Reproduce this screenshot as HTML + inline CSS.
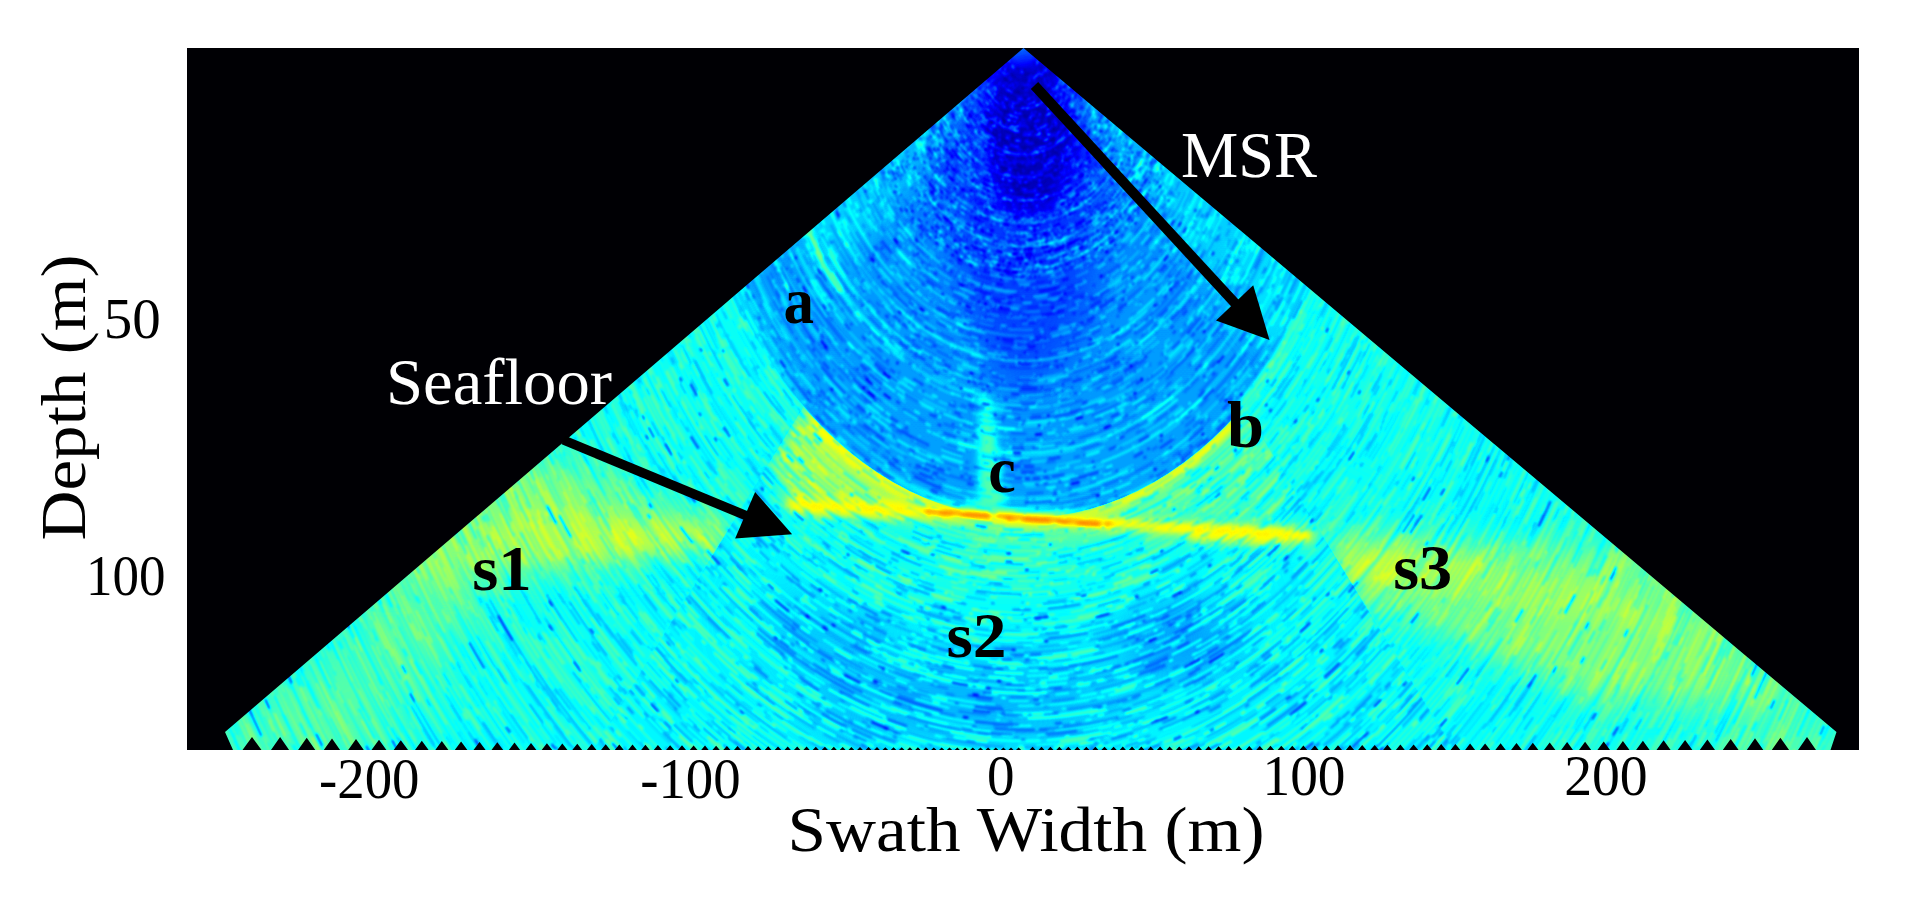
<!DOCTYPE html>
<html lang="en"><head><meta charset="utf-8"><title>Water column sonar image</title>
<style>html,body{margin:0;padding:0;background:#fff}body{width:1922px;height:897px;overflow:hidden}svg{display:block}text{font-family:"Liberation Serif",serif}</style></head><body>
<svg width="1922" height="897" viewBox="0 0 1922 897">
<defs>
<filter id="jet" filterUnits="userSpaceOnUse" x="187" y="48" width="1672" height="702" color-interpolation-filters="sRGB">
<feComponentTransfer><feFuncR type="table" tableValues="0 0 0 0 .5 1 1 1 .5"/><feFuncG type="table" tableValues="0 0 .5 1 1 1 .5 0 0"/><feFuncB type="table" tableValues=".5 1 1 1 .5 0 0 0 0"/></feComponentTransfer></filter>
<filter id="b4" filterUnits="userSpaceOnUse" x="-2600" y="-200" width="5400" height="1800" color-interpolation-filters="sRGB"><feGaussianBlur stdDeviation="4"/></filter>
<filter id="b8" filterUnits="userSpaceOnUse" x="-2600" y="-200" width="5400" height="1800" color-interpolation-filters="sRGB"><feGaussianBlur stdDeviation="8"/></filter>
<filter id="b14" filterUnits="userSpaceOnUse" x="-2600" y="-200" width="5400" height="1800" color-interpolation-filters="sRGB"><feGaussianBlur stdDeviation="14"/></filter>
<filter id="b25" filterUnits="userSpaceOnUse" x="-2600" y="-200" width="5400" height="1800" color-interpolation-filters="sRGB"><feGaussianBlur stdDeviation="25"/></filter>
<filter id="b2" filterUnits="userSpaceOnUse" x="-2600" y="-200" width="5400" height="1800" color-interpolation-filters="sRGB"><feGaussianBlur stdDeviation="2"/></filter>
<filter id="nb" filterUnits="userSpaceOnUse" x="-1300" y="-10" width="2600" height="730" color-interpolation-filters="sRGB"><feGaussianBlur stdDeviation="1.3 1"/></filter>
<filter id="nb2" filterUnits="userSpaceOnUse" x="-1300" y="-10" width="2600" height="730" color-interpolation-filters="sRGB"><feGaussianBlur stdDeviation="1.2 .9"/></filter>
<clipPath id="fan"><path d="M1023.5 48 1836.5 732 1830.5 750 1816 750 1807 737.1 1798 750 1789.1 750 1780.4 737.7 1771.8 750 1763.3 750 1755 738.3 1746.8 750 1738.6 750 1730.7 738.9 1722.8 750 1715 750 1707.4 739.4 1699.8 750 1692.4 750 1685.1 739.9 1677.7 750 1670.6 750 1663.6 740.3 1656.5 750 1649.6 750 1642.9 740.7 1636.1 750 1629.5 750 1622.9 741.1 1616.4 750 1610 750 1603.7 741.5 1597.4 750 1591.2 750 1585.1 741.8 1579 750 1573 750 1567.1 742.1 1561.2 750 1555.4 750 1549.7 742.4 1544 750 1538.4 750 1532.8 742.7 1527.3 750 1521.9 750 1516.5 743 1511.1 750 1505.8 750 1500.6 743.2 1495.3 750 1490.2 750 1485.1 743.4 1480 750 1475.1 750 1470.1 743.6 1465.1 750 1460.3 750 1455.4 743.9 1450.6 750 1445.9 750 1441.2 744 1436.4 750 1431.9 750 1427.2 744.2 1422.6 750 1418.2 750 1413.6 744.4 1409.1 750 1404.8 750 1400.4 744.6 1395.9 750 1391.7 750 1387.4 744.7 1383.1 750 1378.9 750 1374.7 744.9 1370.4 750 1366.4 750 1362.2 745 1358.1 750 1354.1 750 1350 745.1 1345.9 750 1342 750 1338 745.2 1334 750 1330.2 750 1326.3 745.4 1322.4 750 1318.6 750 1314.8 745.5 1310.9 750 1307.2 750 1303.4 745.6 1299.6 750 1296 750 1292.3 745.7 1288.5 750 1285 750 1281.3 745.8 1277.6 750 1274.1 750 1270.5 745.8 1266.8 750 1263.4 750 1259.8 745.9 1256.2 750 1252.8 750 1249.3 746 1245.8 750 1242.4 750 1238.9 746.1 1235.5 750 1232.1 750 1228.7 746.1 1225.3 750 1222 750 1218.6 746.2 1215.2 750 1211.9 750 1208.6 746.3 1205.2 750 1202 750 1198.7 746.3 1195.4 750 1192.2 750 1188.9 746.4 1185.6 750 1182.5 750 1179.2 746.4 1176 750 1172.9 750 1169.6 746.5 1166.4 750 1163.3 750 1160.1 746.5 1156.9 750 1153.9 750 1150.7 746.5 1147.5 750 1144.5 750 1141.3 746.6 1138.2 750 1135.2 750 1132 746.6 1128.9 750 1125.9 750 1122.8 746.6 1119.7 750 1116.7 750 1113.6 746.7 1110.5 750 1107.5 750 1104.5 746.7 1101.4 750 1098.4 750 1095.4 746.7 1092.3 750 1089.4 750 1086.3 746.7 1083.3 750 1080.4 750 1077.3 746.8 1074.3 750 1071.4 750 1068.3 746.8 1065.3 750 1062.4 750 1059.4 746.8 1056.3 750 1053.5 750 1050.4 746.8 1047.4 750 1044.5 750 1041.5 746.8 1038.5 750 1035.6 750 1032.6 746.8 1029.6 750 1021.2 750 1018.6 747.5 1016 750 1013.6 750 1011 747.5 1008.4 750 1006 750 1003.4 747.5 1000.8 750 998.4 750 995.8 747.5 993.2 750 990.7 750 988.1 747.5 985.5 750 983.1 750 980.5 747.5 977.9 750 975.4 750 972.8 747.5 970.2 750 967.7 750 965.1 747.5 962.4 750 959.9 750 957.3 747.4 954.7 750 952.2 750 949.5 747.4 946.9 750 944.4 750 941.7 747.4 939 750 936.5 750 933.8 747.4 931.1 750 928.6 750 925.9 747.3 923.2 750 920.6 750 917.9 747.3 915.2 750 912.6 750 909.9 747.3 907.1 750 904.5 750 901.7 747.2 899 750 896.3 750 893.6 747.2 890.8 750 888.1 750 885.3 747.2 882.5 750 879.8 750 877 747.1 874.1 750 871.4 750 868.5 747.1 865.7 750 862.9 750 860 747 857.1 750 854.3 750 851.4 747 848.5 750 845.6 750 842.7 746.9 839.7 750 836.8 750 833.8 746.8 830.8 750 827.9 750 824.9 746.8 821.8 750 818.9 750 815.8 746.7 812.7 750 809.7 750 806.6 746.6 803.4 750 800.4 750 797.2 746.6 794 750 790.9 750 787.7 746.5 784.5 750 781.3 750 778 746.4 774.7 750 771.5 750 768.2 746.3 764.8 750 761.6 750 758.2 746.2 754.8 750 751.4 750 748 746.1 744.5 750 741.1 750 737.5 746 734 750 730.5 750 726.9 745.9 723.3 750 719.8 750 716.1 745.7 712.4 750 708.7 750 705 745.6 701.2 750 697.5 750 693.6 745.5 689.8 750 686 750 682 745.3 678.1 750 674.2 750 670.1 745.2 666.1 750 662.1 750 657.9 745 653.8 750 649.7 750 645.4 744.8 641.2 750 636.9 750 632.5 744.6 628.2 750 623.8 750 619.3 744.4 614.8 750 610.3 750 605.7 744.2 601.1 750 596.5 750 591.7 744 586.9 750 582.2 750 577.3 743.8 572.3 750 567.4 750 562.3 743.5 557.3 750 552.2 750 546.9 743.2 541.7 750 536.4 750 531 742.9 525.6 750 520.1 750 514.5 742.6 508.9 750 503.2 750 497.3 742.3 491.5 750 485.6 750 479.6 741.9 473.5 750 467.4 750 461.1 741.5 454.8 750 448.4 750 441.8 741.1 435.3 750 428.6 750 421.8 740.7 415 750 408 750 400.8 740.2 393.7 750 386.4 750 379 739.7 371.5 750 363.8 750 356 739.1 348.2 750 340.1 750 332 738.5 323.8 750 315.3 750 306.7 737.8 298.1 750 289.1 750 280.1 737.1 271 750 261.5 750 252 737 242.5 750 233 750 225 732Z"/></clipPath>
<clipPath id="cs"><path d="M1023.5 48 L582.1 768 L1464.9 768Z"/></clipPath>
<clipPath id="oms"><path clip-rule="evenodd" d="M0 0H1922 V897 H0Z M683.5 48 a340 470 0 1 0 680 0 a340 470 0 1 0 -680 0Z"/></clipPath>
<radialGradient id="rg" gradientUnits="userSpaceOnUse" cx="0" cy="0" r="480">
<stop offset="0" stop-color="#474747"/>
<stop offset="0.03" stop-color="#424242"/>
<stop offset="0.06" stop-color="#212121"/>
<stop offset="0.2" stop-color="#262626"/>
<stop offset="0.31" stop-color="#333333"/>
<stop offset="0.42" stop-color="#404040"/>
<stop offset="0.625" stop-color="#464646"/>
<stop offset="0.98" stop-color="#494949"/>
<stop offset="1" stop-color="#4a4a4a"/>
</radialGradient>
</defs>
<rect width="1922" height="897" fill="#fff"/>
<rect x="187" y="48" width="1672" height="702" fill="#000004"/>
<g clip-path="url(#fan)"><g filter="url(#jet)">
<rect x="187" y="48" width="1672" height="702" fill="#636363"/>
<g filter="url(#b25)">
<path d="M638.3 378 L136.3 808 L331.5 808 Z" fill="#757575"/>
<path d="M1689.1 608 L1926.8 808 L1746.2 808 Z" fill="#737373"/>
<path d="M1244.6 348 L1380.1 348 L1641.6 568 Z" fill="#666666"/>
</g>
<g filter="url(#b14)">
<path d="M722 520 L505 452 L365 585 L722 556 Z" fill="#808080"/>
<path d="M1330 530 L1665 553 L1805 705 L1590 700 L1340 592 Z" fill="#808080"/>
</g>
<g filter="url(#b8)">
<path d="M722 527 L520 505 L470 565 L722 549 Z" fill="#888888"/>
<path d="M1336 545 L1600 580 L1700 640 L1345 578 Z" fill="#868686"/>
<ellipse cx="1412" cy="566" rx="70" ry="17" fill="#8e8e8e"/>
<ellipse cx="650" cy="536" rx="65" ry="13" fill="#8f8f8f"/>
</g>
<g clip-path="url(#cs)">
<g clip-path="url(#oms)">
<rect x="500" y="380" width="1050" height="380" fill="#5e5e5e"/>
<g filter="url(#b25)">
<ellipse cx="1180" cy="640" rx="60" ry="40" fill="#454545"/>
<ellipse cx="960" cy="700" rx="160" ry="40" fill="#4c4c4c"/>
<ellipse cx="820" cy="620" rx="70" ry="50" fill="#525252"/>
<ellipse cx="1000" cy="570" rx="230" ry="22" fill="#6b6b6b"/>
</g>
<g filter="url(#b8)">
<path d="M806 400 L1023 500 L1023 518 L790 505 L768 462 Z" fill="#787878"/>
<path d="M1023 500 L1262 392 L1300 530 L1023 518 Z" fill="#6e6e6e"/>
<path d="M806 405 L900 470 L1023 518 L800 506 L772 462 Z" fill="#8b8b8b"/>
</g>
</g>
</g>
<g transform="translate(1023.5 48) scale(0.7234 1)">
<circle r="470" fill="url(#rg)"/>
<g filter="url(#b25)"><ellipse cx="5" cy="190" rx="95" ry="150" fill="#2b2b2b" opacity=".75"/></g>
<g filter="url(#b14)"><ellipse cx="8" cy="88" rx="62" ry="78" fill="#0f0f0f"/></g>
<g filter="url(#b14)"><path d="M435.8 176.1 A470 470 0 0 1 349.3 314.5 L44.6 40.1 A60 60 0 0 0 55.6 22.5Z" fill="#666666" opacity=".45"/><path d="M-267.5 240.9 A360 360 0 0 1 -333.8 134.9 L-55.6 22.5 A60 60 0 0 0 -44.6 40.1Z" fill="#666666" opacity=".45"/></g>
<g filter="url(#b14)"><path d="M-357.8 404.4 A540 540 0 0 1 -507.4 184.7 L-434.1 158 A462 462 0 0 0 -306.1 346Z" fill="#626262"/></g>
<g filter="url(#b14)"><path d="M445 179.8 A480 480 0 0 1 356.7 321.2 L282.4 254.3 A380 380 0 0 0 352.3 142.4Z" fill="#5c5c5c" opacity=".5"/></g>
<g fill="none" filter="url(#b2)">
<path d="M-251.8 243.1 A350 350 0 0 1 -303.1 175" stroke="#808080" stroke-width="8"/>
<path d="M-164.3 309 A350 350 0 0 1 -251.8 243.1" stroke="#696969" stroke-width="7" opacity=".7"/>
<path d="M-48.7 346.6 A350 350 0 0 1 -164.3 309" stroke="#616161" stroke-width="6" opacity=".4"/>
<path d="M60.8 344.7 A350 350 0 0 1 -48.7 346.6" stroke="#5c5c5c" stroke-width="5" opacity=".3"/>
<path d="M-248.9 276.4 A372 372 0 0 1 -322.2 186" stroke="#666666" stroke-width="6" opacity=".6"/>
<path d="M-281.3 291.3 A405 405 0 0 1 -350.7 202.5" stroke="#666666" stroke-width="6" opacity=".5"/>
<path d="M-302.9 313.6 A436 436 0 0 1 -377.6 218" stroke="#696969" stroke-width="6" opacity=".5"/>
<path d="M404.4 233.5 A467 467 0 0 1 300.2 357.7" stroke="#707070" stroke-width="9"/>
</g>
</g>
<g transform="translate(1023.5 48) scale(0.7234 1)" filter="url(#nb)">
<g fill="none" stroke="#fff" stroke-opacity="0.06" stroke-width="3.2">
<circle r="30" stroke-dasharray="0 15.2 1.9 1.5 1.1 2.1 .3 1.7 1.6 3.7 .3 .9 .3 3.9 1.9 .3 6.3 7.9 1.7 2.3 .3 .3 1.2 .3 .3 .7 .3 1.5 .9 4.4 1.2 2.4 1.1 2.6 1 .8 5.6 130.4"/>
<circle r="36" stroke-dasharray="0 18.2 1.8 1.4 3.5 1.4 6 5.3 .3 .7 4.5 1.8 7.4 1.4 .3 2.8 2.8 .9 .3 1.1 6.3 4 .3 .8 .3 .3 3 .6 1.5 1.7 .4 3.7 .3 2.9 .3 1.5 .5 .9 3.4 156.5"/>
<circle r="42" stroke-dasharray="0 21.3 1.5 3.4 .4 15 .5 1 3.3 1.3 .8 .4 .4 2.9 .6 3 1 2 7 2.2 1.9 6.6 .4 .6 5.3 5.6 .6 .7 3 9.3 .5 190.9"/>
<circle r="48" stroke-dasharray="0 35.1 .7 4.6 .7 6.5 2.3 1.3 .5 4.8 .4 1 2.1 7.2 2.4 1.2 6.3 .9 .4 1.2 1.5 .4 .5 1.7 2.1 .5 1.1 8.4 9.9 4 3 3.3 .4 .4 .4 217.8"/>
<circle r="54" stroke-dasharray="0 30.3 1.1 31.2 .5 3.3 3.8 9.8 3.8 5.2 4.5 10.5 1.2 4.9 6.5 8.7 1.5 6.6 5.6 238.1"/>
<circle r="60" stroke-dasharray="0 34.5 .5 4.8 15.7 10 4.1 2.3 4.2 4.1 1.8 8.6 .5 6.5 .5 4.3 2.1 1.2 3.8 3.2 3 11.9 .9 .5 1.1 5.3 .7 .9 7.4 5.1 1.8 267.2"/>
<circle r="66" stroke-dasharray="0 33.4 3.6 12.7 7.3 2.5 3 2 .6 3.6 6.3 9.8 4.3 15.5 1.1 1 2.1 1.7 .8 2.8 3.4 3.5 1.3 9.5 13.9 3.1 .6 .6 7.1 .6 4.3 4.4 1.3 293.3"/>
<circle r="72" stroke-dasharray="0 36.4 1 .6 6.7 1.5 .6 .6 3.7 3.3 3.7 6 6.2 18 4.3 1.3 2.4 1.1 .6 3.6 4.7 1.1 1.2 2.4 4.5 4.2 3.6 8 1.9 8.9 8.9 .6 10.2 7.2 .6 3.4 3.7 325.5"/>
<circle r="78" stroke-dasharray="0 39.5 2.8 9.8 11.8 3.8 4.3 1.4 5.2 10.4 4.2 7.7 1 14.1 16.1 23.2 3.1 9.6 1.6 14.8 7.9 2.6 .7 3.6 3.3 342.1"/>
<circle r="84" stroke-dasharray="0 42.5 7 .7 7.1 1.3 1.8 10.2 .7 1.1 3.2 8.5 8.1 7.7 12.8 4.5 13.1 .7 1.1 4.9 1.5 8.6 4.5 4.9 8.2 5.4 1.6 3.2 8.2 15.2 1 12.5 9.5 365.1"/>
<circle r="90" stroke-dasharray="0 45.6 1.2 4.9 4.4 .8 16.4 5.1 2.4 11.4 3.9 4.8 5.5 .8 3.6 3.8 14.8 18.2 1.5 4.5 .8 4 8 16.3 3.1 2.7 1 6.8 12.2 1 7.1 .8 1 1.8 5.5 2.7 2.1 397.7"/>
<circle r="96" stroke-dasharray="0 48.7 3.8 4.3 2.4 4 3.8 1.3 1.1 7.5 5.1 5.7 9.6 7.1 9.8 2 6.8 12.5 11.7 2.9 1.9 19.3 1.2 48.3 11 1.1 1.4 9.8 1.5 .8 6.5 417.2"/>
<circle r="102" stroke-dasharray="0 51.6 1.1 9.3 .9 1.8 6.1 19.4 18.4 1 3.8 11.4 3.7 9.3 1.1 .9 .9 .9 4.3 5.8 4.5 1.3 1.1 1.8 9.8 37.1 14 .9 .9 24.2 3.3 11.6 2.1 447.9"/>
<circle r="108" stroke-dasharray="0 54.7 6.8 15.8 1.1 5.1 7.6 4.4 1.2 1.5 4.1 .9 12.6 13.7 6.9 16.7 5.6 4.4 5.2 6 22.9 13.9 1.7 20.5 7.7 12.8 9.5 4.4 12.8 473.2"/>
<circle r="114" stroke-dasharray="0 59.6 7.7 1 2.5 5.7 1 3.9 6.1 8.8 1.6 25.9 6.5 3.7 6.4 7.5 4.5 4.4 54.2 9.2 7.2 12.8 23.4 1 5.7 12 1.8 4.6 1 1.9 2.8 1 1.7 498.6"/>
<circle r="120" stroke-dasharray="0 60.7 13.5 7.9 33.4 9.6 10.4 1 5.7 13.4 1 25.1 1.1 6 1.2 6.4 5.9 1 18.3 5.1 4.7 8.6 2.9 3.2 6.7 7.8 2.1 11.9 2.2 1 1.8 1 1.1 13.2 3.1 539.6"/>
<circle r="126" stroke-dasharray="0 63.8 28.8 28.6 1.1 23.4 3.7 6.4 23.9 2.8 4.9 27.4 8.5 6.3 25.4 16.8 6.1 1.2 6.5 6 1.5 1.1 5 1.3 3.9 10.9 4 3 5.8 551.8"/>
<circle r="132" stroke-dasharray="0 66.8 32.6 31.6 9.2 2.8 1.2 23.1 10.6 10.2 3.1 3.3 8 8.6 6.2 10.4 9.7 2.2 2 40.4 17.1 21.9 1.2 1.2 2.2 5.7 6.7 1.2 5.4 1.2 1.2 574.8"/>
<circle r="138" stroke-dasharray="0 69.8 .7 4.6 9.9 19.8 1.2 1.4 12 10.6 10.6 2.6 4 3.2 12 5 7.7 49.1 2.8 8.6 9.9 27.5 4 5 1.2 22.6 1.2 1.2 6 7.2 8.4 3.8 10.8 1.2 1.7 11.8 1.2 603.2"/>
<circle r="144" stroke-dasharray="0 82 3.4 1.4 9.3 9.5 18.9 31.8 18.4 6.5 12.3 4.1 2.9 5.8 20.6 25.5 2.2 5.1 3.4 5.1 3.8 5.5 1.6 9.4 12 8.8 13.6 9.4 1.5 16.1 16 3.7 1.3 634.3"/>
<circle r="150" stroke-dasharray="0 77.3 6.2 18.3 1.3 1.3 10.5 27 1.3 11.8 1.3 16.1 8.2 3.3 2 17.1 5.8 17 3.9 4.9 27.1 13.1 5.3 9.1 10 14.5 19.4 6.2 13.7 12.9 15.1 665.9"/>
<circle r="156" stroke-dasharray="0 79 7.7 12.5 6.1 15.2 13.2 6.7 4.5 1.9 11 57.7 3.8 2.2 1.9 6.8 2.8 42.9 1.4 4.5 1.4 12.8 12.2 2.4 1.4 7.5 7.2 29.4 1.4 1.4 1.7 3 2.2 15.5 7.4 3.1 1.7 4 1.5 690.1"/>
<circle r="162" stroke-dasharray="0 82 2.8 8.3 2.6 27.8 20.8 5.3 6.7 40 5.6 3.2 1.4 37.5 13.7 6.2 6.4 9.2 2.7 58.9 9.1 3.5 1.4 8.1 3.9 20.3 10.6 11.9 1.5 2.2 3.3 3.8 6.3 704"/>
<circle r="168" stroke-dasharray="0 96.9 1.5 22.7 16.5 22.8 1.5 4.2 11.1 1.5 5.8 8.3 27.4 11.7 17.1 4.8 13.7 7.1 21.9 1.5 15.4 3.1 6.9 9.8 1.5 23.5 3.3 4.9 1.5 4.8 5.5 16.6 3.9 15.3 1.5 6.6 5.4 745.5"/>
<circle r="174" stroke-dasharray="0 88.1 4.4 3.7 7.6 8.4 1.5 65.4 14.6 3.2 8.7 4.7 4.3 10.6 3.2 5.6 4.5 15 2.7 3 12 5.5 26.4 11.3 11.7 5.5 16 1.5 1.5 1.5 10.3 16.8 1.8 7 16.5 12.3 1.5 3.5 1.6 1.8 4.8 1.5 23.1 760"/>
<circle r="180" stroke-dasharray="0 113.9 4.6 5.7 5 1.6 4.8 17 37.8 22 10.2 13.3 1.6 5.7 3.9 14.9 1.6 6.7 6.7 22 16.4 13.4 1.6 20.6 22 11.2 4.1 9.8 1.6 17.7 40.8 10.3 6 782.3"/>
<circle r="186" stroke-dasharray="0 94.1 3.9 17.4 3.9 38.7 4.4 9.1 1.6 53.1 1.6 34.2 7.6 12 8 4.5 23.4 70.8 16.6 13.4 1.6 25.4 3.3 33.2 2.7 813.9"/>
<circle r="192" stroke-dasharray="0 97.2 3.3 1.7 1.7 3 43.7 42.3 10.8 5.5 11.2 20.2 4.8 13.5 16.4 1.7 2.2 9.5 1.7 7.4 8.5 2.9 7.4 4.6 8.4 6.1 10.3 1.7 11.2 2.4 32.2 13.8 6.4 8 9.8 17.6 14.3 21 6.7 849.5"/>
<circle r="198" stroke-dasharray="0 137.7 7.7 11.6 5.9 36.5 4 1.7 13.4 35.8 13.7 14.2 14.5 5.7 9.3 1.7 1.7 9.2 7.2 7.9 1.7 18.5 7.7 4.3 3.8 7.8 2.8 1.7 25.1 52.8 11.4 31.3 5.7 868.4"/>
<circle r="204" stroke-dasharray="0 129.7 1.8 25.2 1.8 12.4 32.2 1.8 3 5.7 4.2 1.8 24.1 27.1 5.4 7.1 9.4 1.8 1.8 36.7 3.9 11.1 29 60.6 6.8 3.7 3.7 41 24.3 3.5 17.2 886.6"/>
<circle r="210" stroke-dasharray="0 106.3 18.6 88.8 2.5 16.5 2.3 35 1.8 1.8 14.2 6.2 25.4 33.6 13.7 2.4 13.1 45.8 6.5 1.8 2.8 6.1 13.6 3.6 2.2 4.4 12 25.8 5.1 17.9 23.6 912.6"/>
<circle r="216" stroke-dasharray="0 109.3 21.1 18.7 3.7 17.3 1.9 69.2 6.6 12.7 8.6 1.9 10.4 5.7 3.3 27.6 1.9 5.7 15.9 4.8 3.7 13.5 2.3 38.6 49.8 1.9 7 23.6 5.5 44.9 7.8 3.4 9.2 950.8"/>
<circle r="222" stroke-dasharray="0 123.7 8.2 32.6 13.4 12.8 35.2 3.3 17.6 3.1 10.9 4.7 6.7 25.9 18 27.3 3.1 11.7 2.9 15.1 8 1.9 10.6 21.9 9.9 36 2.3 2.9 1.9 12 6.6 10.2 3.5 27.9 1.9 41.5 9.8 964.9"/>
<circle r="228" stroke-dasharray="0 117 2 6.8 11.6 13.3 3.7 15.9 2 30.8 2.2 5.3 2.1 21 21.2 27.7 2 9.5 5.4 4.4 42.1 2 8 25.7 51.1 2.8 7.3 24.5 2 4.9 26.4 2.7 6 6.3 6.6 2 2 1065.8"/>
<circle r="234" stroke-dasharray="0 119.4 7.6 49.5 5.5 7.6 48.7 17.3 2 9.5 12.9 2 5.2 21.8 24.5 16.4 26.6 11.4 6.1 34 5.9 27.9 3 7.8 2.5 14.7 2.2 4.2 3 11.6 4.5 10.9 61.4 20.9 8.1 1016.9"/>
<circle r="240" stroke-dasharray="0 121.5 12.5 8.5 4 2.1 2.5 5.7 6.3 48.5 15.8 5.9 5.6 3.1 34.7 8.4 18.2 24.2 29.9 2.1 4.9 9.1 2.1 40.3 4.9 27.8 9.2 2.1 6.3 5.1 2.1 3.1 11.4 2.1 4.7 10.4 9.9 2.8 15.4 5.7 16.2 20.7 2.1 4.3 4.1 23.5 6.5 9.2 6.9 1043"/>
<circle r="246" stroke-dasharray="0 140.1 10.7 32 47.8 6.8 14.3 48.6 3.1 22.6 14.1 60 26.1 5.2 12.9 2.1 7.2 9.6 2.1 9.3 5.1 13.3 4.2 3.3 6.6 12.5 2.3 21.1 3.5 2.1 5.4 10.6 2.1 16.9 15.6 15.6 15.5 2.1 6.4 1078.2"/>
<circle r="252" stroke-dasharray="0 135.4 5.2 5.8 2.2 8.4 29.3 16.5 4 21.8 2.7 12.5 12.6 61.2 5.9 17 37.7 29.2 13 19.2 7 10.6 4.3 35 27.9 9.5 31.7 2.2 2.2 14 4.9 8.8 49.8 3.2 2.8 5.1 5.2 1095.2"/>
<circle r="258" stroke-dasharray="0 130.6 3.1 21.3 10.7 19.8 11.1 36 46.9 8.2 5.8 44.1 5.1 25.5 16.1 23.5 44.9 35.2 2.3 19.7 9.1 16.8 6.2 6.8 18.7 15.5 3.7 5.8 5.3 4 9.7 2.7 2.3 2.3 2.3 24.7 2.3 12.2 19.8 1121.2"/>
<circle r="264" stroke-dasharray="0 134.2 4 14.7 22 10.3 17.4 6 17.4 8.2 5.6 29.5 25.6 36.6 11.6 11.3 17 20.2 24.6 33.5 2.3 9.8 15.3 5.4 2.8 2.3 12.2 58.7 48.7 3 16.1 11.3 13.8 10.5 34 1147.3"/>
<circle r="270" stroke-dasharray="0 148.8 71.5 2.7 5.7 2.4 11.1 14 6.6 7.8 22.8 38.7 4.7 10.5 13.6 30.7 56 10.5 16.7 16.7 22.8 3.4 2.7 2.4 38.3 6.1 9.5 2.7 5.5 2.4 11.8 3.3 13.9 6.8 3.7 14 6.4 6.4 2.4 2.4 31.5 7.8 2.4 4.3 7.3 1173.4"/>
<circle r="276" stroke-dasharray="0 139.7 13.6 10.9 2.4 17.3 15.5 21.1 4.7 60.6 28.9 112 8.5 38.9 18.7 4.2 2.4 4 2.4 2.4 6.4 30.4 5.4 15.7 2.4 5.1 46.3 2.4 10.8 36 22.7 28.8 6.8 1199.5"/>
<circle r="282" stroke-dasharray="0 142.7 34.6 2.5 44.3 11.4 18 6.4 35.5 2.5 12.7 5.7 7.3 10.2 15.8 36.9 6.7 22.5 6.5 7.3 34.8 8.6 2.5 9 20 5.3 20.1 17.5 16.8 4.3 2.5 3.4 6.4 12.5 2.5 15.5 7.6 8.6 11.4 67.4 3.4 1259.5"/>
<circle r="288" stroke-dasharray="0 219 8.5 74.4 3.7 11.9 18.5 4.4 4.8 25.6 44.5 8.8 3.1 10 68.7 3.6 15.2 10.7 15.6 5.4 14.4 49.4 29.3 22.4 10.6 19 2.5 41.1 14 1251.6"/>
<circle r="294" stroke-dasharray="0 148.8 11.5 19.6 11.1 2.6 15.2 13.7 13.9 20.8 41.3 3.8 9.7 114.2 20.6 8.7 20.5 105 7.9 46.7 2.6 106.5 10.4 6.2 13.5 1277.7"/>
<circle r="300" stroke-dasharray="0 161.3 79.6 2.6 32.1 29.3 4.5 38.8 9.5 18.1 31.5 5.1 5.2 24.3 2.6 19.1 24.3 15.9 4.3 37.9 30.3 34.7 12.5 55.6 25 3.9 7.2 2.6 2.6 10 31.4 1332.4"/>
<circle r="306" stroke-dasharray="0 201 15.4 55.8 2.7 106 3.7 23.8 33.5 31.3 3.5 26.5 9 2.7 6.6 9.1 15.9 7.8 14.8 28.5 3.2 3.3 19 15.1 2.7 3 45.4 22.6 7.1 5.2 82.2 1329.8"/>
<circle r="312" stroke-dasharray="0 162.1 2.7 24.4 9 42 8.6 15 11.5 69.6 6.9 29.8 4.4 21.2 5.5 50.5 5.5 47.2 18.4 14.9 44.3 12 22.2 22.5 9.7 2.7 8.9 8.1 9.5 75.7 5.7 29.1 18.2 1360"/>
<circle r="318" stroke-dasharray="0 161 32.1 7.2 9.1 10.4 28.6 47.4 14.9 19.7 2.8 56.7 2.8 11.3 7.8 32.1 18.4 10.5 38 74.7 2.8 25 10.5 11.2 10.4 9.5 18.5 23.2 58.6 1464.9"/>
<circle r="324" stroke-dasharray="0 164 13.2 26.7 20.5 153.8 2.8 15.8 8.7 27.2 4.2 116.6 4 11.8 2.8 12.8 23 2.8 3.1 26.6 16.5 34.5 5 42.4 22.3 38.1 2.8 16.1 2.8 1441.2"/>
<circle r="330" stroke-dasharray="0 175.5 2.9 40.4 6.2 18.3 2.9 21.7 2.9 2.9 12.4 9 26 7.3 9.2 2.9 4.2 15.6 14.1 15.9 32.9 2.9 32.8 4.4 60.8 19.3 9 24.6 34.5 86 9.2 2.9 2.9 44.2 22.9 32.3 2.9 19.6 2.9 3 6.2 1457.4"/>
<circle r="336" stroke-dasharray="0 230 7 17.7 18.7 57.5 51.5 22.1 12.2 61.8 8.8 9.4 23.7 7.9 8.1 14.8 11.4 11.7 9.9 15.8 2.9 47.7 2.9 19.8 14 13.5 4.4 2.9 8.2 10 11.6 6.9 24.4 17.6 2.9 13.8 59.6 2.9 15.8 1463.8"/>
<circle r="342" stroke-dasharray="0 173.1 7.9 23.9 6.8 18.5 13 37.6 3 3 5.2 8.5 28.4 14.9 35.2 13.8 6 30.6 3 111.2 31.9 10.7 6.8 46 27.8 27.6 3 38.7 3 26.3 14.4 70.4 18.2 3 29.8 1486.3"/>
<circle r="348" stroke-dasharray="0 176.1 24.1 14.8 20.7 112.5 45.3 3 27.7 15.9 25.4 13 10.8 15.7 3 10.5 24.2 3 3 49.1 20 21.7 3 3.4 6.8 84.1 15 69.8 4.3 14.6 14 50 3 1521.8"/>
<circle r="354" stroke-dasharray="0 179.2 9 13.2 20.8 73.2 12.6 32.5 9.1 41.9 3.1 37.7 3.4 24.5 4.2 11.8 3.3 12 16.6 20.4 9.1 23.7 34.2 12.3 16.2 18.2 73.1 11.1 22.2 7.4 5.6 36.4 15.9 8.3 3.1 48.4 8.8 35 10.5 1543.3"/>
<circle r="360" stroke-dasharray="0 198.7 12.6 7.4 26.4 3.1 6.9 53.2 3.1 33.9 15.8 22.7 7.6 4.6 56.8 40.9 30.9 3.1 28.9 7 4.2 21.6 17.7 3.6 27.3 24.7 43.3 72.8 22 12.8 56.9 35.8 6.5 1600.2"/>
<circle r="366" stroke-dasharray="0 185.2 10.8 8.4 6.6 8.4 3.2 19.1 6.1 9.6 6.2 20.5 39.7 5 37.6 55.5 18 22.6 25.4 22 20.7 72.3 28.6 8.6 3.2 79.3 8.6 44.5 5.1 17.3 8.9 37.6 55.1 20.3 16 12.3 5.1 1601.8"/>
<circle r="372" stroke-dasharray="0 188.3 23.5 3.2 16.2 3.7 87.5 10.8 40.1 3.2 21.4 3.2 3.2 24.7 79.1 33.8 37.7 44.9 14.3 3.2 14.6 6 14.6 12.8 13.5 6.4 23.8 15.8 13 3.2 13 23.8 70 24.1 3.2 10.4 8 35.4 26.6 1616.7"/>
<circle r="378" stroke-dasharray="0 265.4 3.3 20 17.7 34.4 18.8 28.2 53.6 3.3 14.5 95.2 3.3 3.5 40.2 93.5 3.3 3.3 35 34.6 14.5 25.8 28 49 3.3 3.3 31.3 1712.7"/>
<circle r="384" stroke-dasharray="0 194.9 3.4 44.4 6.1 26.6 15 12.3 22.6 18.3 5.4 64.4 3.9 4.9 5.9 19.7 30.8 12.2 5.5 32 6.1 22.3 5.9 63.2 4.1 8 7.2 12.1 26.1 33.8 31.4 23.4 3.4 43.5 5.6 7.4 10.8 138.3 9.3 13.3 8.8 1668.8"/>
<circle r="390" stroke-dasharray="0 197.4 24.9 46.7 8.4 47.9 9.7 10.4 18.4 41.4 13.2 52.2 3.4 21.2 9.8 3.4 50.2 4.7 4.7 64.5 66 82.1 8.5 81.8 3.4 38.4 59.5 6.6 3.4 34.7 10.9 1694.9"/>
<circle r="396" stroke-dasharray="0 284.1 3.5 6.4 8.9 3.5 7.6 6.3 3.5 23.3 16.1 26.1 29.8 23.3 61 3.5 5.2 3.5 7.7 44.5 53.5 21.8 3.6 12.5 17.4 10.8 32.6 111.9 12.8 28.7 38.8 19.5 4.4 89.7 18.3 1721"/>
<circle r="402" stroke-dasharray="0 237.6 5 3.5 5.2 50.7 14.6 33.4 13.2 6.4 3.5 11.5 3.5 9.5 20.3 14.6 13.5 30.9 8 13.9 45.3 27.5 11.4 24.5 13 12.8 51.6 8.4 57.8 60.5 45 5.6 15 131.7 7.2 5.9 27.1 8.5 2.2 1747"/>
<circle r="408" stroke-dasharray="0 232.2 9.1 26.3 14.7 82 15.4 15.3 3.6 22 6.7 27.4 21.3 19.9 3.6 22.1 14 32.9 75 10.5 12.5 3.6 34.4 8.6 37.7 51.2 6.3 74.7 15 17.8 17.3 93.5 14.4 21.1 7.3 1779.3"/>
<circle r="414" stroke-dasharray="0 209.5 33 52.9 83.4 81 25 51.9 27 53.9 35 6.3 36.5 11.8 6.1 81.9 3.6 23.3 9.1 51 20.4 78.7 58.4 33.6 3.6 1813.1"/>
<circle r="420" stroke-dasharray="0 215.9 4.5 39.1 31.2 138.6 21.4 4.4 28.5 3.7 44.5 48.3 33.8 68.2 18.5 94.7 22.4 22.3 10.7 14.4 3.7 5.8 34.9 8.6 23.3 49.2 26.1 23.9 8.4 10.5 4.6 34.4 8.2 1825.3"/>
<circle r="426" stroke-dasharray="0 215.6 2.4 11.5 67.8 32.3 73.3 49.8 9 11 16.5 22.4 3.7 66.4 17.1 21.4 30.4 9.6 5 29.1 6.2 13.3 3.7 3.7 9.8 25 66.3 34.1 11.9 17.5 6 21.5 71.3 4.4 12.7 38.7 32.1 27.1 22.9 1851.7"/>
<circle r="432" stroke-dasharray="0 218.7 3.4 201.1 17 7.1 32.9 3.8 3.8 27.2 7.2 43.1 29.3 13 32.9 35.4 27.7 20.7 12.8 3.8 14.6 105 49.6 3.8 3.8 10.7 26.8 19.5 3.8 18.8 19.3 46.3 11.7 35.6 25.9 1880"/>
<circle r="438" stroke-dasharray="0 228 14.5 3.8 70.5 65.7 15.3 30.5 8.7 141.5 3.8 12.5 5.7 69.1 16.3 18.2 11.7 75 6.8 53.9 28.2 20.5 10.4 19.8 13.8 13 22.4 18.2 8.3 51 13.9 22.1 48.5 1916"/>
<circle r="444" stroke-dasharray="0 224.7 34.9 53.7 11.9 38.8 31.4 12.3 29.9 104.3 24.8 38.5 13.3 37 6 51.3 18 136.3 9.7 43.4 3.9 18.8 33.8 10.5 22.1 8.7 11.8 2070"/>
<circle r="450" stroke-dasharray="0 227.8 21.6 64.2 11.7 31.5 29.3 50.7 32.3 30.6 6.8 43.2 19.4 27.8 102.5 5.2 35.7 13.9 30.6 106.1 7.6 29.6 17.7 24.2 4.3 34.7 52.8 38.5 8 58 12.8 1962.6"/>
<circle r="456" stroke-dasharray="0 301.6 10.4 51 4 12.8 28.1 42 42.1 17.1 7.6 15.9 18.4 4 11.2 38.3 4 13.3 49.2 97.1 6.9 7 4 4 37.7 48.1 7.3 24.1 28.4 4 40.8 70.3 5.7 43.5 28.7 14.7 50.3 1989.9"/>
<circle r="462" stroke-dasharray="0 289.7 20.4 34.1 105.1 9.2 6.1 35.1 4 120.9 10.1 21 13.6 63.8 59.7 41 4.5 15.9 29.6 8.8 51.8 74.7 6.2 16.4 6.3 46 4 43.2 4 66.8 5.4 2007.8"/>
</g>
<g fill="none" stroke="#fff" stroke-opacity="0.11" stroke-width="3">
<circle r="33" stroke-dasharray="0 17.4 .4 8.6 1.5 4.8 1 5.6 .3 3 .3 12.3 .3 8.9 .3 6 .5 2.7 2.3 .3 .3 153.7"/>
<circle r="39" stroke-dasharray="0 19.7 5.8 18 .3 3.4 .3 2.3 1.5 1.1 1.8 .3 .3 10.4 .8 3.3 1.4 4 .7 .3 1.9 21 4.1 169.5"/>
<circle r="45" stroke-dasharray="0 29.5 .4 1.9 .8 5.1 2.9 4.9 .4 12.2 1 5.2 .4 3.9 .8 10.4 .4 5.6 .4 8.4 .4 2.3 .7 7.2 .4 4.3 .4 2.3 1.1 200.3"/>
<circle r="51" stroke-dasharray="0 37.4 .9 1.7 2.7 19.5 .4 2.5 2.9 3.4 .5 .4 .4 7.7 8.1 267.5"/>
<circle r="57" stroke-dasharray="0 28.9 .6 13.9 3.9 9.1 .6 6.7 1.4 8.8 .7 26.2 4.9 1.6 .8 18.5 .7 270.7"/>
<circle r="63" stroke-dasharray="0 32.4 2.8 11.7 .5 21.5 1.3 2.7 1.4 38.5 2 9.7 6.1 32.4 3 273.8"/>
<circle r="69" stroke-dasharray="0 36.3 1.1 5 3.5 9 .6 13.4 6.2 17.3 6 26.2 2 16.9 1.3 1.1 1.2 4.1 7.2 12.7 2.1 308.6"/>
<circle r="75" stroke-dasharray="0 39.5 .8 6.2 1.1 13.6 .7 1.1 1.1 14 4.1 12.7 7.9 5.4 .7 7.9 1.7 2.3 3.2 4.9 .8 4.7 8.3 .7 1.3 3.9 .7 6.7 .7 29.6 2 335.7"/>
<circle r="81" stroke-dasharray="0 60.1 .9 7.8 6 22.7 .8 9.8 4.5 6.4 3.5 13.8 11.2 10.3 3.6 5.5 4.1 4.9 2.2 5.7 1.1 1.9 .8 10 .9 .7 5.1 4.3 5 352"/>
<circle r="87" stroke-dasharray="0 56.8 6.2 12.8 5.1 7.3 3.2 4.2 1.7 6.5 1.6 7 5.5 2.5 .8 4 11.8 10.1 .8 24.7 6.9 23.5 1.5 18.1 1.2 2 3.4 378.1"/>
<circle r="93" stroke-dasharray="0 60 1.3 3.1 .8 5.5 7.1 13.6 .8 16.9 2.7 8.7 2.7 15.4 5.8 10.3 3.6 9.2 3.6 7.2 1.9 10.6 4.5 4.8 9.2 9.9 6.9 17.1 2 404.2"/>
<circle r="99" stroke-dasharray="0 67.6 6.9 2.2 .9 1.8 .9 .9 .9 4.5 .9 18 3.6 52.4 12.3 21.4 11.4 .9 1 40.5 2.5 3.6 5.4 431"/>
<circle r="105" stroke-dasharray="0 103.4 17.4 23.9 10.9 7.4 1.4 42.4 3.7 18.2 .9 4.3 2.7 21.7 7 467.7"/>
<circle r="111" stroke-dasharray="0 135.9 2.8 3.8 4.2 13.4 1.9 4.6 2.1 16.5 1 13.6 13 23.8 1.2 9.5 1 23.3 4.3 3.3 3.4 492.5"/>
<circle r="117" stroke-dasharray="0 60.3 27 7.4 3.1 11.3 1 9.4 1 7.2 2.1 7.9 12.5 6.5 1.8 19.7 2.3 13.3 4.7 1.4 5 2 1.3 30.5 20.5 20.6 1 10.6 1.5 524"/>
<circle r="123" stroke-dasharray="0 81.9 4.2 12.6 15.1 11.8 13.1 9.6 3 8.6 5.9 26.9 1.3 14.4 6.1 13.5 5.1 18.5 5.9 8.5 1.7 1.1 10.4 30.1 2.3 546.9"/>
<circle r="129" stroke-dasharray="0 65.3 5.2 11.1 1.9 6.1 2.6 1.1 1.1 2.5 1.8 3.5 1.1 36.1 2.4 13.7 4.6 54.8 1.1 5.2 9.8 48.7 13.3 15.2 2.3 4.2 12 574"/>
<circle r="135" stroke-dasharray="0 68.3 9.1 2.4 5 4.3 9.4 38.8 5.4 12.1 1.2 14.4 2.3 10.8 1.2 53.6 3.8 17.5 9.6 48.1 4.1 16.7 9.7 594.5"/>
<circle r="141" stroke-dasharray="0 71.4 7.9 16.6 5.3 102.9 1.3 11.6 8.7 30.4 4 33.2 6.1 45 5.7 10 1.8 1.9 1.2 1.2 5.1 612.8"/>
<circle r="147" stroke-dasharray="0 74.4 15.3 17.6 1.3 40.5 11.1 88 1.4 11.9 6.1 7.7 4.8 27.9 7.9 40.1 7.8 7.8 8 646.9"/>
<circle r="153" stroke-dasharray="0 77.4 5.1 10.6 1.3 16.2 3.1 9.5 4.9 18.6 4.4 104.9 13.8 8.5 12.1 9.1 16.2 1.4 2.2 64.6 6.4 677.7"/>
<circle r="159" stroke-dasharray="0 80.5 15.8 1.7 1.4 14.1 10.4 28.4 39.4 37.7 3.5 60.5 2.3 1.4 19.6 53.2 6.6 16.3 1.4 6.2 1.4 2.5 4 701.8"/>
<circle r="165" stroke-dasharray="0 90.4 9.5 31.8 26.5 48.4 7.2 23.1 1.4 16.5 3.8 4.3 1.4 13.7 1.4 25.4 2.5 114.4 7.3 722.8"/>
<circle r="171" stroke-dasharray="0 163.4 16.1 28.2 6.9 4.2 5.1 4.9 2.6 23.8 1.5 7.1 8.6 17.8 14.5 4.7 1.5 74.9 6.2 31.8 5.3 4.3 17.4 743.1"/>
<circle r="177" stroke-dasharray="0 108.9 1.9 54.6 2.1 2.3 1.5 8.8 20.1 58.6 7.5 15.5 1.5 49.5 1.5 6.2 3.9 55.2 1.5 1.8 16.2 1.5 9 4.2 2.4 6.5 3.9 789"/>
<circle r="183" stroke-dasharray="0 128.5 17.4 1.6 2.9 92.6 1.6 2.4 2.2 63.2 2.1 36.7 1.6 30.8 1.6 26 9.5 60.6 .9 795.3"/>
<circle r="189" stroke-dasharray="0 273.4 1.6 9.5 8.6 64.3 2.2 43.4 4.7 1.6 1.6 1.6 1.9 80.1 3.4 821.4"/>
<circle r="195" stroke-dasharray="0 125.2 8.8 3 16.4 5.2 4.4 35.6 10.2 53.6 2.8 10.8 9.7 1.7 15.5 11.6 3.7 11.5 9.4 5.9 1.7 2.1 1.7 29.9 33.8 1.7 4.6 13.5 2.8 12.9 1.7 16.9 2.3 1.9 1.7 887.1"/>
<circle r="201" stroke-dasharray="0 118.4 2 3.6 32 36.4 9.9 4.9 12.1 24.2 1.8 7.5 26.5 30.8 1.8 2.7 10.7 13.7 5 4.7 1.8 21.7 4.3 6.5 1.8 18.6 1.8 2 5 1.8 10.2 46.1 9.4 923.8"/>
<circle r="207" stroke-dasharray="0 104.8 5.2 1.8 32.4 36.6 33.2 2 17.8 107.9 12 28.2 8.3 21.4 15.2 28.1 6.3 16.9 7.9 28.7 22.4 908"/>
<circle r="213" stroke-dasharray="0 151.5 1.9 5.3 1.9 32.4 1.9 27.4 17.5 18.7 2.1 30.4 4.3 19.2 1.9 38.4 3.5 140.8 5.6 38.4 18.5 925.7"/>
<circle r="219" stroke-dasharray="0 175.3 13.1 10.2 10.6 28.5 5.1 33.9 5.1 36.8 10 1.9 8.6 42 16.9 26.4 6.6 5.4 1.9 77.7 1.9 1011.1"/>
<circle r="225" stroke-dasharray="0 169.1 4.2 6.8 2 104.6 2 39.1 8.8 11.6 7 40.9 2 9.9 22.3 8.2 5.8 21.4 13 68.8 12.5 1010.8"/>
<circle r="231" stroke-dasharray="0 116.9 3.4 20.6 12.5 17.1 2 17.5 15.8 24.9 9.8 2.1 2.2 11.2 5.9 4.6 25.8 14.6 2 9.9 6.2 34.7 14.9 3.3 31.3 70.2 6.4 37.8 3.2 5.8 2 1077.8"/>
<circle r="237" stroke-dasharray="0 131.8 10.6 3.9 12.8 7.2 8.1 36.3 17.1 35.5 2.1 62.9 4.3 30.8 14.7 141 2.1 22.6 3.4 69.9 4.6 1033"/>
<circle r="243" stroke-dasharray="0 159.9 2.1 13.4 2.1 68.2 4.7 13.7 11.8 164.1 2.1 44.9 2.4 59.8 12.8 55.8 8.2 5 9.4 1056"/>
<circle r="249" stroke-dasharray="0 159.4 3.7 21.1 21.6 49.2 2.2 44.5 18.3 36 21.5 12 3.3 78.5 2.8 5.3 2.2 83.7 16.5 8.6 12.9 8.6 9.3 2.2 8.2 1106.6"/>
<circle r="255" stroke-dasharray="0 129.1 10.4 18.7 13.3 36.6 16.2 53.8 3.6 68.5 16.6 22.3 12.4 21.4 8.4 15.7 6.1 14.8 22 38 9.3 29.6 6.1 7.7 10.2 23.7 4.1 28.8 2.2 1130.6"/>
<circle r="261" stroke-dasharray="0 257.1 9.7 15.7 2.3 34.9 2.5 93.8 12.6 13.3 5.2 3.7 2.5 33.5 21.5 22.8 32.9 12.1 2.3 75 4.8 13.5 5.9 1144.5"/>
<circle r="267" stroke-dasharray="0 135.1 3.8 45 8.4 7.3 20.2 23.6 8 90.8 2.3 28.7 5.7 42.7 2.6 11.6 2.6 34.3 3.7 110 21 54.5 5.4 1196.9"/>
<circle r="273" stroke-dasharray="0 138.2 11.3 100.4 5.4 17.9 2.4 97 2.4 2.4 2.4 31.1 12 101.2 11.4 4.6 27.9 88 17.3 1232.6"/>
<circle r="279" stroke-dasharray="0 141.2 30.1 2.4 5.9 36.9 7.6 18.1 7.6 16.6 11.6 2.4 4.5 46.2 6.5 2.4 6.6 115.2 7.9 57.5 5.2 172.2 8 1234.9"/>
<circle r="285" stroke-dasharray="0 222.4 48.5 102.2 26.1 20.3 4.5 99.8 19.1 40 9 2.5 9 2.7 8.2 11.3 10.2 7.7 4.3 65.8 9.5 6.4 21.5 1238.6"/>
<circle r="291" stroke-dasharray="0 164.7 26.1 4.6 7.9 13.3 10.2 28.6 11.1 73.7 7.8 25.1 9.1 8.4 27.3 22.6 7.7 83.9 20 1479.5"/>
<circle r="297" stroke-dasharray="0 196.1 11.1 2.6 9.4 51.6 5.1 82.7 15.4 101.2 3.9 50.6 9.4 19.4 4 4.3 20.6 15.1 4.9 13.7 9.3 31.8 23 3.9 4.8 84.2 4.8 1290.7"/>
<circle r="303" stroke-dasharray="0 158 15.9 19.1 2.6 108.2 2.6 231 7 91.2 7.5 109.9 16 9 2.6 8.9 9 1316.8"/>
<circle r="309" stroke-dasharray="0 156.4 9.2 12.5 18.6 14.7 5.4 25.1 22.5 2.7 19.8 4.8 41.9 39.4 16.4 35.1 13.2 56.3 2.7 10.4 28.5 12 3.3 2.7 14.8 75.3 2.7 96 2.7 33.3 8.6 14.1 4.6 1351.5"/>
<circle r="315" stroke-dasharray="0 332.8 3.7 5.4 32.4 128.6 2.9 37.3 25 19.2 5 2.7 2.7 46.2 8.3 98.2 7.1 15.7 6 7.4 7.9 1404.3"/>
<circle r="321" stroke-dasharray="0 162.5 38.7 60.2 4.7 52.2 2.8 5.8 20.4 61.9 12.1 41.6 5.3 91.5 8.9 87.9 16.3 20.5 20.8 21.7 11.8 93.3 5 1395"/>
<circle r="327" stroke-dasharray="0 165.5 12 18.9 2.9 44.4 6.8 69.1 2.9 36.8 39.2 9.7 6.2 25.7 2.9 8 4.7 40.9 2.9 51.7 5.9 18.3 23.9 69.6 7.4 15.5 8.9 53.7 17.9 55.7 2.9 8.9 22.2 1421.1"/>
<circle r="333" stroke-dasharray="0 168.5 12.3 91.6 4.8 16.5 2.9 19.1 9.2 31 2.9 5.4 3.4 92.9 42.7 103.6 8.7 23.5 28.9 73.7 13.3 63.1 35.5 1471.3"/>
<circle r="339" stroke-dasharray="0 171.6 6.1 76.6 21 3 21.4 14.8 3 3 8.1 32.1 3 66.4 3 140.5 85 21.6 3 3.9 10 23.3 19.6 28 3.9 9.4 62.6 1523.2"/>
<circle r="345" stroke-dasharray="0 243.9 13.8 17.6 5.7 90.3 3 56.4 16.2 39.4 10.7 139.9 5.2 75.5 17 72.7 3 64 6.2 7.5 21 1499.3"/>
<circle r="351" stroke-dasharray="0 178.6 12.8 56.1 18.6 9.1 4.3 97.9 10 74 8.3 30 3.1 101.5 31.7 69.3 3.3 54.8 15.4 18.2 6.4 1647"/>
<circle r="357" stroke-dasharray="0 202.6 36.3 48.3 9.1 8.9 11.2 7.8 3.1 22.8 4.1 85.5 11.4 57.4 4.5 27.9 3.1 19 68 62.1 5.6 55.6 33.1 93.6 10.2 9.5 3.1 4.1 23.5 1560.7"/>
<circle r="363" stroke-dasharray="0 185.1 3.2 3.2 13.5 3.2 7.4 24.8 28.4 24.7 3.2 65 3.2 221.3 35.6 270.7 13.4 11.4 3.2 1614"/>
<circle r="369" stroke-dasharray="0 188 27.3 19.6 25.4 9 15.5 3.2 4 4.3 3.2 43.7 23.7 97.3 34.7 16.5 39.3 32.2 15.6 74.3 4.5 19.1 8.1 24.2 18.5 116.6 15.3 3.2 22.6 1667.2"/>
<circle r="375" stroke-dasharray="0 189.8 25.2 29.7 11.7 13.3 4.2 32.3 11.9 17.4 11.6 32.7 3.6 61.3 5.5 3.3 4 32.2 13.8 4.2 31.6 4.8 42.2 3.3 5.3 24.1 16.1 5.5 3.3 102.2 36.1 3.4 3.3 24.5 6.5 66.8 41 1690.3"/>
<circle r="381" stroke-dasharray="0 192.8 24 119.9 6.7 14.9 29.1 15.7 7.6 131 3.3 26.1 3.3 35.5 40 190.3 20.5 112.5 6.9 1679.7"/>
<circle r="387" stroke-dasharray="0 249.1 3.4 53.3 43.9 82.8 21 12.1 6.9 50.1 24.3 16.5 11.5 83.1 17.3 18 3.4 27.1 3.4 50.1 11.1 3.4 40.9 149.6 3.4 19.4 14.8 1681.9"/>
<circle r="393" stroke-dasharray="0 202.5 11.3 87.5 14.9 36 15.9 76.8 10 19.4 15.1 101.1 3.4 63.6 8.2 10.9 6 4.4 26.1 50.6 8.6 124.8 26.6 31.1 3.4 54.7 4 1726.8"/>
<circle r="399" stroke-dasharray="0 202 5.7 6.2 3.5 51.9 4.2 31.3 7.1 89.6 22.9 135.5 4.2 18.9 27.3 32.3 3.5 43.9 4.2 62.9 7.9 11 21.3 139.1 3.5 15 10.6 11.2 50.1 1759"/>
<circle r="405" stroke-dasharray="0 211.3 14.6 134.6 7.8 50.8 48.9 43.4 7.4 130.5 17.6 34.2 26.2 18.1 3.5 17 6.3 123.1 4.6 4.8 3.5 102.5 10.8 1805.8"/>
<circle r="411" stroke-dasharray="0 290.1 11.1 119.7 46.8 43.1 3.6 122.4 33.8 55.2 12 98.4 7 3.6 49.5 40.7 6.5 1925.9"/>
<circle r="417" stroke-dasharray="0 211.1 21.3 9.4 19.4 14.9 6.3 99.9 3.6 162.4 20.3 171.3 30 59.2 8.2 6.6 39 98.8 6.2 22.3 53.9 26.2 3.6 1817.2"/>
<circle r="423" stroke-dasharray="0 227.7 14.8 72.9 3.7 100.7 3.7 7.4 15 154.8 19 128.1 31.4 73.4 41.8 2058.7"/>
<circle r="429" stroke-dasharray="0 250.5 13 42.2 36.5 69.2 42.2 305.2 3.7 22.8 68 7.3 7.9 12.8 18 41.3 33.3 2021"/>
<circle r="435" stroke-dasharray="0 558.4 9.2 39.2 77.3 57.8 3.8 56 3.8 3.8 35.2 96.1 8.6 187 4.1 3.8 2.3 1890.5"/>
<circle r="441" stroke-dasharray="0 223.2 2 44.8 30.4 8.4 21.7 16.3 32.9 54.4 7.6 34.3 4.4 89.1 11.3 10.6 5.5 33.1 5.5 12.1 13.5 86.7 3.8 80.7 3.8 47.9 28 24 31.1 6.5 6.2 3.8 3.8 81.9 44 1965.4"/>
<circle r="447" stroke-dasharray="0 356.3 45.8 29.2 3.9 111.7 3.9 3.9 80.4 15.7 4.7 75.1 21.9 73.1 3.9 160.6 7.9 16.1 26.7 18.2 9.5 21.4 11 2019.8"/>
<circle r="453" stroke-dasharray="0 287.7 10.5 33.3 14.5 5.2 4 9.1 4 22 4 179.3 4 21.1 4 63.5 37.6 56.9 8.6 108.5 15.8 89.3 22.4 21.4 4 25.4 4.1 96.6 32.3 1973.6"/>
<circle r="459" stroke-dasharray="0 232.3 70 116 25.8 125.6 45.6 158.5 26.9 79.6 4 28 7.1 108.4 4 94 9.6 7.8 8.3 22.9 19.6 2010.2"/>
<circle r="465" stroke-dasharray="0 278.5 4.1 34.4 4.1 20.8 12.6 149.1 12.5 151.2 7.3 4.8 32.4 25.1 6.2 83.2 106.3 55.7 12.9 19.3 4.1 32.2 4.3 57 4.1 21.7 5.7 4.1 28.5 32.3 11.3 2020.8"/>
</g>
<g fill="none" stroke="#fff" stroke-opacity="0.1" stroke-width="3">
<circle r="37" stroke-dasharray="0 22 9.5 20.8 5.4 19.5 .3 7 7.4 3 2.7 160.8"/>
<circle r="60" stroke-dasharray="0 51.2 48.3 34.6 .8 19.2 4 260.8"/>
<circle r="83" stroke-dasharray="0 95.5 17.3 23.9 41.8 401"/>
<circle r="106" stroke-dasharray="0 53.7 184.1 502.3"/>
<circle r="129" stroke-dasharray="0 89.8 4.3 81.2 82 1.1 81.6 560.6"/>
<circle r="152" stroke-dasharray="0 76.9 44.9 48.2 70.5 55 1.7 12.4 19.6 41.5 29.8 660.6"/>
<circle r="175" stroke-dasharray="0 116.2 261.1 844.5"/>
<circle r="198" stroke-dasharray="0 100.2 241.7 12.5 112.3 915.6"/>
<circle r="221" stroke-dasharray="0 111.9 75.6 34.1 21.2 1.9 80.5 1217.7"/>
<circle r="244" stroke-dasharray="0 123.5 22.2 5 74.5 167.4 73.6 5.1 3.7 28.2 131.2 1069"/>
<circle r="267" stroke-dasharray="0 135.1 3.8 75.2 14.9 17.2 74.3 256.7 35.4 1251.4"/>
<circle r="290" stroke-dasharray="0 146.8 96 265.3 256.2 1260.3"/>
<circle r="313" stroke-dasharray="0 158.4 48.6 57.3 20.2 13 527.4 1360.3"/>
<circle r="336" stroke-dasharray="0 249.9 114.6 118.6 13.6 176.1 181.4 1491.5"/>
<circle r="359" stroke-dasharray="0 181.7 120 244.6 9.5 76.6 33 233.3 47.4 1560.2"/>
<circle r="382" stroke-dasharray="0 193.3 60.9 199.4 46.8 100.6 182.2 11.4 212.1 1660.1"/>
<circle r="405" stroke-dasharray="0 205 559.2 249.6 49.8 1763.8"/>
<circle r="428" stroke-dasharray="0 302 283.7 2402.4"/>
<circle r="451" stroke-dasharray="0 228.3 71.9 168.8 54.4 205.2 94.7 295.7 69.6 1960"/>
</g>
<g fill="none" stroke="#fff" stroke-opacity="0.15" stroke-width="3">
<circle r="24" stroke-dasharray="0 13.3 5.1 19.1 3.8 1.8 .2 7.6 4.8 4.6 2.4 104.8"/>
<circle r="33.2" stroke-dasharray="0 28.2 10.8 3.7 2.7 33.6 3.6 149.2"/>
<circle r="37.8" stroke-dasharray="0 91.4 .5 172"/>
<circle r="42.4" stroke-dasharray="0 33.8 1.5 50.4 1.6 23.4 1.1 184.3"/>
<circle r="47" stroke-dasharray="0 40.4 .7 14.5 2.8 12.7 .5 16.9 8.7 6 1.4 223.5"/>
<circle r="51.6" stroke-dasharray="0 43.3 1.5 9.9 1.1 15.7 4.6 5.8 .5 277.8"/>
<circle r="56.2" stroke-dasharray="0 28.4 2.5 18.2 1.8 20.7 11.2 14 1.7 3.4 1 2.6 .5 3.8 6.4 12.1 5.7 258.3"/>
<circle r="60.8" stroke-dasharray="0 30.8 8.1 1.5 5.1 28.7 3.7 8.1 .5 1.4 3.5 4.3 2.7 4.8 .6 5.5 4.5 10.5 1.7 10.5 2.8 11.4 2.1 271.5"/>
<circle r="65.4" stroke-dasharray="0 33.3 1.6 .6 4.8 13.2 1.9 35.2 1.4 13.6 9.3 12.7 3.3 7.2 21.9 296.7"/>
<circle r="70" stroke-dasharray="0 43.2 2.6 3.4 3 19.1 5.1 9.4 2.1 11 2.7 10.1 .6 4.8 15.4 27.5 2.2 21.9 .5 304.2"/>
<circle r="74.6" stroke-dasharray="0 37.8 5.5 14.9 17.4 1.6 8.4 28.5 .7 12.1 5 3.9 3.7 29.9 5.5 8.8 .7 336.7"/>
<circle r="79.2" stroke-dasharray="0 63.1 12.9 8.2 .7 21.8 1.4 22.3 6.2 .7 4.6 5.3 1.4 6.4 2.7 4.4 2.4 5.2 .7 4.5 4 5.8 .8 7.1 .8 359.6"/>
<circle r="83.8" stroke-dasharray="0 49.7 2.6 7.7 2.6 22.4 .7 12.9 .7 12 1.3 25.5 7.4 49.3 1.8 15.1 .7 372.4"/>
<circle r="88.4" stroke-dasharray="0 60.2 4.8 25.2 1.2 4.4 1 3.3 .8 2.1 2.4 8.8 7.7 7.5 .8 42 .8 6.5 5 6.1 11.6 21.4 1.3 392.4"/>
<circle r="93" stroke-dasharray="0 80.1 3.7 23.4 5.5 4.3 .8 31.8 6.4 9 1.1 1.3 1.8 37.6 .8 6 .8 13.2 .8 420.9"/>
<circle r="97.6" stroke-dasharray="0 49.4 6.4 44.4 4.9 3.8 .9 7.1 7.3 45 .9 15.8 1.7 9.6 .9 20.1 5.3 458.3"/>
<circle r="102.2" stroke-dasharray="0 51.7 4.7 22.9 .9 8.1 2.3 30 4.1 4.3 10.5 41.8 6.8 10.7 2.2 8.2 13.3 10.3 11.2 3.2 .9 10 .9 4.7 .9 2.1 2 444.7"/>
<circle r="106.8" stroke-dasharray="0 55.7 2.9 23.6 .9 12.1 2.7 39.3 4.3 5 3.3 36.3 10.6 22.9 .9 7.3 2.3 6.3 5 10.7 13.4 .9 5.8 1.9 2.6 2.5 1.7 464.9"/>
<circle r="111.4" stroke-dasharray="0 56.4 1 1.8 4.7 2.4 1 26 1 34 1.1 87 1 1.6 2.3 5.8 3.6 5.7 1.4 1 1 1 2.2 32.8 2.7 6.1 2.1 491.2"/>
<circle r="116" stroke-dasharray="0 58.7 1.8 5.5 9.2 20.3 3.1 17.2 5 1.2 1.4 1 1 41.3 3 3.5 1.2 8.5 1 26.5 1.7 1 2.5 8.4 5 4.8 1 10.9 1.8 2.2 4.6 31.6 6.2 517.5"/>
<circle r="120.6" stroke-dasharray="0 61.5 1.1 9 5.8 15.1 1.1 2 1.1 1.1 1.1 19.6 6.2 7.7 1.1 12.9 10.3 1.1 3.5 98.6 1.4 14.1 5.8 17.2 1.1 542.9"/>
<circle r="125.2" stroke-dasharray="0 81.3 3 40.3 1.1 1.1 1.1 11.1 4.4 39.2 1.1 1.1 1.7 16.8 1.8 5.2 1.1 19.6 3.3 47.9 1.4 10.2 11.4 18.9 1.1 549"/>
<circle r="129.8" stroke-dasharray="0 75.9 1.3 4.7 4.5 4.7 2.1 11.2 1.1 25.6 1.1 2.8 2.5 3.8 1.1 1.9 1.1 6.9 1.4 3.7 1.1 29.3 3 14.7 1.1 40.3 1.1 22.7 3.7 8.3 1.4 12.2 3 29.1 1.1 1.5 3.4 5.3 2.3 564.1"/>
<circle r="134.4" stroke-dasharray="0 103.1 6.8 41.7 1.3 4.2 2.1 27.6 3.7 15.4 4.3 3.8 2.9 8.8 7.4 5.8 2.7 15.7 4.3 24.3 4.8 2.2 11.7 1.2 4.6 5.7 1.2 7.1 1.2 3.7 11.9 597.1"/>
<circle r="139" stroke-dasharray="0 70.4 .9 9.1 6.5 50.7 3.3 25.4 1.9 24.2 5.8 36.6 1.2 11.7 1.2 13.7 2.2 14 2.7 6.6 1.2 6.1 5.3 5.1 11.8 28.7 1.2 9.5 5.6 1.2 2.6 604.1"/>
<circle r="143.6" stroke-dasharray="0 72.7 3.5 1.3 1.3 14.9 3.5 7.1 1.3 7.1 1.3 4.1 1.3 10.8 4.9 27.1 1.7 45.4 1.5 28.3 5.9 22 8.4 14.5 7.4 5 2.5 13.2 2.7 1.3 1.3 15.7 1.6 19 4.6 12.6 1.3 624.8"/>
<circle r="148.2" stroke-dasharray="0 93.3 1.6 3.5 2.5 38.7 2.9 3.7 1.3 8.6 1.3 51.9 7.5 59.5 8.5 5.2 3.5 12.6 2.7 12.2 1.3 2.6 1.3 18.4 1.3 31.4 3.7 5.7 3.9 644.1"/>
<circle r="152.8" stroke-dasharray="0 101.1 2.4 1.3 9.3 69.6 2.1 19.7 4 1.7 4.9 10.6 4.1 1.3 1.8 3.4 9.1 1.3 1.3 6.2 5.9 3.4 4 24.3 3.2 7.7 4.8 2 1.3 31.4 1.3 4.7 1.3 12 9.2 2.5 2.5 689.8"/>
<circle r="157.4" stroke-dasharray="0 84.3 9.9 43.4 1.4 3.5 2.5 45 1.4 5 1.7 43.8 1.4 3.4 1.8 12.3 1.4 23.4 1.4 11.8 1.5 33.8 12.9 9.8 1.8 8.1 3.4 2.8 1.4 4.8 2.9 6.6 1.4 12.6 11.3 684.8"/>
<circle r="162" stroke-dasharray="0 113.1 1.4 11.4 1.4 52 10.2 4.4 11.1 2.4 1.4 43.8 1.5 48.5 3 15.6 8.8 20.8 1.4 8.6 1.5 4.3 1.4 19.1 2 1.4 5.9 17.2 8.7 708.7"/>
<circle r="166.6" stroke-dasharray="0 86.8 3.2 7.2 1.5 1.5 2 11.2 1.5 42.4 8.6 6.2 1.5 1.5 3.5 22.5 2 24.1 1.5 6.2 1.5 1.5 1.5 34.3 1.5 1.5 3.6 6.2 2.7 1.5 1.5 10.3 10.7 3 1.5 23.2 4.9 11.3 4.5 6.4 1.5 6.2 1.5 13.3 4.9 26 3.8 3.3 4.3 4.5 1.5 725"/>
<circle r="171.2" stroke-dasharray="0 106.5 3.5 2.9 3.7 17.9 1.5 2 1.5 18.7 8.7 1.5 1.8 24.7 6.7 23 1.5 6.8 1.5 7.7 4.8 4.8 12.6 4.7 2.4 12.4 2.6 19.6 2.5 25.9 3 49.4 6.4 34.5 9.9 757.6"/>
<circle r="175.8" stroke-dasharray="0 97.8 5 10.3 1.5 5.3 2.8 3.1 7.7 5.8 1.5 38.6 2.2 3.7 1.5 11.7 9.7 5.9 1.6 31.1 3.6 23.4 1.5 30.9 15.7 7.6 5.8 2.1 1.5 39.7 1.5 7.5 1.5 2.5 8.2 1.5 10.5 6.5 3.8 6.5 1.5 14.3 9.4 773.4"/>
<circle r="180.4" stroke-dasharray="0 147.1 1.7 37.2 2.2 74.1 2.8 5.1 4.4 39.7 1.6 7.5 2.3 39.8 8.5 4.5 3.6 16.5 2.9 1.6 1.9 37.6 1.6 815.4"/>
<circle r="185" stroke-dasharray="0 93.6 4.8 15 6.1 8.6 3.6 6.2 1.6 9.7 1.6 10.1 1.6 3 1.6 35.3 7.3 31.8 1.6 9.7 3.9 3 1.7 22.9 10.9 2.5 2.5 10.8 2 33 1.6 26.9 6.2 7.4 4.9 23.4 1.9 2.1 1.6 44.4 1.6 823.5"/>
<circle r="189.6" stroke-dasharray="0 99.3 1.7 20.7 4.2 65.9 1.7 8.5 7.8 15.7 1.7 1.7 3.1 2.3 1.7 9.5 1.7 10.1 2.3 16.9 1.7 41.7 1.7 25.2 1.9 9.8 3 7.9 2.2 56.4 3.2 12.6 1.7 45.1 3.8 829.6"/>
<circle r="194.2" stroke-dasharray="0 98.3 5.2 46.8 5.8 5.3 10.3 11 1.7 9.9 2.7 8.4 1.7 2.7 1.7 6.4 1.7 14.1 5.5 14 2.5 4.1 2 5.9 1.8 5.3 12.8 12.2 1.9 39.1 3.1 30.6 5.8 51.6 1.7 17.3 7.8 7.9 7.8 1.7 1.7 3.7 1.7 4.2 1.7 11.9 3.1 5.8 2.1 844"/>
<circle r="198.8" stroke-dasharray="0 119.4 9.4 10.6 12.7 1.7 4.4 18.2 1.7 26.8 1.7 37.9 16.4 9.1 15.2 2.7 1.7 31.7 5.1 5.7 1.9 8.7 4.5 1.7 2.9 18 4.5 1.7 1.7 4.3 2 17.8 2.6 7.2 1.9 28.4 11.3 21.9 1.7 1.7 3.4 1.7 1.7 1.9 1.7 1.7 1.7 895.5"/>
<circle r="203.4" stroke-dasharray="0 102.9 6.8 25.6 10.4 24.9 1.8 20.6 1.8 13.5 6 1.8 1.8 42.6 2.1 3.4 1.8 6.5 1.8 27.5 1.9 14.8 3.9 46.2 6.3 12.6 1.8 15 1.8 2.8 4.4 47.8 7.8 1.8 4.6 19.4 4.8 7.9 2.3 908.7"/>
<circle r="208" stroke-dasharray="0 117.2 1.8 36.9 2.5 8.6 1.8 5.5 4.2 8.1 1.8 1.8 3 1.8 3 9.8 3.1 1.8 6.5 2.5 4.6 19 7.1 14.4 3.6 15.2 1.8 4.4 1.8 30.4 2.8 10 12.7 23 4 17.4 1.8 12.8 1.8 24 3 4.3 1.8 59.6 7.5 10.8 1.8 4 2.7 1.8 2.9 11.2 2.2 903.9"/>
<circle r="212.6" stroke-dasharray="0 117.1 2.3 8.9 1.9 3.3 1.9 1.9 1.9 13.8 1.9 6.9 1.9 2.3 21.8 55.9 5.1 5.8 12.6 3.7 1.9 1.9 17 2.6 8 25.6 5.3 35 11.6 11.1 4.4 10.6 1.9 7.4 7.4 29.5 1.9 8.5 2.7 7.9 1.9 13.4 1.9 994.5"/>
<circle r="217.2" stroke-dasharray="0 119.8 7 1.9 1.9 45.6 8.4 5 3.8 3.2 2.2 11 5 7.7 2.8 7 1.9 1.9 1.9 22.4 10.4 7.1 6.8 2.2 4 28.2 6.4 50.7 8.9 28.6 1.9 18.2 5.7 21.2 4.3 35 1.9 50.6 10.8 6.8 1.9 944.4"/>
<circle r="221.8" stroke-dasharray="0 112.3 6.4 7.1 3.8 21.1 14.9 7.5 3.7 39.7 4.6 5.6 1.9 14.9 4 8.3 5.5 1.9 3.3 39.8 2.2 5.1 5.2 12 1.9 4.9 1.9 2.7 1.9 6 13.7 10.5 1.9 14.6 4.8 12.3 2.1 1.9 5.3 5.4 4.6 19.5 4 13.7 4.6 1.9 2.4 47.9 1.9 21.4 1.9 1.9 1.9 998.3"/>
<circle r="226.4" stroke-dasharray="0 114.6 17.9 14.8 2.2 6.9 2 12.3 2 11.3 2.7 12.7 4.8 3.2 2 6.5 7.5 8.8 5 4.4 7.4 11.8 4.4 13.6 2 4.5 2 15.7 2 9.3 9.5 23.1 2 9.5 7.9 54.2 16.7 5.3 3.5 35.2 2 6.9 4.1 16.1 2.7 11.8 2 2 2 2 2.2 38.3 10.2 3.5 2 991.7"/>
</g>
</g>
<g transform="translate(1023.5 48) scale(0.7234 1)" filter="url(#nb2)">
<g fill="none" stroke="#fff" stroke-opacity="0.075" stroke-width="2.6">
<circle r="468" stroke-dasharray="0 248.5 9.9 57.8 67.4 2883.6"/>
<circle r="473" stroke-dasharray="0 242.2 36.3 4.1 65.2 9.8 10.9 4.1 37.5 2891.9"/>
<circle r="478" stroke-dasharray="0 245.6 126.6 17.3 7 2940.6"/>
<circle r="483" stroke-dasharray="0 268.9 8.7 4.2 84.7 10.2 42.3 2953"/>
<circle r="488" stroke-dasharray="0 289.7 37 50.1 5.6 24.8 16.1 2983.6"/>
<circle r="493" stroke-dasharray="0 261.9 165.7 3014.1"/>
<circle r="498" stroke-dasharray="0 252.1 47.3 3177.3"/>
<circle r="503" stroke-dasharray="0 303.2 11 37.1 35.7 38.5 8.7 3077.4"/>
<circle r="508" stroke-dasharray="0 326.3 66.5 18.7 29.1 3105.9"/>
<circle r="513" stroke-dasharray="0 383.6 61.3 3136.4"/>
<circle r="518" stroke-dasharray="0 262.2 85.1 7.2 4.5 66.6 23.8 3167"/>
<circle r="523" stroke-dasharray="0 264.7 9.1 14.1 24.8 7.7 4.6 16.9 104.7 3204.6"/>
<circle r="528" stroke-dasharray="0 371 34.4 3280.7"/>
<circle r="533" stroke-dasharray="0 269.8 66 66.4 60.2 3258.7"/>
<circle r="538" stroke-dasharray="0 272.3 37 15.6 35.9 13.6 68.6 4.7 18.9 3289.3"/>
<circle r="543" stroke-dasharray="0 351.7 41.6 12.7 24.7 3360.2"/>
<circle r="548" stroke-dasharray="0 305.1 7.3 86.9 50.9 5.8 19.3 3350.4"/>
<circle r="553" stroke-dasharray="0 279.9 20.4 53.8 38.5 4.8 59.9 3403.4"/>
<circle r="558" stroke-dasharray="0 309.6 9.4 54.5 14.2 52.3 18.3 4.9 20.9 3411.5"/>
<circle r="563" stroke-dasharray="0 285 6.8 35.2 145.5 4.9 11 3442.1"/>
<circle r="568" stroke-dasharray="0 287.5 17.9 36.7 5 75.2 70.4 3472.7"/>
<circle r="573" stroke-dasharray="0 290 68.4 26.7 48.6 5 51.7 3509.8"/>
<circle r="578" stroke-dasharray="0 292.7 5 25.8 14.3 55.3 85.7 3556.3"/>
<circle r="583" stroke-dasharray="0 327.5 50.8 3691.7"/>
<circle r="588" stroke-dasharray="0 343.9 113.5 3647.6"/>
<circle r="593" stroke-dasharray="0 373.8 62.1 53.5 14.6 3635.9"/>
<circle r="598" stroke-dasharray="0 302.7 30 155.7 30.3 3656.1"/>
<circle r="603" stroke-dasharray="0 307.6 42.4 5.3 19 136.1 12.7 3686.7"/>
<circle r="608" stroke-dasharray="0 357.6 60.7 14.4 94.6 3717.2"/>
<circle r="613" stroke-dasharray="0 344.1 17.4 22.9 147.3 3747.8"/>
<circle r="618" stroke-dasharray="0 318.2 11.3 157.2 5.4 3822.4"/>
<circle r="623" stroke-dasharray="0 333.3 65.5 13.4 5.4 38.5 5.4 18.1 32.9 3836.8"/>
<circle r="628" stroke-dasharray="0 317.9 71.9 85.2 41.3 5.5 11.4 3851.1"/>
<circle r="633" stroke-dasharray="0 320.4 65.9 92.2 70.5 3870.1"/>
<circle r="638" stroke-dasharray="0 382.1 76.5 71.4 11.6 5.6 6.2 3900.7"/>
<circle r="643" stroke-dasharray="0 325.5 40.1 20.8 17.6 22 19.9 49.8 62.1 3931.2"/>
<circle r="648" stroke-dasharray="0 328 9.1 10.7 17.8 5.7 5.7 34.8 64.6 53.9 9.7 5.7 16.6 3961.8"/>
<circle r="653" stroke-dasharray="0 368 5.7 90.1 13.7 5.7 24.7 39 19.5 3992.4"/>
<circle r="658" stroke-dasharray="0 387.7 94.4 4111.6"/>
<circle r="663" stroke-dasharray="0 335.6 63.1 121.4 44.1 4064.5"/>
<circle r="668" stroke-dasharray="0 338.1 122.6 4202.8"/>
<circle r="673" stroke-dasharray="0 340.6 24.2 50.3 54.9 74.5 39.3 4114.6"/>
<circle r="678" stroke-dasharray="0 343.2 66 12.3 166.6 4145.2"/>
<circle r="683" stroke-dasharray="0 345.7 44 24.1 6 27.9 11.7 41.6 91.4 4175.8"/>
<circle r="688" stroke-dasharray="0 348.2 29.9 46.9 6 59.2 14.2 6.1 86.2 4206.4"/>
<circle r="693" stroke-dasharray="0 403.7 89.1 75.8 32.6 4236.9"/>
<circle r="698" stroke-dasharray="0 367.4 47 33.7 6.1 94.9 53.8 4270.1"/>
<circle r="703" stroke-dasharray="0 355.8 223.4 26.1 4.5 4298.1"/>
<circle r="713" stroke-dasharray="0 360.9 55.6 93.7 41 6.2 28.8 4391.5"/>
<circle r="718" stroke-dasharray="0 395.2 57.2 66.6 103.8 4389.8"/>
<circle r="723" stroke-dasharray="0 365.9 66.1 89.4 105.7 4420.3"/>
<circle r="728" stroke-dasharray="0 368.5 105.7 17.6 72.9 20.1 15.6 13.3 17.9 4450.9"/>
<circle r="733" stroke-dasharray="0 374 29.4 12.4 9.7 6.4 76.2 30.7 8.4 4570.1"/>
<circle r="738" stroke-dasharray="0 373.5 80.5 52.3 37.8 40.2 55.8 4512"/>
<circle r="743" stroke-dasharray="0 376.1 67.2 58.9 39.6 42.1 16.4 4586.8"/>
<circle r="748" stroke-dasharray="0 378.6 32.2 51.4 6.5 39.6 11.8 94.3 25.8 4581.8"/>
<circle r="753" stroke-dasharray="0 381.1 7.6 9.7 64.3 111.2 16.4 7 50.2 4609.4"/>
<circle r="758" stroke-dasharray="0 383.7 42.2 6.6 18.4 54.5 6.7 13.6 56.9 4709.4"/>
<circle r="763" stroke-dasharray="0 502.6 29.5 92.1 6.7 4695.9"/>
<circle r="768" stroke-dasharray="0 388.7 146.7 6.7 124.1 4695.5"/>
<circle r="773" stroke-dasharray="0 391.3 42.9 64.8 33.3 98.1 6.7 20.6 6.7 4732.2"/>
<circle r="778" stroke-dasharray="0 404.4 39.7 16.1 31.8 122.5 37.6 4779.4"/>
<circle r="783" stroke-dasharray="0 418.2 15.1 41.9 24.8 24.6 14.1 4927.6"/>
<circle r="788" stroke-dasharray="0 398.8 135.1 25.4 75.6 16.2 32.3 4817.7"/>
<circle r="793" stroke-dasharray="0 401.4 46 111.1 81.4 40.7 7.3 4848.3"/>
<circle r="798" stroke-dasharray="0 403.9 59.9 92.7 78.4 4936.2"/>
<circle r="803" stroke-dasharray="0 406.4 290.1 4909.5"/>
<circle r="808" stroke-dasharray="0 412.6 21.9 100.3 66.9 86.4 12.8 4940"/>
<circle r="813" stroke-dasharray="0 411.5 161.3 44.2 85.8 4973.1"/>
<circle r="818" stroke-dasharray="0 435.5 24.9 8.9 34.9 9.5 7.1 7.1 43.2 92.6 7.1 5039.9"/>
<circle r="823" stroke-dasharray="0 416.6 83.1 34.5 35.7 84.3 8.8 27.7 23.2 5031.7"/>
<circle r="828" stroke-dasharray="0 419.1 35.6 24.4 87.4 121.7 10.5 5081.8"/>
<circle r="833" stroke-dasharray="0 421.6 24 111.6 23.7 100.1 7.3 27.2 6.9 5092.9"/>
<circle r="838" stroke-dasharray="0 424.1 115.3 12.5 62.3 53.2 59.4 5123.4"/>
<circle r="843" stroke-dasharray="0 426.7 81.6 7.4 194.1 5175.4"/>
<circle r="848" stroke-dasharray="0 429.2 6.9 104.4 142.8 5236.8"/>
<circle r="853" stroke-dasharray="0 450.4 42.3 139 108.2 5215.1"/>
<circle r="858" stroke-dasharray="0 434.3 110.1 13.9 71.6 5360.1"/>
<circle r="863" stroke-dasharray="0 436.8 12.3 162.6 13.8 53.9 9.7 5335.8"/>
<circle r="868" stroke-dasharray="0 439.3 23.6 10.4 76.4 67.8 7.6 5434.7"/>
<circle r="873" stroke-dasharray="0 474.1 71 34.8 44.3 95 15.7 5359.8"/>
<circle r="878" stroke-dasharray="0 586.6 13.3 36.5 28.8 20.9 33.3 5410.2"/>
<circle r="883" stroke-dasharray="0 446.9 6 23.9 139.7 74.4 49.4 5424.2"/>
<circle r="888" stroke-dasharray="0 449.5 27.7 95.4 59.2 97.4 41.1 5429.1"/>
<circle r="893" stroke-dasharray="0 452 194 52.7 76 5459.7"/>
<circle r="898" stroke-dasharray="0 454.5 69.2 38.8 60 20.2 23.3 5603.2"/>
<circle r="903" stroke-dasharray="0 457 211.7 16.1 60.8 5558.5"/>
<circle r="908" stroke-dasharray="0 459.6 194.9 108.4 21.4 5554.7"/>
<circle r="913" stroke-dasharray="0 469.8 93.9 40.5 8 24.7 37.7 15.7 88.5 5595.1"/>
<circle r="918" stroke-dasharray="0 464.6 60.1 48.8 70.8 5764.6"/>
<circle r="923" stroke-dasharray="0 479.7 45 8.1 91.5 5819.5"/>
<circle r="928" stroke-dasharray="0 469.7 4.4 116 20.8 107.4 15.4 65.9 5.4 5673.7"/>
<circle r="933" stroke-dasharray="0 472.2 5.4 48.1 159.7 67.3 15 5745.8"/>
<circle r="938" stroke-dasharray="0 530.8 84.5 43.8 42.3 5847.1"/>
<circle r="943" stroke-dasharray="0 477.3 26.2 9 39.5 78.4 65.5 5887.4"/>
<circle r="948" stroke-dasharray="0 479.8 52 6086.5"/>
<circle r="953" stroke-dasharray="0 566 140.8 5946.4"/>
<circle r="958" stroke-dasharray="0 509.8 102.9 23.2 53.4 23.9 117.8 5857.1"/>
<circle r="963" stroke-dasharray="0 502.4 35.2 220.5 77.2 5887.7"/>
<circle r="968" stroke-dasharray="0 508.1 49.9 6199.9"/>
<circle r="973" stroke-dasharray="0 492.5 56.9 6243.4"/>
<circle r="978" stroke-dasharray="0 495 173.4 17.2 84.6 6057.5"/>
<circle r="983" stroke-dasharray="0 497.5 124.3 39.3 191.5 6010"/>
<circle r="988" stroke-dasharray="0 513.4 112.9 8.6 78.7 70.7 72.6 6040.5"/>
<circle r="993" stroke-dasharray="0 533.1 27.2 6372.2"/>
<circle r="998" stroke-dasharray="0 505.1 42.4 22 57.8 37.8 36.9 36.7 56.6 6172.1"/>
<circle r="1003" stroke-dasharray="0 702.9 70.2 6229.1"/>
<circle r="1008" stroke-dasharray="0 510.2 36.4 8.8 119.9 29 111.8 6221.2"/>
<circle r="1013" stroke-dasharray="0 512.7 122.5 39.2 65.4 6332.3"/>
<circle r="1018" stroke-dasharray="0 515.3 8.3 34 57.1 122.5 25.7 6344.1"/>
<circle r="1023" stroke-dasharray="0 582.2 91.2 6468.4"/>
<circle r="1028" stroke-dasharray="0 520.3 216.5 12.5 27.1 6400.4"/>
<circle r="1033" stroke-dasharray="0 522.8 207.4 6481.5"/>
<circle r="1038" stroke-dasharray="0 767.6 32.1 6446.9"/>
<circle r="1043" stroke-dasharray="0 527.9 147.2 25.4 68.5 6512.6"/>
<circle r="1048" stroke-dasharray="0 530.4 55 70.3 147 6513.7"/>
<circle r="1053" stroke-dasharray="0 533 64.7 13.2 189.5 6550.9"/>
<circle r="1058" stroke-dasharray="0 535.5 159.6 27.8 9.2 23.6 58.7 6571.8"/>
<circle r="1063" stroke-dasharray="0 598.9 53.2 99.1 61.4 6608.4"/>
<circle r="1068" stroke-dasharray="0 631.5 62.8 78.9 44.1 6638.8"/>
<circle r="1078" stroke-dasharray="0 545.6 12 144.4 69.2 6754.6"/>
<circle r="1083" stroke-dasharray="0 581 11.5 122.6 17.4 6828.2"/>
<circle r="1088" stroke-dasharray="0 571.1 9.5 9.5 9.5 6996.1"/>
<circle r="1093" stroke-dasharray="0 553.2 108.8 6968.5"/>
<circle r="1098" stroke-dasharray="0 555.7 82.7 32.1 93.6 6901.4"/>
<circle r="1103" stroke-dasharray="0 558.3 10.2 43.7 121.4 26 78.8 6862"/>
<circle r="1108" stroke-dasharray="0 593.6 98 53.5 9.7 6980.5"/>
<circle r="1113" stroke-dasharray="0 646.4 36.3 57.2 139.2 6891.1"/>
<circle r="1118" stroke-dasharray="0 565.9 115.1 14.6 78.3 7031.3"/>
<circle r="1123" stroke-dasharray="0 568.4 13.2 115.9 13.6 7128.9"/>
<circle r="1128" stroke-dasharray="0 582.9 369.5 6922.6"/>
<circle r="1133" stroke-dasharray="0 594.9 190.3 7124.7"/>
<circle r="1138" stroke-dasharray="0 576 24.7 51.1 144.5 7148.5"/>
<circle r="1143" stroke-dasharray="0 582 77.3 95.3 207.2 7017.8"/>
<circle r="1148" stroke-dasharray="0 581.1 263.9 7169.6"/>
<circle r="1153" stroke-dasharray="0 598.1 12.7 20.6 112.2 7305.8"/>
<circle r="1158" stroke-dasharray="0 660.6 76.2 7347.6"/>
<circle r="1163" stroke-dasharray="0 588.6 40.5 88.2 291.4 7110.5"/>
<circle r="1168" stroke-dasharray="0 591.2 15.2 26 75.2 7446.5"/>
<circle r="1173" stroke-dasharray="0 593.7 199.9 7395.5"/>
<circle r="1178" stroke-dasharray="0 720.3 69.1 7434.6"/>
<circle r="1183" stroke-dasharray="0 609.1 71.7 7578.1"/>
<circle r="1188" stroke-dasharray="0 601.3 17.2 45.2 10.4 7619.8"/>
<circle r="1193" stroke-dasharray="0 603.8 15.8 7709.1"/>
<circle r="1198" stroke-dasharray="0 606.4 26.4 7730.9"/>
<circle r="1203" stroke-dasharray="0 631.9 66.1 31.6 26.3 7642.6"/>
<circle r="1208" stroke-dasharray="0 648 399.9 7385.6"/>
<circle r="1213" stroke-dasharray="0 614 177.9 7676.5"/>
<circle r="1218" stroke-dasharray="0 616.5 28.4 41.7 26.6 10.6 132.6 7646.8"/>
<circle r="1223" stroke-dasharray="0 619 27.1 52.8 167.1 7672.1"/>
<circle r="1233" stroke-dasharray="0 624.1 253.1 7730.8"/>
<circle r="1238" stroke-dasharray="0 645 116.3 7881.6"/>
<circle r="1243" stroke-dasharray="0 723.8 101.4 7852.6"/>
<circle r="1253" stroke-dasharray="0 720.1 88 7939.5"/>
<circle r="1258" stroke-dasharray="0 672.2 173.4 7936.9"/>
<circle r="1263" stroke-dasharray="0 687.9 106.3 8023.2"/>
<circle r="1268" stroke-dasharray="0 641.8 374.9 7835.6"/>
<circle r="1278" stroke-dasharray="0 646.9 184.4 8090.9"/>
<circle r="1288" stroke-dasharray="0 651.9 45.3 8294.7"/>
<circle r="1293" stroke-dasharray="0 654.4 80.7 11.3 11.3 8269.2"/>
<circle r="1298" stroke-dasharray="0 657 94.9 8309.9"/>
<circle r="1303" stroke-dasharray="0 659.5 6.3 71.5 11.4 8348"/>
<circle r="1308" stroke-dasharray="0 662 73.3 8396.3"/>
</g>
<g fill="none" stroke="#fff" stroke-opacity="0.13" stroke-width="2.4">
<circle r="475.5" stroke-dasharray="0 240.7 22 31.7 73.1 19.7 25.3 2907.2"/>
<circle r="480.5" stroke-dasharray="0 374.7 41.3 2938.5"/>
<circle r="485.5" stroke-dasharray="0 245.7 28 66.7 80.7 2968.3"/>
<circle r="490.5" stroke-dasharray="0 299.3 10.2 3114.8"/>
<circle r="495.5" stroke-dasharray="0 250.8 19.2 81.9 5.3 3102.1"/>
<circle r="500.5" stroke-dasharray="0 296.3 4.4 3193.4"/>
<circle r="505.5" stroke-dasharray="0 301 87.6 29.2 16.5 3094.8"/>
<circle r="510.5" stroke-dasharray="0 262.9 39.9 60.2 4.5 3196.5"/>
<circle r="515.5" stroke-dasharray="0 443.7 3.4 3151.7"/>
<circle r="520.5" stroke-dasharray="0 263.4 70.7 15.4 28.7 35.1 14.5 3206"/>
<circle r="525.5" stroke-dasharray="0 266 23.7 131.2 35 3212.8"/>
<circle r="530.5" stroke-dasharray="0 268.5 13.3 146.7 31.6 3243.4"/>
<circle r="535.5" stroke-dasharray="0 312.1 152.4 3274"/>
<circle r="540.5" stroke-dasharray="0 273.6 44.6 145.5 5.1 3304.6"/>
<circle r="545.5" stroke-dasharray="0 288.2 7.2 100.9 21.7 26.8 4.8 3358.7"/>
<circle r="550.5" stroke-dasharray="0 298.7 77.3 17.2 12.4 8.9 24.4 20.1 16.2 3368"/>
<circle r="555.5" stroke-dasharray="0 281.2 14.4 4.8 8.8 58.8 18.7 3491.4"/>
<circle r="560.5" stroke-dasharray="0 283.7 36.2 15.1 86.2 3491.9"/>
<circle r="565.5" stroke-dasharray="0 286.2 3.8 4.9 57.4 4.9 39.5 3551.2"/>
<circle r="570.5" stroke-dasharray="0 302.5 16.7 3663.6"/>
<circle r="575.5" stroke-dasharray="0 291.3 18 92.4 7.8 3608.3"/>
<circle r="580.5" stroke-dasharray="0 411.5 29.1 19 13.2 15.8 14.9 3549.1"/>
<circle r="585.5" stroke-dasharray="0 296.3 40.3 19.4 21.3 3710.3"/>
<circle r="590.5" stroke-dasharray="0 311.1 7.3 5.2 19.7 25 30.1 3724.2"/>
<circle r="595.5" stroke-dasharray="0 301.4 7.8 85.3 31.1 3731.7"/>
<circle r="600.5" stroke-dasharray="0 378.3 73.1 9.8 5.2 18.5 29.5 3677.8"/>
<circle r="605.5" stroke-dasharray="0 419.1 17.1 3791"/>
<circle r="610.5" stroke-dasharray="0 461.8 45 3755.3"/>
<circle r="620.5" stroke-dasharray="0 314.1 13.1 10.6 25.5 39.4 8.4 63.1 23.2 3834.6"/>
<circle r="625.5" stroke-dasharray="0 513.7 28.8 3824.2"/>
<circle r="635.5" stroke-dasharray="0 321.7 12.7 161.4 31.2 7.2 17.2 3885.4"/>
<circle r="640.5" stroke-dasharray="0 367.2 5.6 116.6 66.2 3915.9"/>
<circle r="645.5" stroke-dasharray="0 367.9 67.9 24.8 28.8 4017"/>
<circle r="650.5" stroke-dasharray="0 329.2 112 89.9 16.4 3993.8"/>
<circle r="655.5" stroke-dasharray="0 331.8 13.3 4231.2"/>
<circle r="660.5" stroke-dasharray="0 435.6 70.4 26.5 34.8 4043.8"/>
<circle r="665.5" stroke-dasharray="0 343.1 20.3 167.2 21.7 4093.8"/>
<circle r="670.5" stroke-dasharray="0 344.3 62.4 5.9 43.5 38.8 70.3 4115.9"/>
<circle r="675.5" stroke-dasharray="0 455 14.3 5.9 27.5 4213.3"/>
<circle r="680.5" stroke-dasharray="0 358.5 5.9 74.4 13.9 62.8 28.5 4206.8"/>
<circle r="685.5" stroke-dasharray="0 531.6 6 14.2 6 4228"/>
<circle r="690.5" stroke-dasharray="0 466.6 12.7 4341.3"/>
<circle r="695.5" stroke-dasharray="0 352 13.8 89.8 7.7 4392.2"/>
<circle r="700.5" stroke-dasharray="0 354.6 33.6 128.9 37.8 18.9 33.9 4282.8"/>
<circle r="705.5" stroke-dasharray="0 408.6 95.1 54.6 16.8 4350.3"/>
<circle r="710.5" stroke-dasharray="0 463.5 6.2 4490.6"/>
<circle r="715.5" stroke-dasharray="0 471.8 78.9 4444.4"/>
<circle r="720.5" stroke-dasharray="0 374.3 6.3 71.6 12.6 23.7 24.9 8.8 102.8 4405.1"/>
<circle r="725.5" stroke-dasharray="0 513.7 84 4467.3"/>
<circle r="730.5" stroke-dasharray="0 558.4 75.2 4466.2"/>
<circle r="735.5" stroke-dasharray="0 417.1 27.5 18.8 55 32 87.6 4496.8"/>
<circle r="740.5" stroke-dasharray="0 518.3 22.7 4628.7"/>
<circle r="745.5" stroke-dasharray="0 377.3 7.1 58.4 125.4 26 12.4 19.9 15.2 4562.9"/>
<circle r="750.5" stroke-dasharray="0 426.2 46 14 28.4 4724.9"/>
<circle r="755.5" stroke-dasharray="0 503.3 35.2 74 38.6 4623.3"/>
<circle r="760.5" stroke-dasharray="0 386.7 41.3 32.2 43.1 83.7 14.1 16.2 42.3 4649.6"/>
<circle r="765.5" stroke-dasharray="0 565.8 25.3 13.2 29.2 4710.7"/>
<circle r="770.5" stroke-dasharray="0 390 17.6 249.2 11.6 4710.8"/>
<circle r="775.5" stroke-dasharray="0 506 102.5 4805.5"/>
<circle r="780.5" stroke-dasharray="0 395 10.7 178.4 92.9 4771.9"/>
<circle r="785.5" stroke-dasharray="0 397.6 53.9 195 29.2 4808.2"/>
<circle r="795.5" stroke-dasharray="0 403.2 26.1 212.4 37 4875"/>
<circle r="800.5" stroke-dasharray="0 405.2 8.6 83 38.1 145.2 14.4 4894.2"/>
<circle r="810.5" stroke-dasharray="0 410.2 70.2 59.4 132.5 4986.1"/>
<circle r="815.5" stroke-dasharray="0 534.5 79.2 5079.5"/>
<circle r="820.5" stroke-dasharray="0 415.3 59.3 42.3 28.2 5183.1"/>
<circle r="825.5" stroke-dasharray="0 417.8 33.3 7.2 7.2 11.7 76.2 5209.6"/>
<circle r="830.5" stroke-dasharray="0 531.3 8 10.4 41.5 5206.6"/>
<circle r="840.5" stroke-dasharray="0 425.4 79.6 5362.8"/>
<circle r="845.5" stroke-dasharray="0 545.6 15.4 114.3 19.7 27 11.4 5169.3"/>
<circle r="850.5" stroke-dasharray="0 436.6 30.2 42.4 22.1 34.4 20.7 5351.2"/>
<circle r="855.5" stroke-dasharray="0 610.3 45.1 13.1 38.6 5265.4"/>
<circle r="860.5" stroke-dasharray="0 599.8 7.5 100 39.1 5261"/>
<circle r="865.5" stroke-dasharray="0 477.1 137.2 73.9 62.6 5291.6"/>
<circle r="870.5" stroke-dasharray="0 654.4 24.7 23.2 52.8 5322.1"/>
<circle r="875.5" stroke-dasharray="0 486.5 94.3 94.9 73.1 5363.4"/>
<circle r="880.5" stroke-dasharray="0 445.7 92.7 173.9 12.4 5422.4"/>
<circle r="885.5" stroke-dasharray="0 706.1 62 5413.8"/>
<circle r="890.5" stroke-dasharray="0 450.7 257 15.8 34.5 5458.8"/>
<circle r="895.5" stroke-dasharray="0 453.3 8.8 35.6 42.1 176.6 22.2 5513.2"/>
<circle r="900.5" stroke-dasharray="0 762.6 18.5 5505.6"/>
<circle r="905.5" stroke-dasharray="0 458.3 51.5 71.7 119.7 5620.3"/>
<circle r="910.5" stroke-dasharray="0 460.8 54 76.3 113.7 15.6 7.9 5628.2"/>
<circle r="920.5" stroke-dasharray="0 691.4 38.1 49.5 19.4 5627.8"/>
<circle r="925.5" stroke-dasharray="0 468.4 52.9 209 8.1 5722.8"/>
<circle r="930.5" stroke-dasharray="0 471 21.6 151.5 46 110.4 6.8 5689"/>
<circle r="935.5" stroke-dasharray="0 573.1 21.7 78.6 46 5811.6"/>
<circle r="940.5" stroke-dasharray="0 476 8.2 206 125.6 5750.1"/>
<circle r="945.5" stroke-dasharray="0 745.3 74.9 5780.7"/>
<circle r="950.5" stroke-dasharray="0 777.1 47.4 5811.3"/>
<circle r="955.5" stroke-dasharray="0 483.6 130.4 6056.7"/>
<circle r="960.5" stroke-dasharray="0 528.2 31.2 18.9 66.3 42.4 76.5 5942.1"/>
<circle r="965.5" stroke-dasharray="0 488.7 100.4 6151.4"/>
<circle r="970.5" stroke-dasharray="0 491.2 63.3 10.6 18.9 78.4 8.5 6104.4"/>
<circle r="975.5" stroke-dasharray="0 493.7 60.1 6256.5"/>
<circle r="980.5" stroke-dasharray="0 563.1 8.6 174.9 47.4 6051.2"/>
<circle r="985.5" stroke-dasharray="0 681.2 23.7 6175.2"/>
<circle r="990.5" stroke-dasharray="0 583.1 15.4 87.3 46 6183.2"/>
<circle r="995.5" stroke-dasharray="0 778.9 26 6145"/>
<circle r="1000.5" stroke-dasharray="0 506.4 97.8 6380.6"/>
<circle r="1005.5" stroke-dasharray="0 583.9 21.4 6414.4"/>
<circle r="1010.5" stroke-dasharray="0 511.5 41.5 23.6 14.9 79.9 24.9 8.8 8.8 35.6 111 6194.1"/>
<circle r="1015.5" stroke-dasharray="0 514 286 6289.5"/>
<circle r="1020.5" stroke-dasharray="0 745.3 139.9 6239.2"/>
<circle r="1030.5" stroke-dasharray="0 613.5 65.7 64.5 69.3 6381.3"/>
<circle r="1035.5" stroke-dasharray="0 627.6 82 6519.5"/>
<circle r="1040.5" stroke-dasharray="0 530.5 49.3 109.5 104.8 6470"/>
<circle r="1045.5" stroke-dasharray="0 656.1 34.3 19.8 112.9 6476"/>
<circle r="1055.5" stroke-dasharray="0 534.2 91.5 114.6 9.2 6619.2"/>
<circle r="1060.5" stroke-dasharray="0 588.3 203.4 6612.1"/>
<circle r="1065.5" stroke-dasharray="0 539.3 81.9 9.3 24.8 26.8 93.4 6663.1"/>
<circle r="1070.5" stroke-dasharray="0 615.3 67.6 6790.6"/>
<circle r="1075.5" stroke-dasharray="0 544.4 37.4 13.9 34 6878.7"/>
<circle r="1080.5" stroke-dasharray="0 564 9.4 139.7 213.6 6616.6"/>
<circle r="1085.5" stroke-dasharray="0 622.4 9.5 6946.4"/>
<circle r="1090.5" stroke-dasharray="0 714.2 84 6814.9"/>
<circle r="1095.5" stroke-dasharray="0 554.5 22.2 7071.3"/>
<circle r="1100.5" stroke-dasharray="0 557 104.6 9.6 62.8 6948.9"/>
<circle r="1105.5" stroke-dasharray="0 559.5 24.7 7133.6"/>
<circle r="1110.5" stroke-dasharray="0 680.8 50.8 7021.1"/>
<circle r="1115.5" stroke-dasharray="0 641.9 156.1 6989.7"/>
<circle r="1120.5" stroke-dasharray="0 568 68.7 79.3 84 7022.5"/>
<circle r="1125.5" stroke-dasharray="0 569.7 72.9 7214.9"/>
<circle r="1130.5" stroke-dasharray="0 572.2 16.8 30.6 45.8 77.7 135.3 7013.9"/>
<circle r="1135.5" stroke-dasharray="0 726 61.8 7139.5"/>
<circle r="1140.5" stroke-dasharray="0 577.3 5.2 25.7 10.7 85.8 27.5 10 54.5 7165.6"/>
<circle r="1145.5" stroke-dasharray="0 579.8 21.9 38.9 44.8 7311.7"/>
<circle r="1150.5" stroke-dasharray="0 591 52.8 89.9 173.9 7124.4"/>
<circle r="1155.5" stroke-dasharray="0 696.2 38.2 7332.5"/>
<circle r="1160.5" stroke-dasharray="0 587.4 45.2 7469.2"/>
<circle r="1165.5" stroke-dasharray="0 730.9 17.7 7388.2"/>
<circle r="1170.5" stroke-dasharray="0 592.4 129.1 7450.1"/>
<circle r="1185.5" stroke-dasharray="0 600 251.5 7424.8"/>
<circle r="1190.5" stroke-dasharray="0 602.6 45.2 83 38.3 7542.2"/>
<circle r="1195.5" stroke-dasharray="0 671.7 89.3 7585.2"/>
<circle r="1200.5" stroke-dasharray="0 627.3 39.5 10.5 18.5 27 39.1 7619.2"/>
<circle r="1205.5" stroke-dasharray="0 747.3 87.5 7581.2"/>
<circle r="1210.5" stroke-dasharray="0 612.7 224.9 7613.2"/>
<circle r="1220.5" stroke-dasharray="0 617.8 252.2 7650.8"/>
<circle r="1225.5" stroke-dasharray="0 620.3 7.7 7927.6"/>
<circle r="1230.5" stroke-dasharray="0 622.8 6.3 17.6 195.5 7748.3"/>
<circle r="1245.5" stroke-dasharray="0 682.6 104.9 7907.7"/>
<circle r="1250.5" stroke-dasharray="0 669.6 227.3 7833.2"/>
<circle r="1255.5" stroke-dasharray="0 688 50.2 8026.8"/>
<circle r="1270.5" stroke-dasharray="0 682.6 11.1 8176.1"/>
<circle r="1275.5" stroke-dasharray="0 742.5 79.4 8082.8"/>
<circle r="1285.5" stroke-dasharray="0 650.7 260.2 8063.7"/>
<circle r="1290.5" stroke-dasharray="0 735.6 211.2 8062.6"/>
<circle r="1295.5" stroke-dasharray="0 684.3 16 38.9 11.3 8293.8"/>
<circle r="1300.5" stroke-dasharray="0 658.2 118.3 8302.6"/>
</g>
<g fill="none" stroke="#fff" stroke-opacity="0.098" stroke-width="2.6">
<circle r="468" stroke-dasharray="0 472.6 29.9 27.2 87.4 12.4 59.3 20.2 35.4 127.3 51.6 34.1 51.4 4.1 17.6 2236.8"/>
<circle r="473" stroke-dasharray="0 410.3 10.9 4.6 87.7 38.8 24 7.5 12.4 19.8 5 15.1 14.5 49.5 75.5 4.1 4.7 71.8 4.1 11.1 26.3 28.3 7.8 52 39.6 4.1 39.5 2233.4"/>
<circle r="478" stroke-dasharray="0 469.1 6.4 7.9 7.4 7.5 49.9 73.7 14.5 43.7 50.3 74.3 47.2 32.7 51.5 14.8 29 11.9 16.6 17.9 22.1 4.2 18.4 2266.2"/>
<circle r="483" stroke-dasharray="0 419 20.1 4.2 64.7 4.2 36.3 31.6 102.8 17.5 12 7.5 10.5 14.5 28 12.4 6.4 76.4 4.2 118.4 9.7 54.9 42.9 2273.6"/>
<circle r="488" stroke-dasharray="0 423.3 46.1 133.5 50.8 28.1 4.3 4.3 9.3 49.1 5.5 31.5 45.6 32.1 42.8 61.8 42.2 4.3 35.5 32.8 27 2297.1"/>
<circle r="493" stroke-dasharray="0 427.6 16.1 6.9 48.9 33.9 15.6 16.1 4.3 5.5 73.2 7.2 25.4 32.9 46.1 7 16.6 5.6 4.3 18.2 25 15.1 16.3 31.6 4.3 74.2 4.3 20 41.5 4.3 5.3 4.3 4.9 33.9 25 2320.6"/>
<circle r="498" stroke-dasharray="0 432 89.2 4.3 80.8 14 19.4 107.8 19.2 99.2 37.2 6.2 125.2 4.3 39.1 15.1 39.3 2344.2"/>
<circle r="503" stroke-dasharray="0 436.3 23.5 20.1 31.7 96 42.3 68.9 10.8 4.4 24.1 7.8 48.1 31.5 30.7 9.5 17.1 69.7 34.2 15.8 27 28.9 64 2369.3"/>
<circle r="508" stroke-dasharray="0 511.6 16.2 4.4 35.3 23.5 8.9 4.4 41.8 30 90.5 9.1 15.4 70.9 44.2 10.2 9.8 50.7 18.4 4.4 21.2 103.4 23.5 2398.7"/>
<circle r="513" stroke-dasharray="0 445 64.4 6 18.9 25.3 11 4.5 4.5 86 96.3 31.6 140.1 81.9 39.7 8.8 8.7 4.5 45.5 4.5 39.5 2414.8"/>
<circle r="518" stroke-dasharray="0 449.3 32.3 24.2 13.1 87.8 4.5 63.1 27.8 86.5 70.2 4.5 17 26.6 32 4.5 70.1 4.5 4.5 95.2 26 2472.5"/>
<circle r="523" stroke-dasharray="0 453.7 22.2 5.6 14 4.6 28.4 4.6 48.3 11.9 80.5 22.3 10.8 10.1 72 23.5 47.5 21.9 50.4 6.8 45 5.4 170.9 4.6 24.4 2461.8"/>
<circle r="528" stroke-dasharray="0 458 56 4.6 14.7 18.8 4.6 21.5 16.4 21.4 42.6 23 4.6 43.1 8.6 26.3 41.2 4.6 101.2 132 23.7 5.6 21.4 62.3 42.5 2487.7"/>
<circle r="533" stroke-dasharray="0 462.4 9.6 69.8 31.4 16.7 71.1 4.7 75.2 7.1 28.1 33.5 35.5 4.7 35.7 4.7 6 14.5 92.8 8.8 46.7 80.9 67 2514.3"/>
<circle r="538" stroke-dasharray="0 484.2 82.6 58.2 4.7 63.7 4.7 81.6 5 4.7 39.3 7.6 27.2 22 4.7 6.9 59.3 112.1 118 2569.4"/>
<circle r="543" stroke-dasharray="0 471 15.1 193.4 73.1 118.6 14.6 5.4 6.5 14 4.7 27.8 9.6 20.7 16.3 163 80.9 2556"/>
<circle r="548" stroke-dasharray="0 475.4 51 36.5 6.2 85.1 33.2 21.6 7.5 53.5 4.8 6.5 76 8.5 46.8 25 23 37.2 39.5 6.6 72.6 4.8 53.2 40.1 14.5 2596.8"/>
<circle r="553" stroke-dasharray="0 479.7 57.6 73.9 4.8 5.8 24.9 43 52 206.6 83 18.3 35.6 30.4 37.5 8.5 15 34.3 46.8 2603.1"/>
<circle r="558" stroke-dasharray="0 686.1 35.8 29.2 32.2 27.5 47.6 156.8 33.3 37.3 63.3 8.4 27.7 10.5 10.6 2689.2"/>
<circle r="563" stroke-dasharray="0 488.4 52.3 27.7 25.5 69.7 29 284.3 33.2 27.2 13.5 45.2 98.4 4.9 51.9 8.9 19.1 2651.3"/>
<circle r="568" stroke-dasharray="0 492.7 4.2 23.3 18.7 13 47.6 145.8 9.9 51 20.8 21.8 87.2 80.9 78.2 7.8 21.2 20.3 24.1 41.8 7.2 28.7 23.9 5.2 5 2685.1"/>
<circle r="573" stroke-dasharray="0 497 11.9 17.3 30 195.6 28.7 5 65.9 10.4 33.4 5.2 17.9 30.2 13.5 38.7 6.3 22.8 30.7 38.8 42.4 27.3 68.5 2762.8"/>
<circle r="578" stroke-dasharray="0 517.2 32.1 153.2 15.3 86.4 51.8 7.8 16.1 73.9 28.6 57.7 6.9 140.8 5 5 39.3 2797.9"/>
<circle r="583" stroke-dasharray="0 532.5 39.9 7.5 31.6 5.1 34.9 38.4 38.9 87.3 5.1 15.8 81.4 26.4 18.2 27.1 5.1 29.7 146 50.9 44.9 5.1 34.9 2763.4"/>
<circle r="588" stroke-dasharray="0 510 66 6.6 12.3 15.4 14 56.7 5.1 14.3 5.1 36.2 18.5 5.1 5.1 21.6 257.4 5.1 21.4 45.3 42.2 28.2 9.6 18.8 19.9 26.2 49.6 5.1 16.4 2767.8"/>
<circle r="593" stroke-dasharray="0 557.9 78.9 5.2 38.8 224.1 142 18.2 9.3 5.2 163.4 2897"/>
<circle r="598" stroke-dasharray="0 613.4 10.4 147.2 7.9 9.4 5.7 53.1 5.2 23.8 13.1 38.3 12 56.8 48.5 6.7 29.4 87.6 18.9 43.2 29.3 5.2 14.6 8.3 59 2827.8"/>
<circle r="603" stroke-dasharray="0 555.1 74.3 123.4 72.4 11.6 9 27.2 12.9 127.7 27 5.3 12.3 13.2 16.1 40 7 110.8 92.3 5.3 28.4 2838.4"/>
<circle r="608" stroke-dasharray="0 680.1 23.8 20.5 7.7 27.9 38.6 58.3 57.4 34.5 5.3 14.5 6.7 107 5.3 5.3 11.6 46.6 5.3 33.9 31.8 9.5 46.1 2967.1"/>
<circle r="613" stroke-dasharray="0 531.7 67.3 53 61.5 19.1 19.4 134.4 42.9 16.2 10.1 37.5 5.3 10.6 22.1 21.3 6.6 23 15.5 12.6 24.6 97.9 21 74.1 5.6 2946"/>
<circle r="618" stroke-dasharray="0 543 11.1 5.4 5.4 58.6 70.8 16.3 5.4 85.3 206.7 37.6 12.2 70.8 17.8 14.8 35.1 80.7 15.6 15.2 24.5 36.4 36.9 2909"/>
<circle r="623" stroke-dasharray="0 540.4 6.4 7 33.2 16.6 5.4 5.4 40.5 5.4 5.4 48 13.1 29.1 37.1 24.1 5.4 76 5.4 43 24.5 62.8 16.6 60.3 28.5 20.8 13.2 20.2 5.4 42.7 71.3 29.5 58.5 2947.6"/>
<circle r="628" stroke-dasharray="0 544.7 108.8 48.4 92.4 10.8 19.5 62.2 5.5 24.1 65.3 116.9 5.5 5.5 5.5 10 64.4 6.3 67.4 31.2 10.5 90.5 32.5 2956.1"/>
<circle r="633" stroke-dasharray="0 549.1 10.3 102.3 10 94.6 20 55 5.5 48.3 25.7 10.5 39.5 7.6 7.9 16 68 59.1 5.5 5.5 28.8 31.4 12.2 97.5 5.5 57.4 20 3026.1"/>
<circle r="638" stroke-dasharray="0 642 5.6 44.9 43.4 91.4 6.2 22.7 22.9 62.6 52.1 41.1 35.4 56.6 9.6 11.8 51.5 6.3 20.7 12.5 135.8 28.2 47.6 3003.2"/>
<circle r="643" stroke-dasharray="0 574.1 37.4 40.2 64.3 5.6 5.6 134.7 21.7 10.1 50.1 23.8 17.9 33.6 126.9 17.6 66.7 24.5 60.9 15.1 14.8 31.8 18.7 3092.9"/>
<circle r="648" stroke-dasharray="0 937.8 6.5 10.2 19.2 22.7 8 48.2 17.8 66.6 5.7 17 5.7 33 52 74.7 60.4 3138.6"/>
<circle r="653" stroke-dasharray="0 597.8 21.9 12.1 8.5 5.7 69.3 26 7.8 92.7 46.9 5.7 23.7 5.7 23.7 51.4 5.7 13.3 27.9 138.7 127.2 46.3 86.6 8.3 23.9 3082"/>
<circle r="658" stroke-dasharray="0 720.3 23.5 54.5 30.5 49.3 36.8 5.7 120.7 31.1 82.3 32.7 5.7 173.2 127.9 3099.4"/>
<circle r="663" stroke-dasharray="0 699 15.6 268 5.8 120.5 131.4 10.6 9.2 116.4 94 3158.2"/>
<circle r="668" stroke-dasharray="0 579.4 49.3 15.6 19.5 6.4 23.9 67.4 18.7 138.9 20.5 7.4 109.5 21 8 66.5 47.9 83.7 26 50.2 159.3 3144.4"/>
<circle r="673" stroke-dasharray="0 583.8 67.8 22.9 5.9 25.8 69.7 5.9 55.2 102.3 25.9 124.1 5.9 139.9 5.9 36.3 6.1 29.4 21.1 131.5 17.4 3215.7"/>
<circle r="678" stroke-dasharray="0 663.3 34.2 7 42.7 23.2 35.8 18.7 66.3 79.3 8.6 14.5 6.9 53.3 25 53.9 60.7 30.3 11.1 69.4 205.6 3223.4"/>
<circle r="683" stroke-dasharray="0 592.5 31 68 42.5 85.9 40.9 31.5 17 35.2 94.9 100.7 259.3 145 7.2 3216.6"/>
<circle r="688" stroke-dasharray="0 677.7 211.7 56.4 52.4 49.4 13.5 32.5 17.4 33.2 23.4 91 246.7 10.9 48.4 3238.5"/>
<circle r="693" stroke-dasharray="0 601.1 131.9 61.6 28 17.9 11 71.3 20.8 36.6 76.3 8.5 172.3 54.1 53.1 26.3 60.5 8.4 64.4 3334"/>
<circle r="698" stroke-dasharray="0 605.5 68 33.5 7 35.8 6.1 6.8 17.8 124.6 12.9 26.7 28.5 6.1 18.2 11.4 70.3 17.4 6.5 100.3 16.4 67.5 6.1 92.2 23.7 20.8 157.4 3285.6"/>
<circle r="703" stroke-dasharray="0 609.8 23.6 7.5 131.9 27.5 76.9 53.8 6.9 15.7 6.1 138 10.5 29.5 26.7 111.4 8.6 13.9 68 56.3 146.4 3338.8"/>
<circle r="708" stroke-dasharray="0 614.1 14.9 44.3 24.7 28.3 19.9 25.6 48.8 68 28.7 47.4 49.8 12.9 6.2 6.2 6.3 6.2 6.3 6.2 40.4 6.2 72.1 6.2 14.6 6.2 28.2 8.3 40.7 6.2 9.4 60.2 49.9 8.5 75.2 25.7 18.5 3401.2"/>
<circle r="713" stroke-dasharray="0 618.5 31.8 41 6.4 415.5 103.9 47.2 95.8 8.1 6.2 24.7 6.2 6.2 47.4 6.5 9.7 43.1 100 3359.3"/>
<circle r="718" stroke-dasharray="0 727.3 32.6 6.3 48.8 76.2 121.9 255.1 169.3 86.8 37.6 35.9 35.1 3379.7"/>
<circle r="723" stroke-dasharray="0 694 58.2 137.6 48.9 399.3 51.9 63.6 20.8 52.1 8.8 36.6 15.9 52 4.4 3403.3"/>
<circle r="728" stroke-dasharray="0 631.5 85.8 185.1 31.3 419.7 23.3 6.4 14.5 6.4 35.2 27.1 54.4 38.9 25.9 3497"/>
<circle r="733" stroke-dasharray="0 635.8 10.3 45.8 7.8 61.7 78.9 58.2 6.4 8.6 141.8 251.9 37.4 112.3 62 21.1 70.9 6.4 49.9 3450.3"/>
<circle r="738" stroke-dasharray="0 723.1 90.5 681.1 30.9 125.1 27.7 3473.9"/>
<circle r="743" stroke-dasharray="0 732.7 23 12.9 11.5 32.2 117.3 6.5 30.6 528.9 72.5 108 13.5 3497.4"/>
<circle r="748" stroke-dasharray="0 648.8 15.4 72.1 18.2 674.5 23 107.7 25.5 80.6 14.4 3541.8"/>
<circle r="753" stroke-dasharray="0 653.2 110.5 720.8 67.2 6.6 7.4 41.6 9.8 11.7 83.7 3544.5"/>
<circle r="758" stroke-dasharray="0 657.5 102.2 9.8 6.6 6.6 11.1 99.9 32 603.5 22.1 11.8 62.7 40.1 24.5 3601.3"/>
<circle r="763" stroke-dasharray="0 661.8 26.7 22.9 8.3 88.2 47.2 44.3 43.4 472.1 121.2 97.4 69.3 6.7 6.7 13.9 5.3 3591.6"/>
<circle r="768" stroke-dasharray="0 666.2 10.2 6.7 67.1 8.8 88.2 6.7 55.6 607.4 71.2 22.1 32.7 22.5 52.5 3643.6"/>
<circle r="773" stroke-dasharray="0 670.5 17.5 21 62.7 30.1 21.3 28.6 60.4 568 123.3 6.7 12.8 68.6 6.7 14.2 11.3 3672.7"/>
<circle r="778" stroke-dasharray="0 674.9 11.4 76.7 152 705.4 6.8 42.2 16.5 53.5 29.9 3662.2"/>
<circle r="783" stroke-dasharray="0 681 68.3 6.8 67.8 41.4 10.7 744.8 70.6 6.8 19.3 6.8 34.8 6.8 14.7 3685.7"/>
<circle r="788" stroke-dasharray="0 683.5 44.6 31.1 7.1 23.9 53.6 892.4 55.8 3709.2"/>
<circle r="793" stroke-dasharray="0 687.9 113.2 820.1 17.1 35.6 95.5 3767"/>
<circle r="798" stroke-dasharray="0 692.2 47.2 7 15.2 50.4 108.3 828.3 7 11.3 34.4 8.2 5.5 3756.3"/>
<circle r="803" stroke-dasharray="0 792.7 7 24.1 32.7 726.5 117.2 7 7 10.6 101.3 3779.8"/>
<circle r="808" stroke-dasharray="0 700.9 6.2 909.8 138.7 42 39.9 3803.4"/>
<circle r="813" stroke-dasharray="0 772 123.3 808.4 69.3 32 43.9 3826.9"/>
<circle r="818" stroke-dasharray="0 711.3 12.6 78.5 78.4 838.4 71.1 11.3 58.6 3850.5"/>
<circle r="823" stroke-dasharray="0 713.9 83.1 874.2 114.7 3959.7"/>
<circle r="828" stroke-dasharray="0 718.2 46.2 14.7 50 837 117.1 36.3 42.3 3918.9"/>
<circle r="833" stroke-dasharray="0 722.6 60 46.6 139.3 743.2 132.9 3970.9"/>
<circle r="838" stroke-dasharray="0 1767.5 69.1 26.4 42.7 3944.6"/>
<circle r="843" stroke-dasharray="0 765.6 39.8 1018.5 21.2 7.4 17.1 7.4 19.6 3988.7"/>
<circle r="848" stroke-dasharray="0 735.6 13.5 1037.9 141.5 3991.7"/>
<circle r="853" stroke-dasharray="0 1790.2 59.5 4105.4"/>
<circle r="858" stroke-dasharray="0 1858 12.2 4119.8"/>
<circle r="863" stroke-dasharray="0 748.6 125 857.1 231.9 4062.3"/>
<circle r="868" stroke-dasharray="0 772 50.1 1090.4 7.6 35.9 9.4 4094.4"/>
<circle r="873" stroke-dasharray="0 757.3 84.6 1098.9 44.6 4109.3"/>
<circle r="878" stroke-dasharray="0 761.6 34.1 20 7.7 5306.2"/>
<circle r="883" stroke-dasharray="0 765.9 24.6 1040.1 175.7 4158.2"/>
<circle r="888" stroke-dasharray="0 777.3 9.4 7.7 42.1 1092.6 55 4215.3"/>
<circle r="893" stroke-dasharray="0 774.6 52.8 1068.4 135.1 4203.5"/>
<circle r="898" stroke-dasharray="0 784 7.8 1161.6 88.8 4227"/>
<circle r="903" stroke-dasharray="0 783.3 164 1025.3 81 4250.6"/>
<circle r="908" stroke-dasharray="0 2042.3 22.7 4274.1"/>
<circle r="913" stroke-dasharray="0 792 4.3 5577.7"/>
<circle r="918" stroke-dasharray="0 797.9 9.6 1218.6 61.5 4321.2"/>
<circle r="923" stroke-dasharray="0 800.6 8.3 5634.8"/>
</g>
<g fill="none" stroke="#fff" stroke-opacity="0.169" stroke-width="2.4">
<circle r="470.5" stroke-dasharray="0 554.6 33.1 105.8 15.5 133.4 33.4 66.4 4.1 44.2 79.6 2214.7"/>
<circle r="475.5" stroke-dasharray="0 412.5 9.5 47.6 12.5 271.1 18.8 44.9 4.1 67.7 17.4 24.8 68.7 72.8 9 2238.3"/>
<circle r="480.5" stroke-dasharray="0 660 24.2 4.2 49.3 40.4 9.2 50 5.9 82.9 24.9 46.7 16.9 30.7 30.5 2278.8"/>
<circle r="485.5" stroke-dasharray="0 761.8 39.1 232.9 26.5 2329.2"/>
<circle r="490.5" stroke-dasharray="0 425.5 7.2 74.5 20 21 75.4 127.6 40.6 21.4 4.9 15.7 12.6 32 36.1 39.3 137.1 4.3 13.3 2315.9"/>
<circle r="495.5" stroke-dasharray="0 488.3 5 4.3 104 41.4 19.4 9 18.7 34 4.8 88.3 30.3 72.8 47.5 2491.5"/>
<circle r="500.5" stroke-dasharray="0 434.1 12.5 86.2 59.3 61.1 16.1 26.8 6.9 141.8 4.4 105.6 99 4.4 5.5 26 45.3 2359.2"/>
<circle r="505.5" stroke-dasharray="0 446.9 22.1 105.1 9.4 186.9 5.6 303.4 17.2 4.4 4.4 2423.6"/>
<circle r="510.5" stroke-dasharray="0 470.5 42.4 17.5 14 25.1 4.5 9.1 11.8 79.2 33.5 86.7 64.2 71.3 27.9 99.6 10.4 2496.3"/>
<circle r="515.5" stroke-dasharray="0 467.3 5 6.5 8.5 264.8 39.5 35 33.6 19.9 4.5 47.9 11.8 2654.5"/>
<circle r="520.5" stroke-dasharray="0 607.1 38.7 257.3 29.6 10.7 80.2 2610.2"/>
<circle r="525.5" stroke-dasharray="0 455.8 7.4 23.7 23.9 28.9 28.1 27.7 4.6 155.1 27.3 65.6 35.3 236.4 22.5 32 20.9 2473.6"/>
<circle r="530.5" stroke-dasharray="0 460.2 77.1 203.7 5.7 123.7 80.3 77.9 55.2 15.4 10.4 8.7 19.4 2566"/>
<circle r="535.5" stroke-dasharray="0 628.8 53.2 58.9 4.7 54.3 4.7 136.7 4.7 173.6 4.7 39.9 26.3 2548.1"/>
<circle r="540.5" stroke-dasharray="0 468.8 12.3 92 16.4 247.1 28.7 49.4 4.7 10.5 9.3 186.5 73 2574.6"/>
<circle r="545.5" stroke-dasharray="0 548.9 9.5 119.2 16.1 20.8 4.8 99.6 38.7 249 13.2 28.9 58.8 29.4 3.6 2567.8"/>
<circle r="550.5" stroke-dasharray="0 712.1 27.1 162.4 9.3 100.9 24.5 62.8 31.7 22 29.3 2661.1"/>
<circle r="555.5" stroke-dasharray="0 488.2 77 4.8 19 88.3 135.5 51.4 4.8 84.6 19.7 4.8 4.8 45.9 20.4 2828.7"/>
<circle r="560.5" stroke-dasharray="0 582 38.4 21.5 7.4 230.6 4.9 82.3 42 32.4 75.1 137.9 20.3 2638.4"/>
<circle r="565.5" stroke-dasharray="0 666.6 4.9 72.5 59.9 87.7 68.2 284.1 4.9 2699.1"/>
<circle r="570.5" stroke-dasharray="0 494.9 4 6.2 5 44.1 59.7 74.5 20.6 28.2 16.8 18.1 8.8 130.8 6.8 5 19.3 23.5 5 14.5 5 31.2 36.5 76.9 5 2842.7"/>
<circle r="575.5" stroke-dasharray="0 499.2 44.1 145.7 5 69.3 128.1 63.9 29.9 47.7 7.8 18 54.9 45.1 65.6 2793.5"/>
<circle r="580.5" stroke-dasharray="0 503.5 51.5 128 16.2 410.7 31.4 7.8 6.5 115.2 49.5 2732.5"/>
<circle r="585.5" stroke-dasharray="0 603.7 60.7 225.3 56.9 41.9 61.1 69.7 11.3 109.6 20.6 5.1 5.1 2816.6"/>
<circle r="590.5" stroke-dasharray="0 1081.5 17 25.3 13.9 101.4 39.2 2844.2"/>
<circle r="595.5" stroke-dasharray="0 516.6 4.5 11.1 19.3 29.8 145.8 6.2 24.2 21.8 23.8 180.6 36.5 5.5 31.6 77.6 89.2 71.7 21.3 2840.3"/>
<circle r="600.5" stroke-dasharray="0 638.9 19.8 396.2 5.2 112.3 5.6 108.7 8 30.8 23.9 2842.8"/>
<circle r="605.5" stroke-dasharray="0 546.6 78.2 78.5 107.3 175.6 19.2 96.1 6.2 82.3 5.3 126.7 31.3 2873.8"/>
<circle r="610.5" stroke-dasharray="0 531.7 30.4 28 71.9 108.5 5.3 79.1 37.7 5.3 52.2 100 6.3 3205.6"/>
<circle r="615.5" stroke-dasharray="0 533.9 118.6 52.3 22.2 19.1 5.4 17.1 28.4 141.4 5.4 23.2 48.5 52.1 5.9 3223.6"/>
<circle r="620.5" stroke-dasharray="0 562.7 39.6 5.4 127.2 73.1 5.4 98.7 29.2 43.2 9.7 18.1 5.4 32 87.5 26.1 5.4 47 36.2 3079.9"/>
<circle r="625.5" stroke-dasharray="0 568.6 5.5 54.3 8.8 60 52.1 155.7 5.5 71.9 40.2 28.2 99.2 143.2 5.5 3068.2"/>
<circle r="630.5" stroke-dasharray="0 642.7 26.9 92.9 45.3 58.1 33 43.4 12.6 47.4 36.4 152.8 20.1 5.5 16.9 53.1 24.8 3089.8"/>
<circle r="635.5" stroke-dasharray="0 622.8 7.5 5.5 83.2 114.3 38.8 94.7 9.1 21 17.7 62.3 32.9 8.1 5.5 5.6 20.9 11 50.9 181.9 51.1 2991.4"/>
<circle r="640.5" stroke-dasharray="0 753 44.3 97 37.7 39.8 205.5 11.6 8.3 48.2 40.6 73.6 59.1 3052.9"/>
<circle r="645.5" stroke-dasharray="0 708.2 11.5 16.2 33.2 34.5 5.6 42.8 22 107.7 76.1 82.2 18 139.6 37.6 94.6 18.6 3058.1"/>
<circle r="650.5" stroke-dasharray="0 710.3 73 263.1 5.7 159.9 15.8 97 5.7 57 41.3 3112.7"/>
<circle r="655.5" stroke-dasharray="0 590.4 11.6 166.6 18.9 84.4 30.4 289.7 16.8 63.8 25.7 37.8 14.2 81.1 30.4 3114.5"/>
<circle r="660.5" stroke-dasharray="0 572.9 32.5 22 5.8 150.5 84.4 275.2 49.4 245.8 40.2 3132.4"/>
<circle r="665.5" stroke-dasharray="0 577.3 52.4 45.7 56.4 272.8 66.3 21.1 21 48.7 10.1 65.2 5.8 14.2 38 10.5 10.8 22.3 13.5 83.8 5.8 3204.4"/>
<circle r="670.5" stroke-dasharray="0 641.1 5.9 291.4 108.8 181.3 27.8 97.2 23 11.3 5.9 56.7 28.1 37.9 8.7 3156.1"/>
<circle r="675.5" stroke-dasharray="0 587.8 62.6 51.6 12.9 234.1 9.2 219.7 159.3 86.9 5.9 86.5 7.8 6.9 5.1 3179.7"/>
<circle r="680.5" stroke-dasharray="0 643 36.4 217.4 30.2 87.2 5.9 187 14.4 147.7 36.6 15 95.7 3234.3"/>
<circle r="685.5" stroke-dasharray="0 594.6 55.9 70.8 51.4 349 25.5 14.8 114 3509.7"/>
<circle r="690.5" stroke-dasharray="0 599 86.8 119.8 21.1 121.3 10.8 62.2 6 102.5 87.9 199.8 11.8 3391.6"/>
<circle r="695.5" stroke-dasharray="0 603.3 29.9 45.6 55.8 12.1 9.1 73.6 97 44.6 70.8 100.5 47 96.1 83.7 71.3 19.5 11 46.8 3338"/>
<circle r="700.5" stroke-dasharray="0 725.8 26.6 36.1 25.6 180.3 28.6 21.4 13.8 40.9 8.9 155.8 80.6 243.4 5.3 3297.4"/>
<circle r="705.5" stroke-dasharray="0 948.8 6.2 43.7 6.2 11.4 27.4 86.5 32 16.8 90.2 124.4 24.3 27.9 76.5 34.1 7.3 3361.6"/>
<circle r="710.5" stroke-dasharray="0 627.2 97.9 221.5 32.1 206.1 45.3 157.6 54.5 76.1 97.4 3344.4"/>
<circle r="715.5" stroke-dasharray="0 620.6 110.3 495.2 72.1 3696.9"/>
<circle r="720.5" stroke-dasharray="0 627 37.8 46.8 224.7 35.6 13.7 293.6 64.9 133.2 6.3 50 6.3 16.4 6.3 3467.6"/>
<circle r="725.5" stroke-dasharray="0 646.9 23.2 243.5 28.7 435.7 123.8 121.5 26.6 3415"/>
<circle r="730.5" stroke-dasharray="0 700.3 6.4 24.9 25.2 10.1 7.7 56.7 6.4 22.7 32.4 41.5 22.9 326.6 83.8 93.6 9.5 60.8 42.2 26.1 61.5 3438.6"/>
<circle r="735.5" stroke-dasharray="0 712.4 13.3 52.9 7.7 23.2 11.8 599 27.6 7.5 81.9 14.8 94.8 3487.8"/>
<circle r="740.5" stroke-dasharray="0 642.3 46.1 26.2 13.3 119.5 58.7 486.7 30.1 156.6 39.6 14.3 6.5 20.3 23.9 3485.6"/>
<circle r="745.5" stroke-dasharray="0 646.7 26.2 90 26.9 45.1 41.1 13.4 6.5 34.9 8.6 464.1 6.5 6.5 13.7 76.9 92.9 3604.5"/>
<circle r="750.5" stroke-dasharray="0 654 39.3 105 43.4 41.6 66.5 439 135 3715.6"/>
<circle r="755.5" stroke-dasharray="0 655.3 4.3 8.2 6.6 4600"/>
<circle r="760.5" stroke-dasharray="0 726.6 57.3 65.8 62.3 638.5 35.4 74.6 21.7 3627"/>
<circle r="765.5" stroke-dasharray="0 664 22.8 118.9 6.7 702.8 6.7 185 34 3603.3"/>
<circle r="770.5" stroke-dasharray="0 675.6 9 24.5 23.2 31.2 6.7 821.5 31 3756.5"/>
<circle r="775.5" stroke-dasharray="0 686.6 22.2 142.8 39.3 713.6 159.1 3650.4"/>
<circle r="780.5" stroke-dasharray="0 802 13.5 752.4 83.2 45.1 10 3742.6"/>
<circle r="785.5" stroke-dasharray="0 762.9 132.7 662.5 90.5 3835.2"/>
<circle r="790.5" stroke-dasharray="0 773.3 6.9 10.6 14 43.6 12.3 746.8 133.7 28 28.7 3721"/>
<circle r="795.5" stroke-dasharray="0 690 46.3 876.6 86.2 48.8 61.3 3744.5"/>
<circle r="805.5" stroke-dasharray="0 1749 7 3867.4"/>
<circle r="810.5" stroke-dasharray="0 771.7 24.7 4861.9"/>
<circle r="815.5" stroke-dasharray="0 708.9 22.7 10.3 11.8 804.2 184.1 3951.3"/>
<circle r="820.5" stroke-dasharray="0 722.6 7.2 24.7 25.6 29.6 73.6 4844.9"/>
<circle r="825.5" stroke-dasharray="0 718.3 7.2 32.2 24.7 1063.2 23.7 3893.8"/>
<circle r="830.5" stroke-dasharray="0 802.7 10.8 1006.6 21.6 15.3 31.7 3909.3"/>
<circle r="835.5" stroke-dasharray="0 724.7 37.7 49 68.6 908.1 43.1 19.6 30.2 3951.7"/>
<circle r="840.5" stroke-dasharray="0 729.1 8.5 21.7 66.6 1018.7 13.8 4009.4"/>
<circle r="845.5" stroke-dasharray="0 733.4 42.2 54.5 10.6 5062"/>
<circle r="850.5" stroke-dasharray="0 763.1 52.8 1012.2 19.6 52.8 33.7 4003.4"/>
<circle r="855.5" stroke-dasharray="0 742.1 97.6 5132.9"/>
<circle r="860.5" stroke-dasharray="0 1917.1 7.5 4082.8"/>
<circle r="865.5" stroke-dasharray="0 766.8 12.5 1175.6 13.3 4074"/>
<circle r="870.5" stroke-dasharray="0 1889 41.3 31.8 14.7 4100.4"/>
<circle r="885.5" stroke-dasharray="0 1992.8 21 4168.2"/>
<circle r="890.5" stroke-dasharray="0 812 29.4 5375.4"/>
<circle r="895.5" stroke-dasharray="0 784 8.1 14.9 41 998 190.5 4215.3"/>
<circle r="900.5" stroke-dasharray="0 781.1 44.8 1199.3 22.6 4238.8"/>
<circle r="905.5" stroke-dasharray="0 798.7 7.9 1230.4 7.9 4276.7"/>
<circle r="915.5" stroke-dasharray="0 802.6 10.9 1246.9 8 4323.1"/>
<circle r="920.5" stroke-dasharray="0 798.5 171 5456.9"/>
</g>
<g fill="none" stroke="#fff" stroke-opacity="0.075" stroke-width="2.6">
<circle r="468" stroke-dasharray="0 1064.3 6.2 63.4 10.7 52.9 17.9 2051.8"/>
<circle r="473" stroke-dasharray="0 1075.7 75.6 36.7 12.3 7.4 28.2 2066.3"/>
<circle r="478" stroke-dasharray="0 1087.1 10.9 102.7 13.3 2123.1"/>
<circle r="483" stroke-dasharray="0 1098.4 174.5 2099.1"/>
<circle r="488" stroke-dasharray="0 1109.8 41.5 28.2 4.3 13.3 13.4 2196.5"/>
<circle r="493" stroke-dasharray="0 1121.2 92.1 63.3 22.8 2142.5"/>
<circle r="498" stroke-dasharray="0 1132.5 20.5 67.6 4.3 27.8 4.3 2219.6"/>
<circle r="503" stroke-dasharray="0 1143.9 139 8.1 34.6 2186"/>
<circle r="508" stroke-dasharray="0 1155.3 10.3 7.1 113.2 27.3 4.4 7.7 4.4 2216.8"/>
<circle r="513" stroke-dasharray="0 1190.2 9.8 18.7 27.6 11.3 49.3 31.6 13.5 2229.4"/>
<circle r="518" stroke-dasharray="0 1178 93 2345.3"/>
<circle r="523" stroke-dasharray="0 1189.4 17.8 70.2 38.2 4.6 58.2 2272.9"/>
<circle r="528" stroke-dasharray="0 1200.8 190.8 2294.6"/>
<circle r="533" stroke-dasharray="0 1212.1 11.7 40.5 73.4 36.8 6.8 10 13.4 2316.3"/>
<circle r="538" stroke-dasharray="0 1234.5 12.2 68.7 70.2 14 18.3 2338.1"/>
<circle r="543" stroke-dasharray="0 1357 14.7 44.6 14.8 2359.8"/>
<circle r="548" stroke-dasharray="0 1246.2 10 21.5 65.9 12.6 87.9 2381.5"/>
<circle r="553" stroke-dasharray="0 1257.6 51.6 96.1 52.1 2403.3"/>
<circle r="558" stroke-dasharray="0 1327.4 17.4 24.8 5.1 8.6 31.8 20.2 35.3 2425"/>
<circle r="563" stroke-dasharray="0 1294.8 72.4 9.2 47.1 11.5 11.5 21.2 16 2446.7"/>
<circle r="568" stroke-dasharray="0 1300.5 61.8 15.9 87.5 13.2 5 10.1 3.1 2468.5"/>
<circle r="573" stroke-dasharray="0 1316.5 27.6 27.4 5 34.5 12.7 5 81.4 2490.2"/>
<circle r="578" stroke-dasharray="0 1314.5 31.7 15.4 106.2 37.8 5 2524.4"/>
<circle r="583" stroke-dasharray="0 1325.8 33.7 12.8 27.6 14.7 80.6 2574.8"/>
<circle r="588" stroke-dasharray="0 1337.2 48.6 73.7 13.9 14.9 19 15.9 26.4 2555.4"/>
<circle r="593" stroke-dasharray="0 1348.6 54.5 82.5 77.2 2577.1"/>
<circle r="598" stroke-dasharray="0 1360 51.8 65.6 44.9 2652.6"/>
<circle r="603" stroke-dasharray="0 1371.3 49.5 96.7 30.4 2661.7"/>
<circle r="608" stroke-dasharray="0 1435.1 35.8 5.3 28.1 17.1 32.6 11.6 36.8 2642.3"/>
<circle r="613" stroke-dasharray="0 1492.6 50.6 2736.4"/>
<circle r="618" stroke-dasharray="0 1405.4 69.5 47.1 18.8 17 70.9 2685.7"/>
<circle r="623" stroke-dasharray="0 1416.8 19.2 5.4 5.4 66.9 25.2 14.5 35.2 42.1 11.2 2707.5"/>
<circle r="628" stroke-dasharray="0 1428.2 61.7 12.4 34.7 2847.2"/>
<circle r="633" stroke-dasharray="0 1452.7 37.7 6.3 55.3 95.6 5.5 2766.1"/>
<circle r="638" stroke-dasharray="0 1479.7 89.5 15.7 96.6 2772.7"/>
<circle r="643" stroke-dasharray="0 1483.1 23.8 50.8 16.2 5.6 63.9 5.6 40.9 2799.1"/>
<circle r="648" stroke-dasharray="0 1614 27.6 13.4 52.8 2816.1"/>
<circle r="653" stroke-dasharray="0 1542.7 46.3 67.7 35 2867.1"/>
<circle r="658" stroke-dasharray="0 1496.4 42.7 5.7 89.6 2959.3"/>
<circle r="663" stroke-dasharray="0 1507.8 28 36.7 56.3 17.1 101.4 2881.3"/>
<circle r="668" stroke-dasharray="0 1519.1 5.6 109.2 103.9 2925.8"/>
<circle r="673" stroke-dasharray="0 1550 7.1 9.3 127.5 5.9 73.8 2924.8"/>
<circle r="678" stroke-dasharray="0 1541.9 6.8 36 106.4 23.9 11.8 36.8 23.2 2946.5"/>
<circle r="683" stroke-dasharray="0 1632.8 32.6 43.1 12.3 3047.5"/>
<circle r="688" stroke-dasharray="0 1619.9 37.8 67.3 20.6 9.6 58.1 2990"/>
<circle r="693" stroke-dasharray="0 1576 11.5 27.4 211.5 3011.7"/>
<circle r="698" stroke-dasharray="0 1587.4 68.4 6.1 18.8 15.6 143.2 3033.4"/>
<circle r="703" stroke-dasharray="0 1642.1 14.3 75.9 120.5 3055.1"/>
<circle r="708" stroke-dasharray="0 1610.1 67.3 49.1 66.7 48.4 16.5 3084.8"/>
<circle r="713" stroke-dasharray="0 1623.7 14 49.5 6.2 12.1 19.6 6.2 94 3152.3"/>
<circle r="718" stroke-dasharray="0 1876.6 12 3124"/>
<circle r="723" stroke-dasharray="0 1647.8 6.3 69.8 9.6 57.5 97.9 3158.5"/>
<circle r="728" stroke-dasharray="0 1655.6 50.5 6.4 172.5 22.7 11 3163.8"/>
<circle r="733" stroke-dasharray="0 1667 191.2 3259.1"/>
<circle r="738" stroke-dasharray="0 1678.3 17.2 12.9 39.7 32.2 131.9 3240"/>
<circle r="743" stroke-dasharray="0 1689.7 127.8 6.5 98.6 3264.5"/>
<circle r="748" stroke-dasharray="0 1701.1 42 58.2 14 53.7 21.2 53.8 7.3 3270.8"/>
<circle r="753" stroke-dasharray="0 1758 39.7 11 45.2 14 6.6 18.7 41.5 6.6 43.3 3272.4"/>
<circle r="758" stroke-dasharray="0 1723.8 3.4 42.3 81.2 14.6 62.1 3364.4"/>
<circle r="763" stroke-dasharray="0 1830.6 12.1 43 20.9 3420.1"/>
<circle r="768" stroke-dasharray="0 1746.6 8 58.2 131 40.1 25.6 3352.2"/>
<circle r="773" stroke-dasharray="0 1757.9 48.7 31.7 6.7 99 26.1 3426.4"/>
<circle r="778" stroke-dasharray="0 1849.7 106.3 3475.5"/>
<circle r="783" stroke-dasharray="0 1780.7 4.9 12.2 42.2 6.8 123.2 3496.4"/>
<circle r="788" stroke-dasharray="0 2070 6.8 3424.5"/>
<circle r="793" stroke-dasharray="0 1803.4 6.1 36.2 30.3 31.3 153.1 3475.7"/>
<circle r="798" stroke-dasharray="0 1906.8 53.4 36.3 106.6 3468"/>
<circle r="803" stroke-dasharray="0 1831.8 67.3 10.1 106.3 30.8 47.6 3512.2"/>
<circle r="808" stroke-dasharray="0 1876.8 19.5 13 115.1 7.2 12.3 15.7 7.1 20.4 42.2 3511.5"/>
<circle r="813" stroke-dasharray="0 1848.9 13.4 28.7 27.4 3757.4"/>
<circle r="818" stroke-dasharray="0 1860.3 7.9 132.4 74.1 7.1 74 3554.9"/>
<circle r="823" stroke-dasharray="0 1999.3 132.3 3614.1"/>
<circle r="828" stroke-dasharray="0 1883 173.8 32.3 93 3598.4"/>
<circle r="833" stroke-dasharray="0 1894.4 125.7 47.4 88.2 3659.8"/>
<circle r="838" stroke-dasharray="0 1905.7 36 28.7 7.3 89.2 126.1 3657.2"/>
<circle r="843" stroke-dasharray="0 2109.3 112.4 3663.6"/>
<circle r="848" stroke-dasharray="0 2009.2 132.2 7.4 22.5 7.4 7.4 3734"/>
<circle r="853" stroke-dasharray="0 1939.9 170.6 79.4 21.4 3743.8"/>
<circle r="858" stroke-dasharray="0 1973.5 23.3 9.6 62.9 66.9 28.3 30 16.4 37.5 10.9 3730.8"/>
<circle r="863" stroke-dasharray="0 2000.5 82.8 3941.6"/>
<circle r="868" stroke-dasharray="0 1998 7.6 34.6 36.8 32.4 53.4 101.9 22.8 3772.2"/>
<circle r="873" stroke-dasharray="0 1985.3 40 94.7 56 19.1 105.6 3793.9"/>
<circle r="878" stroke-dasharray="0 2008.2 155.2 7.7 97.8 7.7 37.4 3815.7"/>
<circle r="883" stroke-dasharray="0 2091.9 42.3 21.2 171.7 3837.4"/>
<circle r="888" stroke-dasharray="0 2019.5 118.5 124.8 69 3867.5"/>
<circle r="893" stroke-dasharray="0 2030.8 126.7 125.5 7.8 56.2 6.4 3880.9"/>
<circle r="898" stroke-dasharray="0 2042.2 320.5 3906.5"/>
<circle r="903" stroke-dasharray="0 2053.6 37 126.7 18.2 7.9 58.8 37.5 40.1 3924.3"/>
<circle r="908" stroke-dasharray="0 2084.2 124.4 78.1 13.1 31.6 39.8 3967.7"/>
<circle r="913" stroke-dasharray="0 2076.3 73.3 8 101.1 8 139.5 3967.8"/>
<circle r="918" stroke-dasharray="0 2087.7 5.7 109.5 216.5 3989.5"/>
<circle r="923" stroke-dasharray="0 2099.1 60.1 16.9 12.6 39.7 8.1 77 119.1 4011.2"/>
<circle r="928" stroke-dasharray="0 2110.4 190 27 29.3 14.6 28.3 4079.1"/>
<circle r="933" stroke-dasharray="0 2144.3 106.2 113.2 29.7 4120.1"/>
<circle r="938" stroke-dasharray="0 2256.1 123.5 15.6 68.8 4084.5"/>
<circle r="943" stroke-dasharray="0 2151.2 25.4 23.4 15 104.6 36.2 105.2 21.7 4100.7"/>
<circle r="948" stroke-dasharray="0 2291.2 73 8.3 121.4 4124.4"/>
<circle r="953" stroke-dasharray="0 2219.9 291.7 4141.6"/>
<circle r="958" stroke-dasharray="0 2186.5 128.6 83 50.7 19.2 12.2 14.4 30.1 4163.3"/>
<circle r="963" stroke-dasharray="0 2190 141.8 8.4 28.9 67.8 57.9 4228.2"/>
<circle r="968" stroke-dasharray="0 2201.4 88.7 12.4 10.9 122.1 115.5 4206.8"/>
<circle r="973" stroke-dasharray="0 2347.3 186.6 4258.9"/>
<circle r="978" stroke-dasharray="0 2459 8.5 4360.2"/>
<circle r="983" stroke-dasharray="0 2406.2 24.8 77.9 53.1 4300.6"/>
<circle r="988" stroke-dasharray="0 2374 88.1 81.1 60.6 4293.7"/>
<circle r="993" stroke-dasharray="0 2517.6 99.4 4315.4"/>
<circle r="998" stroke-dasharray="0 2332.4 171.9 39.4 38.7 27.8 19.8 4337.2"/>
<circle r="1003" stroke-dasharray="0 2302.7 73.6 13.4 41.3 142.1 70.2 4358.9"/>
<circle r="1008" stroke-dasharray="0 2436.9 8.8 8.8 52.2 4530.5"/>
<circle r="1013" stroke-dasharray="0 2434.9 26.9 15 32.8 18.1 27.6 9.8 32 30.3 42.4 4402.4"/>
<circle r="1018" stroke-dasharray="0 2443.1 176.6 56 7.1 4424.1"/>
<circle r="1023" stroke-dasharray="0 2326.5 190.8 63.5 22.2 4538.8"/>
<circle r="1028" stroke-dasharray="0 2480.7 14.6 55.6 85.3 4540.6"/>
<circle r="1033" stroke-dasharray="0 2349.2 373.2 4489.3"/>
<circle r="1038" stroke-dasharray="0 2515.1 50.5 4681"/>
<circle r="1043" stroke-dasharray="0 2427.9 320.9 4532.7"/>
<circle r="1048" stroke-dasharray="0 2511.7 185 40 25.3 4554.5"/>
<circle r="1053" stroke-dasharray="0 2531.6 16.8 9.2 205.6 4588.2"/>
<circle r="1058" stroke-dasharray="0 2488.1 197.4 4700.7"/>
<circle r="1063" stroke-dasharray="0 2417.4 248.7 25.2 110.1 4619.7"/>
<circle r="1068" stroke-dasharray="0 2428.8 251.3 9.3 22.3 40.2 62.8 4641.4"/>
<circle r="1073" stroke-dasharray="0 2747.1 65.3 9.4 6.1 4663.1"/>
<circle r="1078" stroke-dasharray="0 2478.6 191.3 9.4 45.7 31.1 84.9 4684.8"/>
<circle r="1083" stroke-dasharray="0 2665.4 9.5 147 32.4 4706.6"/>
<circle r="1088" stroke-dasharray="0 2645.5 63 4887.2"/>
<circle r="1093" stroke-dasharray="0 2762 118.6 4750"/>
<circle r="1103" stroke-dasharray="0 2669.2 75.5 29.4 97.6 4828.7"/>
<circle r="1108" stroke-dasharray="0 2888.2 31.9 4815.2"/>
<circle r="1113" stroke-dasharray="0 2649.2 96.7 150.6 36.8 4837"/>
<circle r="1118" stroke-dasharray="0 2542.5 403.9 4858.7"/>
<circle r="1123" stroke-dasharray="0 2691.6 118.3 44.8 54.1 4931.2"/>
<circle r="1128" stroke-dasharray="0 2750.1 84.5 11.9 50.6 4977.8"/>
<circle r="1133" stroke-dasharray="0 2761.7 88.5 5059.6"/>
<circle r="1138" stroke-dasharray="0 2861.5 20 34.1 83.5 4945.6"/>
<circle r="1143" stroke-dasharray="0 2907.2 10 30.2 64.9 4967.3"/>
<circle r="1148" stroke-dasharray="0 2926 61.7 18.1 19.7 4989.1"/>
<circle r="1153" stroke-dasharray="0 2860 39.7 79.5 41.4 5028.9"/>
<circle r="1158" stroke-dasharray="0 2633.5 297.8 38.3 82.3 5032.5"/>
<circle r="1163" stroke-dasharray="0 2919.5 30.5 5169.3"/>
<circle r="1168" stroke-dasharray="0 2835.1 95.4 127.8 19.8 5076"/>
<circle r="1178" stroke-dasharray="0 2990.7 10.3 27.2 10.3 10.3 55.8 5119.4"/>
<circle r="1183" stroke-dasharray="0 2918.9 198.8 5141.2"/>
<circle r="1188" stroke-dasharray="0 2943.7 187.2 5162.9"/>
<circle r="1193" stroke-dasharray="0 2823.4 320.6 5184.6"/>
<circle r="1198" stroke-dasharray="0 2993.6 46.9 21.8 83.1 5218.3"/>
<circle r="1203" stroke-dasharray="0 3012.1 94.2 5292.2"/>
<circle r="1208" stroke-dasharray="0 3114.4 69.2 5249.8"/>
<circle r="1213" stroke-dasharray="0 2943.3 208.6 24 20.9 5271.5"/>
<circle r="1218" stroke-dasharray="0 3083.8 59.7 5359.7"/>
<circle r="1223" stroke-dasharray="0 3032.1 84.4 21 85.6 5315"/>
<circle r="1233" stroke-dasharray="0 2976.6 195.2 5436.2"/>
<circle r="1238" stroke-dasharray="0 3104.6 41.8 29.6 49.7 5417.1"/>
<circle r="1243" stroke-dasharray="0 2975.7 261.5 5440.6"/>
<circle r="1248" stroke-dasharray="0 2998.3 175.6 5538.7"/>
<circle r="1258" stroke-dasharray="0 3162.5 85.7 27.2 40 5467.1"/>
<circle r="1268" stroke-dasharray="0 3253.8 17.1 5581.4"/>
<circle r="1273" stroke-dasharray="0 3123.9 231 5532.3"/>
<circle r="1278" stroke-dasharray="0 3253.1 115 5554"/>
<circle r="1288" stroke-dasharray="0 3299.8 22 5670.1"/>
<circle r="1293" stroke-dasharray="0 3330.5 77.1 5619.2"/>
<circle r="1298" stroke-dasharray="0 3327.3 34.7 20.5 29 5650.3"/>
<circle r="1303" stroke-dasharray="0 3348.9 65 5682.8"/>
<circle r="1308" stroke-dasharray="0 3343.9 103.3 5684.4"/>
</g>
<g fill="none" stroke="#fff" stroke-opacity="0.13" stroke-width="2.4">
<circle r="470.5" stroke-dasharray="0 1168.9 19.1 5.8 4.1 2086.8"/>
<circle r="475.5" stroke-dasharray="0 1086.7 9.5 30.6 19.2 43.5 63.7 2066.5"/>
<circle r="480.5" stroke-dasharray="0 1120.8 36.4 53.2 4.2 29.3 6.6 2104.1"/>
<circle r="485.5" stroke-dasharray="0 1237.4 32.4 2119.6"/>
<circle r="490.5" stroke-dasharray="0 1115.5 5.4 35.4 27.3 79 26.8 2134.9"/>
<circle r="495.5" stroke-dasharray="0 1126.8 8.8 145.8 24.5 2153.4"/>
<circle r="500.5" stroke-dasharray="0 1138.2 62.2 2293.7"/>
<circle r="505.5" stroke-dasharray="0 1154.2 26.4 34.1 4.4 9.3 36.3 4.4 9 21.8 7.4 15.7 9.3 2196.8"/>
<circle r="510.5" stroke-dasharray="0 1196.7 46.1 4.5 71.8 2244.9"/>
<circle r="515.5" stroke-dasharray="0 1206.6 38.5 8.4 45.2 52.2 7.6 2240.3"/>
<circle r="520.5" stroke-dasharray="0 1208.3 18.1 4.5 9.5 63.1 4.5 2325.7"/>
<circle r="525.5" stroke-dasharray="0 1276.6 27.6 2364.5"/>
<circle r="530.5" stroke-dasharray="0 1206.4 34.5 97.5 4.6 8.9 45 2306.6"/>
<circle r="535.5" stroke-dasharray="0 1217.8 109.7 13.5 53.9 2343.6"/>
<circle r="545.5" stroke-dasharray="0 1240.6 10.1 30.3 21 100.9 4.8 2400.7"/>
<circle r="550.5" stroke-dasharray="0 1263.8 17.7 115.9 37.8 2408.1"/>
<circle r="555.5" stroke-dasharray="0 1393.8 70.1 2414.1"/>
<circle r="560.5" stroke-dasharray="0 1300.8 36.2 42.5 9.7 35.8 18.8 2469.3"/>
<circle r="565.5" stroke-dasharray="0 1368.5 40.3 2539.2"/>
<circle r="570.5" stroke-dasharray="0 1364.4 22.6 64.2 52.4 2479.3"/>
<circle r="580.5" stroke-dasharray="0 1471.8 14.4 2566.4"/>
<circle r="585.5" stroke-dasharray="0 1331.5 37.7 54.3 9.7 80.6 29.3 2544.5"/>
<circle r="590.5" stroke-dasharray="0 1342.9 133.5 7.3 29.1 2609.7"/>
<circle r="595.5" stroke-dasharray="0 1354.3 15.7 18 16.3 2753.1"/>
<circle r="600.5" stroke-dasharray="0 1365.6 33.5 77 18 2698.2"/>
<circle r="605.5" stroke-dasharray="0 1377 46.5 118 54.2 2631.4"/>
<circle r="610.5" stroke-dasharray="0 1413.8 7.3 70.6 117.2 2653.2"/>
<circle r="615.5" stroke-dasharray="0 1399.7 14.7 5.4 68.3 2808.9"/>
<circle r="620.5" stroke-dasharray="0 1519.8 80.9 2731.2"/>
<circle r="625.5" stroke-dasharray="0 1510 5.5 42.7 50.2 2758.5"/>
<circle r="630.5" stroke-dasharray="0 1502.6 107.3 2791.8"/>
<circle r="635.5" stroke-dasharray="0 1455.8 62.8 78.2 52.9 2786.9"/>
<circle r="640.5" stroke-dasharray="0 1456.6 18.4 47 141.1 2808.5"/>
<circle r="645.5" stroke-dasharray="0 1560.4 80.9 2865.2"/>
<circle r="650.5" stroke-dasharray="0 1530.9 94.2 70.8 18.4 2827"/>
<circle r="655.5" stroke-dasharray="0 1633.5 39.4 10.1 5.7 9.2 29.6 2848.7"/>
<circle r="660.5" stroke-dasharray="0 1502.1 34.9 3074.1"/>
<circle r="665.5" stroke-dasharray="0 1513.5 7 49.8 6.6 55.5 18.2 6.9 8.5 2980.1"/>
<circle r="670.5" stroke-dasharray="0 1524.8 11.1 82.6 16.4 15.5 116.5 2913.9"/>
<circle r="680.5" stroke-dasharray="0 1573.7 9.1 3168"/>
<circle r="685.5" stroke-dasharray="0 1602.4 128.4 3054.9"/>
<circle r="690.5" stroke-dasharray="0 1581.6 81.6 13.3 6 21.7 27.5 75.3 12.8 3000.8"/>
<circle r="695.5" stroke-dasharray="0 1604.4 141.2 6.1 18.9 3085"/>
<circle r="700.5" stroke-dasharray="0 1820.4 13.5 3056.5"/>
<circle r="705.5" stroke-dasharray="0 1604.4 13.3 57.8 27.1 15 33.6 3174"/>
<circle r="710.5" stroke-dasharray="0 1615.8 84.9 52.7 6.2 6.2 21.4 69.9 15.3 3087.7"/>
<circle r="715.5" stroke-dasharray="0 1627.2 3.3 116.3 86.2 19.4 10.7 3132"/>
<circle r="720.5" stroke-dasharray="0 1817.2 19 3193.8"/>
<circle r="725.5" stroke-dasharray="0 1740.3 25.5 103.5 9.5 3186.1"/>
<circle r="730.5" stroke-dasharray="0 1747.4 36.8 12 17.8 48.9 19.6 3217.3"/>
<circle r="735.5" stroke-dasharray="0 1672.6 35 148.1 24.8 45.3 12.5 3196.4"/>
<circle r="740.5" stroke-dasharray="0 1740.9 39.2 3389.5"/>
<circle r="745.5" stroke-dasharray="0 1736.5 85.2 122.5 17.3 3243.1"/>
<circle r="750.5" stroke-dasharray="0 1707.3 52.2 86.6 22.4 3370.9"/>
<circle r="755.5" stroke-dasharray="0 1777.8 117.6 50.1 45.6 3283.3"/>
<circle r="760.5" stroke-dasharray="0 1817.8 9.1 133.5 43.9 3305"/>
<circle r="765.5" stroke-dasharray="0 1933.5 36.8 3373.9"/>
<circle r="770.5" stroke-dasharray="0 1752.2 35 68.8 65.6 3457.5"/>
<circle r="775.5" stroke-dasharray="0 1763.6 4.1 6.8 29.3 36.7 123.3 15.3 64.7 3370.2"/>
<circle r="780.5" stroke-dasharray="0 1775 36 93.3 25.1 3519.5"/>
<circle r="785.5" stroke-dasharray="0 1823.6 25.1 14.9 12.3 31 50.8 52.6 6.9 3466.6"/>
<circle r="790.5" stroke-dasharray="0 1801.3 115.5 6.9 63.5 3531.6"/>
<circle r="795.5" stroke-dasharray="0 1871 66.3 47.5 44.8 3524"/>
<circle r="800.5" stroke-dasharray="0 1881.9 184.7 3521.9"/>
<circle r="805.5" stroke-dasharray="0 1985.4 51.6 32.3 53.3 3500.8"/>
<circle r="810.5" stroke-dasharray="0 1843.2 21 70.6 47.1 3676.5"/>
<circle r="815.5" stroke-dasharray="0 1854.6 7.9 101 16.3 31.5 10 36 14 41.6 36.4 3544.1"/>
<circle r="820.5" stroke-dasharray="0 2024.2 49.8 3654.2"/>
<circle r="825.5" stroke-dasharray="0 1877.3 87.6 10.4 68.6 51.2 9.1 3658.9"/>
<circle r="830.5" stroke-dasharray="0 1888.7 68.4 53.8 122.4 3664.6"/>
<circle r="835.5" stroke-dasharray="0 2109.2 23.2 7.3 62.2 3631"/>
<circle r="840.5" stroke-dasharray="0 1911.4 12.9 101.9 74.1 29.2 85.5 3652.7"/>
<circle r="845.5" stroke-dasharray="0 1931.2 12.9 258.8 25.4 3674.4"/>
<circle r="850.5" stroke-dasharray="0 1947.7 14.1 17.5 7.4 138.9 56.4 3755.5"/>
<circle r="855.5" stroke-dasharray="0 1957.9 52 162.6 7.5 52.1 22.6 3717.9"/>
<circle r="860.5" stroke-dasharray="0 2022 112.7 13.7 62.6 3796.3"/>
<circle r="865.5" stroke-dasharray="0 1968.3 135.5 3938.5"/>
<circle r="870.5" stroke-dasharray="0 1979.7 141.6 90.3 75.3 3790.4"/>
<circle r="875.5" stroke-dasharray="0 1991 111.8 7.6 7.6 105.5 21.3 3867.3"/>
<circle r="880.5" stroke-dasharray="0 2002.4 55.6 186.1 10.4 3892.6"/>
<circle r="885.5" stroke-dasharray="0 2013.8 50.1 36.1 43.9 4038.1"/>
<circle r="890.5" stroke-dasharray="0 2025.1 118.1 115.9 65.7 3892.1"/>
<circle r="895.5" stroke-dasharray="0 2075.2 66.1 13.5 141.3 3955.6"/>
<circle r="900.5" stroke-dasharray="0 2047.9 14.3 39.4 97.3 4087.7"/>
<circle r="905.5" stroke-dasharray="0 2175.4 108.9 4037.3"/>
<circle r="910.5" stroke-dasharray="0 2070.6 16.4 77.6 196.9 3995"/>
<circle r="915.5" stroke-dasharray="0 2389 23.7 3978.6"/>
<circle r="920.5" stroke-dasharray="0 2333.6 23.9 37 31.5 4000.4"/>
<circle r="925.5" stroke-dasharray="0 2170.3 16.7 23.6 34.7 4215.9"/>
<circle r="930.5" stroke-dasharray="0 2124.8 8.1 18.2 40.8 145.5 100.8 4057.9"/>
<circle r="935.5" stroke-dasharray="0 2238.2 101.1 4191.7"/>
<circle r="940.5" stroke-dasharray="0 2298.4 158.2 4109.4"/>
<circle r="945.5" stroke-dasharray="0 2359.4 20.9 4220.5"/>
<circle r="950.5" stroke-dasharray="0 2233.1 112.6 39 120.3 4130.7"/>
<circle r="955.5" stroke-dasharray="0 2173 42.3 111.4 125.6 32.2 14.9 4171.3"/>
<circle r="960.5" stroke-dasharray="0 2269.9 166.2 8.4 32.6 4228.6"/>
<circle r="965.5" stroke-dasharray="0 2204.8 50.2 4485.5"/>
<circle r="970.5" stroke-dasharray="0 2275.3 233.5 11.7 8.5 4246.4"/>
<circle r="975.5" stroke-dasharray="0 2381.5 119.4 4309.4"/>
<circle r="980.5" stroke-dasharray="0 2229.8 70 51.2 15.2 99.1 16.7 35.8 18.7 4308.7"/>
<circle r="985.5" stroke-dasharray="0 2304.9 69.1 32.9 8.9 4464.3"/>
<circle r="990.5" stroke-dasharray="0 2252.6 143 90.8 124.1 4304.6"/>
<circle r="995.5" stroke-dasharray="0 2589.4 34.2 4326.3"/>
<circle r="1000.5" stroke-dasharray="0 2475.4 102.2 4407.2"/>
<circle r="1005.5" stroke-dasharray="0 2429.7 39.8 4550.2"/>
<circle r="1010.5" stroke-dasharray="0 2538.8 39.1 4476.7"/>
<circle r="1015.5" stroke-dasharray="0 2309.4 191.2 23.2 152.5 4413.2"/>
<circle r="1020.5" stroke-dasharray="0 2320.8 331.6 4472"/>
<circle r="1025.5" stroke-dasharray="0 2334.3 212.1 43.5 92.6 4476.8"/>
<circle r="1030.5" stroke-dasharray="0 2648.4 54.2 4491.6"/>
<circle r="1045.5" stroke-dasharray="0 2548.5 82.4 44.4 42.2 4581.5"/>
<circle r="1055.5" stroke-dasharray="0 2570 211.7 4587.1"/>
<circle r="1060.5" stroke-dasharray="0 2464.9 110.5 51.6 110.1 4666.6"/>
<circle r="1065.5" stroke-dasharray="0 2670.1 97.5 4671"/>
<circle r="1070.5" stroke-dasharray="0 2556.5 47.8 4869.2"/>
<circle r="1075.5" stroke-dasharray="0 2567.3 49.7 23.7 30.1 62.3 10.3 4764.9"/>
<circle r="1080.5" stroke-dasharray="0 2689.8 71.9 27.2 58.6 4695.7"/>
<circle r="1090.5" stroke-dasharray="0 2480 257.6 4875.6"/>
<circle r="1095.5" stroke-dasharray="0 2734.3 9.6 58.5 47.1 4798.6"/>
<circle r="1100.5" stroke-dasharray="0 2616.6 209.3 31.3 26.4 4799.3"/>
<circle r="1105.5" stroke-dasharray="0 2728.7 66.9 40.5 65.9 4815.9"/>
<circle r="1110.5" stroke-dasharray="0 2624.9 133.2 4994.6"/>
<circle r="1120.5" stroke-dasharray="0 2770.6 66.4 110.7 5.4 4869.5"/>
<circle r="1125.5" stroke-dasharray="0 2700.5 114.6 5042.3"/>
<circle r="1135.5" stroke-dasharray="0 2812.1 35.4 5079.8"/>
<circle r="1140.5" stroke-dasharray="0 2954.5 51.2 4956.5"/>
<circle r="1145.5" stroke-dasharray="0 2900.9 118 4978.2"/>
<circle r="1150.5" stroke-dasharray="0 2939.3 44.2 10 38.5 4999.9"/>
<circle r="1155.5" stroke-dasharray="0 2765.1 171.5 71.2 37.4 5021.7"/>
<circle r="1160.5" stroke-dasharray="0 2844.2 163.4 25.5 25.3 5043.4"/>
<circle r="1165.5" stroke-dasharray="0 2703.5 286 5147.3"/>
<circle r="1185.5" stroke-dasharray="0 3032.5 18.7 27.5 45.6 5152"/>
<circle r="1200.5" stroke-dasharray="0 3016.9 20.5 117.9 8.6 5217.2"/>
<circle r="1215.5" stroke-dasharray="0 3003.1 75.3 5407.4"/>
<circle r="1230.5" stroke-dasharray="0 3135.4 26.9 5428.3"/>
<circle r="1235.5" stroke-dasharray="0 3206.9 11.7 5406.9"/>
<circle r="1240.5" stroke-dasharray="0 3161.5 25.3 5473.6"/>
<circle r="1255.5" stroke-dasharray="0 3258.6 50.2 5456.2"/>
<circle r="1265.5" stroke-dasharray="0 3193.9 79.5 5561.4"/>
<circle r="1270.5" stroke-dasharray="0 3258.3 90 5521.4"/>
<circle r="1275.5" stroke-dasharray="0 3146.5 158.2 5600"/>
<circle r="1280.5" stroke-dasharray="0 3335.8 13.4 5590.4"/>
<circle r="1285.5" stroke-dasharray="0 3378.5 9.4 5586.6"/>
<circle r="1300.5" stroke-dasharray="0 3394.4 22.2 5662.6"/>
</g>
</g>
<g clip-path="url(#cs)"><g clip-path="url(#oms)">
<g transform="translate(1023.5 48) scale(0.7234 1)" fill="none"><g filter="url(#b8)"><path d="M299.2 383 A486 486 0 0 1 -299.2 383" stroke="#858585" stroke-width="34" opacity=".45"/></g><g filter="url(#b4)"><path d="M291.8 373.5 A474 474 0 0 1 -291.8 373.5" stroke="#a3a3a3" stroke-width="11" opacity=".95"/></g></g>
</g></g>
<g fill="none" stroke-linecap="round">
<g filter="url(#b8)"><path d="M780 505 L1023 521 L1315 541" stroke="#808080" stroke-width="26" opacity=".55"/></g>
<g filter="url(#b4)"><path d="M795 504 L1023 518 L1308 536" stroke="#a3a3a3" stroke-width="11" opacity=".95"/></g>
<g filter="url(#b4)"><path d="M1195 533.5 L1285 538" stroke="#a2a2a2" stroke-width="15" opacity=".9"/></g>
<g filter="url(#b4)"><path d="M797 503.5 L900 509" stroke="#a1a1a1" stroke-width="18" opacity=".9"/></g>
</g>
<g filter="url(#b4)">
<path d="M980 398 L990 398 L1005 508 L979 508Z" fill="#757575"/>
<path d="M979 120 L983 120 L990 200 L985 200Z" fill="#525252" opacity=".6"/>
</g>
<g transform="translate(1023.5 48) scale(0.7234 1)" filter="url(#nb)">
<g fill="none" stroke="#000" stroke-opacity="0.14" stroke-width="3.2">
<circle r="31.5" stroke-dasharray="0 19.9 .3 .7 .3 .7 1.9 .4 1.1 .7 .5 1.6 2.6 2.6 .3 .9 .3 5.6 2.4 4.5 2.5 3.8 4.3 4.3 .4 5.2 1 3.9 1.2 1.5 .6 1.5 .5 .3 2.4 139.2"/>
<circle r="37.5" stroke-dasharray="0 21.4 .3 3.7 1 .6 .4 2.4 .5 2 1.6 1.6 .3 2.2 .5 .9 .4 1.5 .3 3.4 5.2 1.6 2.2 8.8 .3 .5 2.8 6 1.7 .6 .9 6.6 3.7 5.3 .4 6.3 .7 163"/>
<circle r="43.5" stroke-dasharray="0 23.1 .5 3.6 1.7 3.4 .9 4.9 .8 1.3 .4 4.4 .4 1 .4 3.9 1.6 3 .4 2.2 .8 .4 .4 23.4 .4 1.4 .6 3.5 .4 2.4 .9 6.8 .4 1.5 1.4 201.2"/>
<circle r="49.5" stroke-dasharray="0 25.9 .4 3 5.4 5.8 .7 5 4.2 1.3 2 1.9 .6 1.5 .5 1.9 .4 2.2 .4 6.1 2.1 .4 3.3 .9 1.5 3.5 .9 1.5 1.3 .6 4.5 .5 3.9 1.1 .8 2.1 .4 .6 1 2.5 4.7 19.8 .4 217.8"/>
<circle r="55.5" stroke-dasharray="0 34 2 .7 .5 1.4 5.1 .8 1.6 2.3 1.1 7.8 .6 6.1 2.8 13.3 1.8 12.3 1.5 4.1 2.4 8.9 5.7 .6 .5 3.7 4.2 3.7 .9 257.2"/>
<circle r="61.5" stroke-dasharray="0 31.1 3.4 .6 3.5 10.8 22 8.9 1.5 5.2 5 6.8 1 7.7 .5 2 15.5 3.4 .9 8.2 1.7 .5 .5 1.6 1.1 14.9 .8 270.1"/>
<circle r="67.5" stroke-dasharray="0 34.2 11.6 8.5 2 1.8 1.9 13.7 2.4 1.3 1.4 3.8 .6 5 .6 10.1 .6 .6 2.7 2.2 6.6 4 2.3 10.6 .7 8.1 3.2 3.3 9.8 .6 6.1 .9 5.6 1 .6 4.1 5.4 293.3"/>
<circle r="73.5" stroke-dasharray="0 37.2 .5 3.8 4.8 2.7 .8 .6 4 3.6 8.2 8.7 .6 15.7 9 10.9 5.9 7.3 4.3 7.1 3 1.9 .6 8.3 3 .6 3.4 6 2.4 9.6 7 3.1 5.6 322.9"/>
<circle r="79.5" stroke-dasharray="0 40.2 5.4 4.1 11 2.9 4 16.9 4.2 3.3 .7 4.5 1.9 11.7 5.5 29.7 2.1 3.7 3 9.6 .7 1.7 .7 2.7 1.3 23.9 .8 358.8"/>
<circle r="85.5" stroke-dasharray="0 43.3 11.9 .7 .7 1 .7 3.6 .9 1.3 .7 8.9 .7 2 3.2 16 4.2 9.2 4.7 11.9 7.4 1.3 .7 7.2 2.8 5.5 5.9 1.4 4.8 4.1 2.1 2.1 1.3 6.5 3.1 17.7 1.3 9.4 .7 7.9 .7 376.9"/>
<circle r="91.5" stroke-dasharray="0 46.3 3.8 2 1.5 .9 2.4 .9 5.1 6.8 2.3 9.9 1.1 3.2 1.9 .8 9 .8 .8 12.8 7.1 4.7 2.3 1.2 .8 5.9 1.2 1.3 9.8 .8 1.9 11.1 5.7 .9 5.6 6.6 4.1 22.9 6.7 7.3 6.1 5.4 3.3 403.9"/>
<circle r="97.5" stroke-dasharray="0 58.6 1.8 4.8 1.5 6.9 2.3 15.3 4 7 6.8 4.9 3.4 11.8 5.7 11.6 9.8 6.9 3.6 1.8 1.2 4.9 3.1 19.5 .9 3.7 6 5.2 8.3 1.5 6.5 4.8 3.7 .9 2.3 13.8 2.4 423.7"/>
<circle r="103.5" stroke-dasharray="0 52.4 5.1 5.3 6 8.6 2.4 18.8 .9 28.9 .9 31.4 4.2 5.4 12.9 6.5 3.3 .9 7.5 9.2 1.3 1.1 2.6 24.7 9.6 5.7 .9 15.9 .5 449.8"/>
<circle r="109.5" stroke-dasharray="0 57.5 6.3 1 4.1 3.3 5.9 31.1 5.5 6.5 4.6 2.7 3.1 1.2 6.3 1 3.7 1.9 4.1 1 1 9.4 6.3 20.9 5.6 52 1 9.5 5 1.8 1 2.6 3.7 14.8 3.2 475.9"/>
<circle r="115.5" stroke-dasharray="0 60.9 1.9 6 7.3 1.1 3.1 2.7 5.8 17.1 1.6 12.8 3.3 2.5 1.7 7.8 8.6 9.3 1 15.3 4.5 5.5 1.4 5.9 6.2 3.2 1 21.3 3.1 1 11.6 1.2 2.4 9.7 5.7 23.1 1 8.5 11.1 6.4 .8 501.9"/>
<circle r="121.5" stroke-dasharray="0 62.5 2.3 23.2 8 20.7 11.4 9.6 16.6 1.8 4.7 1.1 4.8 12.3 1.9 17.7 3 2.3 1.2 9.1 2.7 1.1 2 38.9 3.5 12.2 3.1 1.1 5.2 2.5 1.1 10.2 6.2 1.1 15.3 528"/>
<circle r="127.5" stroke-dasharray="0 64.5 3.7 15.1 7.9 6.2 14.1 1.6 18.8 1.1 1.1 15.5 8.5 12.4 1.7 22.4 4.2 2.6 1.1 50.2 1.1 2.8 2.5 24.9 10.3 20.5 5.8 1.1 7.8 2.4 4.4 554.1"/>
<circle r="133.5" stroke-dasharray="0 67.6 2.6 6.8 2.1 9.6 1.2 6.4 6.4 23.3 1.2 26.1 1.2 2.7 2.5 2.2 1.2 12.4 3.1 2.5 4.4 1.5 6.9 38.8 3.8 6.4 3.1 5.3 3.2 2.3 2.1 13.7 4 1.2 1.2 21.4 2.6 20.6 5.8 11.4 2.7 588.8"/>
<circle r="139.5" stroke-dasharray="0 70.6 8.8 1.4 1.5 28.4 16.6 20.4 12.5 1.3 8 1.6 11.9 6.1 4.3 8.9 1.5 10.2 12.5 7.3 3.7 5.6 1.3 4.1 11.5 40.8 3 4.1 2.6 24.3 1.9 2.5 2.4 1.2 1.2 3.2 6.7 620.1"/>
<circle r="145.5" stroke-dasharray="0 75.1 1.3 10.8 4.1 5.5 3.5 1.3 2 2.5 1.8 1.3 11.2 1.3 3.5 2.4 1.5 18.1 21.4 42.7 2.7 9.9 3.7 1.3 3.6 12 3.4 19.5 3.9 4.4 14.9 10.7 1.9 29.8 4.3 11.7 4.2 24.9 5.3 632.3"/>
<circle r="151.5" stroke-dasharray="0 85.8 14.2 9.9 3.7 5 2.2 2.2 17.6 10.6 1.3 3.1 3.8 21.7 13.3 18.8 2.4 7.4 20.2 6.5 7.2 1.3 4.5 9.3 16.5 42.8 9.6 5.3 14.1 32.7 1.3 663.1"/>
<circle r="157.5" stroke-dasharray="0 96.4 1.7 11.1 1.4 8.5 23.8 1.4 1.4 31.7 17.6 9.7 2.5 4.9 9.5 11.9 4.2 16.1 1.4 6.8 15.1 33.4 4.8 21 15.4 10.1 1.4 1.5 7.9 5.7 5.3 1.4 21.1 4.5 4.5 684.5"/>
<circle r="163.5" stroke-dasharray="0 82.8 1.6 5.6 1.4 2.8 1.4 32.6 1.7 35.9 7.2 44.8 4.7 4.2 1.4 13.9 8.8 16.2 17.9 1.5 7.7 17.3 21 4.1 19.9 1.4 6.6 5.7 5.4 2.7 3.6 6.1 4.6 7.4 1.8 2.6 4.7 732.3"/>
<circle r="169.5" stroke-dasharray="0 85.8 4.4 2.3 3 80.5 3.2 1.6 6.3 13.1 5.5 43.6 5.5 6.7 1.8 12.9 10.5 10.4 3.8 4.3 14.4 70.9 6.8 18.4 3 2.5 1.5 14.2 10 736.6"/>
<circle r="175.5" stroke-dasharray="0 111.3 9.3 11.4 12 37.3 1.5 3.8 5 19.2 2.2 9 8.7 5.3 8.8 1.5 4.2 15.6 15.9 11 8.7 16.7 8.3 9.2 3 2.1 17.4 22.9 8.4 21.4 3 3 6.1 9.7 8.3 784.1"/>
<circle r="181.5" stroke-dasharray="0 91.9 1.1 34 6.9 14.3 18.3 40.1 1.6 57.7 1.6 12.7 5.7 61.2 2.2 1.6 26.3 9.7 5 8.8 2.7 1.6 6.7 3.9 5.7 846.1"/>
<circle r="187.5" stroke-dasharray="0 94.9 5.9 3.2 1.6 40.4 7 36.1 2.1 3.2 7.3 19.2 1.7 11.4 7 11.3 3.2 9.7 1.6 1.7 1.6 29.4 2.4 18.4 1.6 35.2 1.6 26.8 6.5 39 18.8 1.6 1.6 4.7 1.6 32.8 1.6 815.1"/>
<circle r="193.5" stroke-dasharray="0 97.9 29.1 17.6 4.3 61.3 2.1 13.6 4.7 13.3 3.1 54.4 41.6 20.3 6 50.9 25.9 1.7 19 1.9 1.7 4.9 4.1 11.2 19.3 840.9"/>
<circle r="199.5" stroke-dasharray="0 186 22.4 7.4 18.5 10.4 10.1 45.8 9.2 7.8 1.7 10.9 7.8 5.5 7.8 1.7 2.6 11.4 6 21.3 2.4 5.7 11.9 5.8 1.7 16.9 3.9 15.5 31.5 902.8"/>
<circle r="205.5" stroke-dasharray="0 104 21.4 2.4 2.2 12.6 1.8 16.6 7.4 4.2 12.7 1.8 6.3 5.8 25.9 2.8 4.5 22.4 3.4 31.5 1.8 1.8 1.8 14.6 6.1 13.8 6 37.7 2.3 2.8 2.7 32.1 15.6 2.1 1.8 81.1 28.2 893.1"/>
<circle r="211.5" stroke-dasharray="0 107 5.5 3.5 11 3.1 8 7.4 6.3 55.3 7.1 67.8 12.2 4.7 2.8 31.4 14.4 2.9 15.9 6.5 8 41.1 24 3.5 1.8 5.7 8.9 62 10.2 938.3"/>
<circle r="217.5" stroke-dasharray="0 131.4 9.6 40.9 57.9 11.9 4.2 2.6 8.7 7.2 3.7 13.4 12.9 21.7 6.1 20 9.8 46.5 11.3 35.8 2.7 36.2 1.9 31.9 1.9 17.8 3.2 3.4 13.4 2.8 2.5 945.2"/>
<circle r="223.5" stroke-dasharray="0 130.9 4.5 39.3 2 4.2 5.1 18.5 10.8 42.5 4.4 20 11.9 3.4 4.7 11.4 9.3 14.7 2 4.4 4 2 15 44.1 13.4 4.8 9 2 2.4 5.7 9.2 17 7.9 3.4 7.1 26.8 20.9 9 6 1006.7"/>
<circle r="229.5" stroke-dasharray="0 132.5 11.7 2 2 56.6 3.8 17.4 9 9.7 2 25.8 4.2 11.2 16.8 55.8 3.5 8.1 15.5 12 23.3 9.4 2 6.7 23.8 17.3 38.2 34.5 11.9 4 5.6 2 4.2 4.9 17.3 997.4"/>
<circle r="235.5" stroke-dasharray="0 119.2 1.3 24.5 5.5 14.5 18.3 24.5 2.5 28.2 12.3 18.3 7.4 50.7 9.8 2.1 19.5 22.2 3.3 30.5 28.6 27.2 6.9 36.1 2.1 2.1 5.5 15 11 22 7.8 9.6 14.1 16.8 1.2 1023.5"/>
<circle r="241.5" stroke-dasharray="0 198.7 15.8 15.1 12.2 7.3 8.8 99.4 2.1 11.7 6.2 26.4 2.3 24.2 2.1 69.7 2.1 21.8 15.1 17 3.4 9.5 24.5 12.9 9.1 1068.5"/>
<circle r="247.5" stroke-dasharray="0 147 11 3.1 2.9 7 2.8 19.3 6.1 9.8 2.2 93 7.5 5.1 12.2 2.2 2.2 62 12.4 9.6 2.2 28 3.1 8.6 3.7 21.5 3.1 2.2 21.2 16.3 2.2 2.2 27.2 15.4 9 49.8 2.2 2.4 2.6 1088"/>
<circle r="253.5" stroke-dasharray="0 138.9 12.6 2.2 7.6 10.4 12.9 11 12.4 50.7 31 37 14.1 72.6 6.5 2.2 18.8 9.9 4.7 65.6 5.9 3.2 27.1 2.2 2.2 26.6 2.2 28.3 2.2 7.6 5.8 21.8 11.7 1101.7"/>
<circle r="259.5" stroke-dasharray="0 152.8 7.5 13.1 32.3 6.3 12.5 27.1 2.3 33.3 4.9 29.7 16.5 9.2 5.9 12 2.3 18.9 15.2 72.7 6.9 18 12 32.6 12.8 71.2 21.7 1161.8"/>
<circle r="265.5" stroke-dasharray="0 134.4 8.4 10.2 32.6 48.8 20.7 8.2 10.5 45 6 20.4 2.6 65.6 10.2 13.8 23.6 7.3 9.1 12.2 27.4 16.1 35.1 40 2.3 20.5 8.1 3.8 25.2 1185.5"/>
<circle r="271.5" stroke-dasharray="0 147.4 22.4 7.5 17.5 15.6 6 96.6 14.8 83.2 18.4 41.8 2.9 32.4 2.4 34.6 14.4 12.1 10.7 77.9 14.2 8.3 34.4 1179.9"/>
<circle r="277.5" stroke-dasharray="0 144.6 22.9 11.6 36.1 8.9 5.5 8.4 19.5 2.8 2.4 40.2 17.2 4 6.9 2.4 23.5 50.8 2.4 37.2 3.6 99.2 2.4 70.5 4.4 19.6 10 38.5 5.5 1236.2"/>
<circle r="283.5" stroke-dasharray="0 272.4 7 53 7 7.4 2.7 31.2 2.5 15.9 9.7 76.4 23.1 2.5 5.7 13.8 19.2 2.7 15.2 8.5 12 11.1 2.5 47.5 23.5 11 6 5.9 5.5 13.2 2.5 1262.5"/>
<circle r="289.5" stroke-dasharray="0 146.5 7 13.5 20.7 9.9 3.2 4.7 16.2 4.4 2.5 2.5 10.3 10.2 18 11.4 24.4 7.1 6.3 37.4 26.7 41.7 15 17 7.3 66.2 5.3 13.4 15.2 19.9 31.2 10.2 23 34.7 2.5 62.1 15.4 1258.1"/>
<circle r="295.5" stroke-dasharray="0 184.4 21.7 5.7 28.9 4.6 9.5 10.9 7.8 8.6 4.9 34.7 6.8 18.7 2.6 4.5 15.7 13.5 11.2 62 2.6 7.7 24.9 30 21.8 4.3 7.5 49.3 46.5 32.1 46.5 10.8 14.7 1307.5"/>
<circle r="301.5" stroke-dasharray="0 152.8 29 15.1 2.6 18.9 12.1 8.5 22.3 9.3 8.9 21.5 2.6 60.2 13.4 8.7 33.6 38.3 12.4 18.1 16 6.7 8.3 2.6 2.6 24.1 10.3 49.2 13.9 35.5 15.2 13.3 17.9 5.1 47.9 25.2 7.9 1314.9"/>
<circle r="307.5" stroke-dasharray="0 155.6 1.6 90.5 12.4 58.8 6.9 85.3 36.6 38.2 2.7 64.1 11.6 16.6 23.7 23.3 24.8 22.4 2.7 74.4 3.5 19.5 3.6 2.7 9.5 14 2.7 1339.1"/>
<circle r="313.5" stroke-dasharray="0 158.7 8.6 25.9 7.1 11.2 33.4 17.9 3.4 30.6 14.5 33.7 4.5 16.8 6.1 2.7 9.3 28.1 9.9 64.1 5.1 32.1 24.3 35.5 2.7 95.9 2.9 2.7 12.8 9.5 5.8 4.5 23.3 2.7 5.5 1436.7"/>
<circle r="319.5" stroke-dasharray="0 161.7 11.4 5 25.7 52.1 17.1 2.8 5.7 4.9 54.9 2.8 21.2 81.3 38.2 7.2 30.3 3.6 8.2 38.2 8.5 7.2 13.7 13.8 27 48.1 2.8 48.2 3.5 6.7 64.6 1414.2"/>
<circle r="325.5" stroke-dasharray="0 189.4 2.8 11.3 21.2 29.6 2.8 4.1 54.6 3.9 31.4 38.2 5.1 9 7.2 3.9 3.1 131 10.2 51.8 23.5 6.7 20.2 47.4 2.8 12.5 7.3 23.1 12.1 17.4 33.5 1455.2"/>
<circle r="331.5" stroke-dasharray="0 202.4 2.9 37.2 13.3 33.8 5.3 30.5 9.2 7.4 8.6 31.7 69.2 59.6 17.9 18.3 17.9 7.8 6.9 49.7 5.9 2.9 2.9 2.9 19.2 2.9 25.8 17 10.8 13.5 20.8 37.8 16 23 4.7 23.5 8.8 1446.3"/>
<circle r="337.5" stroke-dasharray="0 191.1 8.6 60.4 4.3 43.2 19.8 8 3 60.5 36 17.9 3.2 6.9 12.7 7.8 2.9 30.9 33.4 2.9 41.5 2.9 3.5 4.2 9.6 10.6 10.2 7.2 11 36.6 7 6.9 18.9 36.3 21.1 1575.3"/>
<circle r="343.5" stroke-dasharray="0 176.6 9.3 17.1 7.8 17.3 24.2 29.7 35.2 68.5 5.9 8.4 11.6 71.8 3 14 10.6 3.1 31.6 57.6 6.1 46.8 3.7 3.6 15.9 12.2 7.3 50.9 21.9 30.6 31.8 11.6 29.4 1523"/>
<circle r="349.5" stroke-dasharray="0 220.4 42.9 11.6 16.8 71.8 44.1 5.6 10.4 6.1 23.7 45 43.5 16.5 20 3 4 19.1 12.3 21.6 13.2 25.4 17.2 3 25.4 3 3 27.8 3 41.5 7.5 24 36.8 32.3 19.3 1518.9"/>
<circle r="355.5" stroke-dasharray="0 184.1 7.2 14.7 3.1 21.8 7.5 8.7 31.3 35.9 4.3 63.3 25.9 3.1 3.1 3.1 39.8 39.8 12.9 31.3 58.3 22.4 3.1 7.1 4.5 29.2 5.1 31.6 3.1 44.1 3.1 5.7 22.9 3.1 3.1 28.4 31 3.1 3.1 29.2 5.7 1593.9"/>
<circle r="361.5" stroke-dasharray="0 183 35.5 6.1 21.7 58.1 30.1 29.4 3.2 16.6 3.4 39.2 3.2 5.9 19.2 30.6 31.3 45.7 32.9 23.7 8.6 62.1 3.2 3.2 5.2 73.1 7.9 10.9 3.2 45.2 4.7 6.6 20.2 39.2 5.6 1606.4"/>
<circle r="367.5" stroke-dasharray="0 186 21.8 34.7 3.2 3.2 20.7 30.1 3.2 64.4 3.2 5.2 5.6 31.3 19.4 85 5.1 3.2 3.4 6.1 31.3 16.7 9 22.8 38.4 3.6 8 7.5 4.5 77.9 3.2 13.8 35 80.8 19.9 16.1 11.4 1630.9"/>
<circle r="373.5" stroke-dasharray="0 253.9 9.3 21 32.6 65.2 28.8 29.4 3.3 24.1 24.5 20.9 15.5 55.4 5.1 24.4 35 114 39.3 3.3 16.4 38.7 30.2 69 11.1 1637.1"/>
<circle r="379.5" stroke-dasharray="0 239.1 7.6 9.9 7 36.9 4.6 3.3 9.9 14.2 14.4 23.1 82.8 5.1 43 137.4 18.6 23.7 6.8 110.3 11.4 78.2 17 4.2 11.5 14.8 8.9 4.2 10.2 11.7 5 1674.6"/>
<circle r="385.5" stroke-dasharray="0 195.1 45 3.4 16.4 5.9 14 49.8 15.6 40.4 12.9 97.2 10.2 10.8 6.2 78.3 22.2 46.5 19.1 36.4 5.8 77.1 33 34.9 62.3 48 3.4 1701.7"/>
<circle r="391.5" stroke-dasharray="0 207.8 3.4 3.4 53.5 12.5 19 8.6 4.1 54.4 4.9 27.7 10.7 13.5 32.1 139.6 16.4 14.2 3.4 51.9 46 121.3 3.4 46.2 3.4 12.9 26.3 48.8 3.9 32.6 5.8 1701.4"/>
<circle r="397.5" stroke-dasharray="0 201.2 13.4 50.3 12.7 37 48.6 48 10.5 42.8 83.3 23.6 28 26.1 3.5 44.7 3.5 85.8 33 37.8 59.3 3.5 27.8 91.3 6 17.3 3.5 1732.8"/>
<circle r="403.5" stroke-dasharray="0 222.3 23.4 134.9 20.7 76.7 3.5 25.3 20.1 130.1 6.1 73.3 15.1 85.5 8.4 13.3 35.4 32.9 19.2 32.8 31.6 15.5 3.5 1787.1"/>
<circle r="409.5" stroke-dasharray="0 207.3 56 92 14.9 13.6 25.4 58 35.2 30.6 28.9 116.7 22.5 19.5 3.6 10.8 14.7 108 3.6 33.8 35.5 17.1 10.6 52 8.8 3.6 7.4 3.6 45.7 1779.6"/>
<circle r="415.5" stroke-dasharray="0 253.7 3.6 19.8 10.5 3.6 7.5 131.1 11.1 3.6 21.8 14.9 11.7 73 3.8 4 8.6 25.8 13.1 20.3 41.2 54.8 28.9 48.5 8.8 24.9 10.8 18 27.1 14.1 9.9 4.9 4.6 19 40.5 10.4 19.5 26 3.6 3.6 7.6 1832.4"/>
<circle r="421.5" stroke-dasharray="0 231.8 3.7 54.3 11 70.3 30.9 121.2 3.7 75.6 11.8 23 29.4 3.7 7.1 61 3.7 56.2 15.2 3.7 3.7 13.5 20.8 90.8 26.4 3.7 18.5 27.1 11.5 15.2 34.9 1859.3"/>
<circle r="427.5" stroke-dasharray="0 220.4 5 6.5 20.7 14.7 31.7 38.4 3.7 17.1 34.4 51.4 3.7 115 10.9 109.7 17.9 45.4 7.5 6.7 26.7 19.1 11.8 36.3 44.8 5.1 29.1 87.8 3.7 4.7 43.3 1911"/>
<circle r="433.5" stroke-dasharray="0 219.4 42.4 5.6 10.6 5.5 9.3 3.8 32.5 7.9 62.3 8.6 14 15.4 7.9 3.8 3.8 177.6 18.9 6.4 76.8 12.5 18.9 18.3 4.9 20.4 3.8 21.6 3.8 19.9 3.8 60.7 6 3.8 40.8 89.9 12 3.8 12.2 1937"/>
<circle r="439.5" stroke-dasharray="0 348.1 13.2 26.9 16 32.4 19.1 20.3 3.8 19 8.7 60.2 8.9 139.6 3.8 31.7 60.9 42.5 3.8 22 48.9 8.1 6.1 78.6 31.2 12.6 22.9 27.1 41.4 1910.6"/>
<circle r="445.5" stroke-dasharray="0 237.9 21.7 3.9 9.1 8.7 4.3 27.6 39.7 3.9 25.2 6.4 20.3 33.3 11.3 3.9 10.3 77.2 4 49.5 39.1 16.8 3.9 13.9 23.4 31.2 18.5 6.3 8.9 47.5 21.6 17.6 7.1 3.9 4.2 27.2 7.4 8.6 43.9 21.3 5 15.4 48.8 16.1 3.9 19.7 20 22.7 4.7 26.9 8 1949"/>
<circle r="451.5" stroke-dasharray="0 270.6 8.3 44.3 3.9 69.7 8.1 29.4 28.8 48.1 106.5 16.1 12.4 46.3 4.5 55.4 43.7 24.9 4.5 19.1 22.6 14.6 29.9 7 7.3 28.1 20.6 19.7 28.9 32.4 34.5 3.9 13 19.5 10.1 2015.4"/>
<circle r="457.5" stroke-dasharray="0 231.6 2 9.2 88.9 7 4 4 4 10.8 4 29.4 4.8 90.1 15.3 5.8 10.4 95.2 65.2 31.5 42.5 45.1 45.5 155 15.7 6.2 7.6 12.7 27.7 51.3 29.7 16.8 8.4 2016.7"/>
<circle r="463.5" stroke-dasharray="0 234.6 32.4 110.4 4 17.6 12 54.7 39.3 38.3 6.4 93.6 36.5 4 56.5 32 21.7 15.3 12.6 126 29.2 26.6 4.4 99.1 40.4 2088.3"/>
</g>
<g fill="none" stroke="#000" stroke-opacity="0.27" stroke-width="3">
<circle r="34.5" stroke-dasharray="0 30.5 .3 1.8 1.3 6.5 .3 6.9 .5 9 .3 1.5 2.2 2.7 .3 9.8 1 1 .8 6.6 .3 6.4 .3 150.6"/>
<circle r="40.5" stroke-dasharray="0 20.5 2.6 3.7 5.3 4.1 1.1 14.6 1.3 .8 1 7.1 .4 .7 2.3 5.1 .4 4.3 .4 11.3 .8 .8 1.9 .7 .4 .4 1.5 .9 .8 .7 .7 8.2 .9 177.4"/>
<circle r="46.5" stroke-dasharray="0 24.4 2.6 22.7 .4 1.3 1.6 6.9 .4 9.9 3.7 4.5 .6 6.8 3.6 2.5 .5 1.7 1.3 5.1 .4 4 .4 3 5.3 7.2 .4 203.5"/>
<circle r="52.5" stroke-dasharray="0 28.7 3 2.8 .5 8.5 3.7 3.2 2.1 4.2 1.2 8.3 4.2 13 1 16.9 .7 4.4 4.7 7.2 2.2 3.5 3.6 8.7 .5 229.9"/>
<circle r="58.5" stroke-dasharray="0 39.8 .5 3.1 1 8 .8 15.7 .5 4.7 .9 1.4 .5 1.6 2.1 1.6 1.8 2.6 1.7 10.9 .7 27.6 1.7 8.3 .5 5.3 .5 6.5 3.8 254.2"/>
<circle r="64.5" stroke-dasharray="0 37.5 .6 22.7 1 44.4 3.7 19.9 4.8 .8 2.8 4.1 .6 5.4 1.6 .6 1.1 17.3 1.2 280.4"/>
<circle r="70.5" stroke-dasharray="0 36.5 2 .6 11.1 3.3 8.9 32.4 4.6 23.8 1 7.3 .8 33.8 .6 1.8 6.2 317.5"/>
<circle r="76.5" stroke-dasharray="0 49.4 1.2 30.8 .7 7.7 1.8 21.1 1.2 15.2 7.3 7.2 .7 .7 4.2 8.6 1 9.8 .7 3.4 .7 3.9 4.2 3.8 .7 348"/>
<circle r="82.5" stroke-dasharray="0 41.8 2.1 16.7 2.4 21.5 1.3 3.7 3.1 14.1 2.8 2.9 1.1 16.9 1.1 13.3 1.5 20.2 1 9.9 4.1 5.4 .7 14.6 .7 373.2"/>
<circle r="88.5" stroke-dasharray="0 52.6 1.6 15.6 1.1 49.4 .8 24.7 .8 10.9 .8 2.2 2.2 36.3 .9 8 1.6 14.3 1.1 6.7 1.7 384.6"/>
<circle r="94.5" stroke-dasharray="0 47.8 2.6 9.3 .8 6 6 3.1 .8 25.9 .8 31.2 .8 8.1 2.4 2 3.9 9.5 3.9 23.8 .8 28.5 4.5 4.6 2.4 3.8 2 424.1"/>
<circle r="100.5" stroke-dasharray="0 75.8 2.8 31.1 .9 24 .9 14.3 .9 40.7 .9 11.2 1.8 8.6 .9 19.2 10 7.9 6.4 443.5"/>
<circle r="106.5" stroke-dasharray="0 53.9 .9 28.1 3 .9 1.8 .9 .9 8.8 .9 2 2.1 28.3 7.7 46.1 1.7 3.7 9.9 10.2 1.2 32.3 2.4 495.7"/>
<circle r="112.5" stroke-dasharray="0 92.7 2.5 23.4 1.1 5.5 1.1 3.7 10.2 2.5 1 19.7 1 4.7 1 5.2 1 26.5 3.4 7.3 7.2 16.1 1 547.8"/>
<circle r="118.5" stroke-dasharray="0 64.7 2.3 60.3 2 5.7 1 44.8 2 25.7 3.4 80.9 9.1 525.4"/>
<circle r="124.5" stroke-dasharray="0 69.9 1.9 7.5 1.4 16.8 5.6 1.1 1.5 6.2 11.1 12.6 2 60.2 1.7 10.5 1.8 5.9 4.2 7.3 2.5 18.4 5.1 29.3 2.3 582.7"/>
<circle r="130.5" stroke-dasharray="0 106.1 2.3 31.4 1.8 10.4 1.1 29.8 1.2 15.5 4.7 40.6 10.6 24.8 1.1 60.2 1.1 568.2"/>
<circle r="136.5" stroke-dasharray="0 97.5 1.2 1.2 1.3 63.5 1.2 9.4 2.7 5.5 7.8 2.7 1.2 142.5 1.2 6 2 606.2"/>
<circle r="142.5" stroke-dasharray="0 86.1 7.1 1.2 3.1 1.2 7.6 1.2 1.2 13.9 3.9 1.2 4.1 2.7 1.6 1.2 5.2 44.3 5.8 9.7 1.2 81.6 6.8 702.8"/>
<circle r="148.5" stroke-dasharray="0 93.3 3 39.7 2.9 8.3 2.7 1.3 4.6 10.6 1.3 40.8 3.1 9.9 10.6 71.9 2.3 20.5 1.3 11.4 18.2 18.5 15.2 645.4"/>
<circle r="154.5" stroke-dasharray="0 115.6 19.1 38.6 4 12.9 2.1 3.8 2.2 3.5 7.2 20.8 2 51.5 1.5 55.5 5.5 26.7 3.9 27 3.8 671.4"/>
<circle r="160.5" stroke-dasharray="0 124.5 9.6 28.4 1.4 61.3 2.1 11.4 13.6 2.6 4.6 7.2 9.1 6.8 1.4 18.7 2.7 39.1 1.5 9.7 1.6 22.4 1.4 23.1 7.7 708.8"/>
<circle r="166.5" stroke-dasharray="0 88.1 6.6 1.5 4.8 73.9 1.5 11.1 5.3 4.9 1.5 27.9 3.4 5.3 1.5 19.6 9.4 6.5 5.4 22 1.5 15.5 8 3.1 3.7 18.9 1.5 15.5 1.5 15 1.5 24.3 7.6 744.5"/>
<circle r="172.5" stroke-dasharray="0 99.6 6 19.2 6.5 15.4 15.4 18.9 7.7 6 6.3 7.1 2.5 14.4 5.3 25.9 1.5 81.4 1.5 19.5 1.5 3.5 1.5 837.5"/>
<circle r="178.5" stroke-dasharray="0 91.3 1.6 8.4 6 26.7 5.8 7.6 3.2 12.3 16.3 26.2 6 18.5 1.6 3.2 1.6 41.5 1.6 20.4 2.1 4.4 2.3 21 12.4 47.1 2.8 10.8 1.6 13.5 3.8 824.7"/>
<circle r="184.5" stroke-dasharray="0 115.7 1.6 1.6 4.2 1.6 8.9 35.8 3.3 189.9 3.4 93.4 1.6 2.6 2.8 821.7"/>
<circle r="190.5" stroke-dasharray="0 96.4 1.7 11.5 15.5 53 7.9 1.7 1.7 1.7 3.1 1.7 1.7 2 27.2 20.9 1.7 5.4 1.7 3.8 8.5 85.5 9 2.6 5 64 2.7 50.3 1.7 840.7"/>
<circle r="196.5" stroke-dasharray="0 205.4 9.2 11.5 7.2 6.3 5.2 42.6 5 19.8 9.6 18.2 1.7 5.7 1.7 51.8 1.7 969.2"/>
<circle r="202.5" stroke-dasharray="0 102.5 13.5 162.5 1.8 29.2 1.8 5.1 1.8 76.6 1.8 8 1.8 11.8 16.5 8.3 1.8 2.1 6.9 3.9 9.7 946.4"/>
<circle r="208.5" stroke-dasharray="0 119.6 2.2 89.9 41.1 9.9 10.8 1.8 10.2 15.4 25.3 1.8 1.8 18.9 4.1 54.1 1.8 2.2 1.8 3.8 17.1 26.4 1.8 14.2 1.8 21.9 2.3 35.8 1.8 916"/>
<circle r="214.5" stroke-dasharray="0 108.6 3.9 2.7 16.7 4.4 1.9 1.9 11.7 1.9 3.8 33.4 4 195.1 5.5 1.9 3 6.4 13.3 9.7 6.5 21.9 3.4 28.9 1.9 38.8 5.5 960.8"/>
<circle r="220.5" stroke-dasharray="0 111.6 6.2 14.9 22.2 32.7 1.9 28.2 4.8 27.5 3 33.8 4.8 61.3 2.6 23.4 1.9 52.8 1.9 79.7 4.5 32.5 3 983.9"/>
<circle r="226.5" stroke-dasharray="0 126.4 4.4 27 24.3 41.4 2 43 2.4 8 2.9 89.1 9.9 24.2 12.5 28.7 2 48.6 12.6 45 2.2 25.6 2 11.2 1.6 984.3"/>
<circle r="232.5" stroke-dasharray="0 150.6 4.1 11.8 4.4 31.5 3.1 10.3 5.7 42.6 2 5.6 9.1 171.2 8.5 70 8.4 20 5.6 25 23.1 1010.4"/>
<circle r="238.5" stroke-dasharray="0 152.1 19 88 9.5 42.8 9.3 15.2 2.1 37 2.1 25.3 9.7 160 2.1 1090.7"/>
<circle r="244.5" stroke-dasharray="0 157.7 3.3 95.5 2.1 74.2 29.5 78.9 2.1 21 2.1 18.1 3.5 7.4 4.2 76.6 7.4 15.3 2.1 5.1 11.5 12.8 5.6 1071.1"/>
<circle r="250.5" stroke-dasharray="0 152.2 5 10.3 8 139.6 2.2 3.3 2.3 18.1 14 2.2 2.2 33.3 4.4 10.5 8.1 22 24.1 10.7 5.2 6 2.2 134.9 15.2 1112.8"/>
<circle r="256.5" stroke-dasharray="0 157.4 2.2 19.4 11.5 71.8 2.2 37.1 2.2 44.2 6.9 8.9 13.2 42.3 24.4 14 2.2 67.3 9.9 11.7 4.2 8.6 4.5 1224.3"/>
<circle r="262.5" stroke-dasharray="0 327.4 5.3 36.8 5.2 55.7 17.7 114 6.1 28.3 14.1 51.5 29.8 1140.8"/>
<circle r="268.5" stroke-dasharray="0 268.6 10.7 19.4 14.2 4.2 10 37.7 31.8 16.4 3.2 20.4 4.3 29.1 2.3 27.7 2.3 46.1 13.5 18.4 4.5 1289.6"/>
<circle r="274.5" stroke-dasharray="0 269.4 4.9 46.2 16.5 21.2 4.3 51.8 9.6 57.8 4 15.7 11.2 61.1 5.6 14.2 2.4 34.9 18.3 1267.1"/>
<circle r="280.5" stroke-dasharray="0 237.8 2.9 37.6 3.5 10.5 5.3 12.4 23.1 186.8 2.4 8.9 2.4 122.4 3.1 1299"/>
<circle r="286.5" stroke-dasharray="0 145.4 2.5 56 3 13.2 5.6 78.8 4.7 40 11.4 4.9 5.7 2.5 2.5 6.6 2.5 127.2 2.5 33.2 2.5 2.5 20.9 35 15.6 49.6 6.8 1319.2"/>
<circle r="292.5" stroke-dasharray="0 170.2 10.8 2.6 2.6 57.4 11.1 55.6 13.3 82.8 2.6 18.5 2.6 6.7 10.5 25 17.4 2.6 4.9 190.1 3.7 58.7 16.6 1275.9"/>
<circle r="298.5" stroke-dasharray="0 175.8 4.6 151.9 2.6 62 3.6 51.2 11.8 114.6 13.6 36.3 7.2 60.6 11.7 1376.3"/>
<circle r="304.5" stroke-dasharray="0 154.1 26 54.4 2.7 19.1 2.7 19.9 2.7 68.9 2.7 32.2 2.7 26.7 2.7 41.2 2.7 13 3.7 153.5 39.8 9.2 11.4 3.1 3.2 80.5 11.1 1336.3"/>
<circle r="310.5" stroke-dasharray="0 190.3 8.9 25.3 2.7 16.3 14.2 5.1 7.9 79.3 12 25.2 10.1 12.9 2.8 55.2 2.7 38.9 10 2.7 2.7 90.6 13.8 186.8 2.1 1349.4"/>
<circle r="316.5" stroke-dasharray="0 160.2 8.5 5.7 2.8 84.4 15.6 5.9 5.2 9.1 3.7 33.8 2.9 23 5.4 69.8 2.8 10.1 5.5 19.2 2.8 9.2 15 90.1 2.8 58.6 5.1 3.7 2.8 1545.9"/>
<circle r="322.5" stroke-dasharray="0 218.4 11.1 4.5 4.3 6.6 11.5 88.5 2.8 49.5 2.8 25.8 2.8 22.4 2.8 2.8 4.5 98.9 8.9 61 5.6 10.5 2.8 5.8 8.4 9.9 9.9 2.8 11.7 16 2.8 34.4 2.8 86.8 9.6 1401.5"/>
<circle r="328.5" stroke-dasharray="0 197.4 9.2 94.9 13.5 175.3 2.9 4.2 2.9 170.8 4.3 39.1 5.5 36.1 10.2 56.1 2.9 38.4 2.3 1427.6"/>
<circle r="334.5" stroke-dasharray="0 183.2 2.9 53.8 2.9 16.5 2.9 96.4 5.2 28 18.8 81.5 2.9 58.4 3 26.3 2.9 41.7 9.6 17.3 4.2 16.6 10.7 150.6 18.1 1480.7"/>
<circle r="340.5" stroke-dasharray="0 279.6 36.2 75.2 3 3.8 9.7 4.8 18.2 11.8 3.1 6.9 14.3 11.7 3 26.4 3 4.3 23.6 31.5 3 11.4 12.7 3 6.8 34.1 7.4 25.8 23.5 3.3 13.5 9.7 3 6.4 3 39.1 3 11.3 3 98.6 5.9 1479.8"/>
<circle r="346.5" stroke-dasharray="0 297.2 8.3 16.4 5 44 3 21.2 3 77.3 3 10.2 3.2 57.9 11.6 27.7 4.6 3 6.2 60.6 7.8 60.8 7.7 105 19.4 41.8 7.3 1505.8"/>
<circle r="352.5" stroke-dasharray="0 203.2 12.6 4.9 3.4 3.2 5.5 16.1 8.7 70.1 5.4 41.7 35.7 69 3.1 92.4 6.1 133.4 3.1 39.8 36.7 96.4 17.9 1552.6"/>
<circle r="358.5" stroke-dasharray="0 219.5 6.8 5.2 3.1 167.5 3.1 15.8 16.4 209 3.1 222.6 9.5 37.5 6.8 1576.8"/>
<circle r="364.5" stroke-dasharray="0 184.5 8.4 32.4 4.6 13.3 3.2 56.4 25.4 12.2 14.1 127.9 8.1 135.4 23.4 65 15.2 38.2 3.2 35.3 6.3 17.4 3.2 34.8 33.4 1643.5"/>
<circle r="370.5" stroke-dasharray="0 256.8 21.1 7.2 6.8 16 13.9 3.2 5.8 79.3 11 55.8 96.5 12.7 8.2 13.4 3.4 65.9 9.2 35.9 3.2 41.4 8.4 67.5 10.1 20.9 9 71.1 3.7 1629"/>
<circle r="376.5" stroke-dasharray="0 553.5 3.3 34.4 3.3 84.2 9.2 84.3 13.4 3.3 20.1 1819.4"/>
<circle r="382.5" stroke-dasharray="0 193.6 10.8 51.9 24.9 63.7 43.1 51.4 3.3 3.3 3.3 19.2 3.8 164.2 3.3 21.7 9 42.7 6.3 3.3 3.3 23.2 21 67.5 16.3 11.4 37 1767.6"/>
<circle r="388.5" stroke-dasharray="0 206.5 28.3 68.8 22 149.6 12 59.2 3.4 98.5 18.1 40.4 3.4 22.7 9.7 71.8 21 3.4 11.6 21.7 3.7 92.3 5.9 41.4 8.3 1688.4"/>
<circle r="394.5" stroke-dasharray="0 256.5 6.9 26.3 11.6 130.1 4.1 35.5 9.2 201.6 10.6 15 6 21.1 5.5 56 5.7 24.3 3.4 16.7 7.7 8.7 3.4 137.2 3.4 1747.6"/>
<circle r="400.5" stroke-dasharray="0 202.7 7.7 21.9 8.1 124.2 10 33.8 12.9 136.6 8 41.6 9.5 11.2 17 62.4 3.5 11.8 18.3 192 5.7 3.5 39.3 3.5 41.1 1770.1"/>
<circle r="406.5" stroke-dasharray="0 254.9 23.8 305.5 3.5 90.6 3.5 168.8 39.5 43.8 7.7 32.2 9.2 26.1 4.3 10.6 15.3 3.5 3.5 5.1 10 5.6 3.5 1767.2"/>
<circle r="412.5" stroke-dasharray="0 274.1 23.3 57.1 11.3 11.9 3.6 124 7.5 83.5 17.1 23.8 15.5 13.1 39.8 106.5 3.6 10.6 11.7 29.6 18.5 80.9 32 17 3.6 1860.3"/>
<circle r="418.5" stroke-dasharray="0 211.8 1.9 37.1 3.8 57.6 12.5 46 5.2 150.8 11.1 104.3 14.8 4.3 22.1 21 8.8 77.1 57.7 100.8 10.8 16 3.9 68.1 11.3 1862.9"/>
<circle r="424.5" stroke-dasharray="0 342.6 19.4 36.3 11 78.8 15.3 64.8 3.7 62.7 4 12.6 18.8 33.3 32.6 159.3 14.6 12.1 3.7 3.7 43.2 76.5 4.6 1909.9"/>
<circle r="430.5" stroke-dasharray="0 262.5 3.8 4.6 3.8 49.3 3.8 65.7 17.3 18.2 7.1 139.4 3.8 39.8 18 3.8 7.5 4.9 9.9 3.8 7.3 3.8 10.8 112.1 3.8 24.7 8.3 39.8 3.8 9.5 5.5 2109.1"/>
<circle r="436.5" stroke-dasharray="0 264.8 17.4 204.2 3.8 15.8 3.8 6.2 13.9 50.7 40.1 12 4.8 13.7 6.6 6.3 5.6 47.7 3.8 36.7 3.8 6.9 4.8 23 26.5 61.2 33.4 19.4 3.8 51.9 10.1 25.8 3.8 3.8 13.1 1998.2"/>
<circle r="442.5" stroke-dasharray="0 224 36.6 217.5 22.3 20.5 3.9 37.1 3.9 198.2 9.3 41.4 7.6 3.9 20.4 98.8 3.9 25.7 24 2090.3"/>
<circle r="448.5" stroke-dasharray="0 439.9 6.4 44.8 3.9 162.3 6.7 164.7 22.5 30.2 10.2 65.5 3.9 47.5 4.5 129.9 4.8 15.2 19.1 1949.1"/>
<circle r="454.5" stroke-dasharray="0 400.3 17.9 31.5 24.9 190.4 4 5.5 37.9 116.4 39.9 17.8 20.5 123 9.5 97 4 19.4 10.8 2002.5"/>
<circle r="460.5" stroke-dasharray="0 267.2 22.3 142.4 4 43.1 4 13.7 4 92.2 4 105.3 4 136.8 11.4 186.4 49.7 2124.2"/>
<circle r="466.5" stroke-dasharray="0 352.9 5.4 64.2 7.4 4.1 14.3 14.3 17.6 7.9 18.3 4.1 4.1 13.2 16 56.8 4.1 124.2 4.1 35.3 13 39.5 11.6 83.2 26.8 12 7.5 46.5 33.7 38.7 4.1 16.4 4.1 2151.7"/>
</g>
<g fill="none" stroke="#000" stroke-opacity="0.5" stroke-width="2.8">
<circle r="36" stroke-dasharray="0 18.2 .5 3.2 1 .3 1 21.6 1 204.4"/>
<circle r="45" stroke-dasharray="0 23.2 .4 6.1 1.3 48.9 1.1 6 1.3 16.9 .4 208.7"/>
<circle r="54" stroke-dasharray="0 38.4 .7 75.3 .9 14.7 1.5 245.6"/>
<circle r="63" stroke-dasharray="0 97.6 1.2 41.9 .5 22.5 1.8 274.3"/>
<circle r="72" stroke-dasharray="0 104.5 .9 19.3 .8 7.4 2 16.5 .6 14.1 2 14.4 2 318.1"/>
<circle r="81" stroke-dasharray="0 107.5 .8 5.2 .9 20 2.3 428.9"/>
<circle r="90" stroke-dasharray="0 138.1 2.5 8.1 1 30.9 2.5 2.1 .8 442.3"/>
<circle r="99" stroke-dasharray="0 74.4 1.8 15.3 .9 .9 .9 54.2 .9 22.1 1.5 63.3 1.4 19.4 2.7 431.6"/>
<circle r="108" stroke-dasharray="0 66.2 .9 27.8 1.2 8.8 .9 648.1"/>
<circle r="117" stroke-dasharray="0 84.8 2.2 25.5 1 11.6 3.3 80 1 607.5"/>
<circle r="126" stroke-dasharray="0 82.5 2.6 52.4 1.3 156.5 1.1 583.2"/>
<circle r="135" stroke-dasharray="0 87.9 3.8 75.4 1.8 56.4 3 32.5 1.2 57.6 1.6 8.7 1.6 611.1"/>
<circle r="162" stroke-dasharray="0 134.9 1.4 88.1 1.4 95.8 4 805.2"/>
<circle r="171" stroke-dasharray="0 128.4 2.3 62.3 1.8 57.4 1.7 81.2 1.5 49.2 4.8 803.2"/>
<circle r="189" stroke-dasharray="0 109.8 1.9 153.9 1.6 162.2 1.6 888.5"/>
<circle r="198" stroke-dasharray="0 150 2 1230.3"/>
<circle r="207" stroke-dasharray="0 156.5 3.5 128.8 3.7 42.3 5.8 64.8 1.8 1037.8"/>
<circle r="216" stroke-dasharray="0 233.2 1.9 96.8 6 18.6 3.7 31.1 1.9 1114.8"/>
<circle r="225" stroke-dasharray="0 213.6 5.9 142.2 2.2 116.4 2 1088.5"/>
<circle r="234" stroke-dasharray="0 146.4 4 12.4 2 31.3 4.1 31.7 3.9 9.3 4.3 148.4 2 33.4 2 83.4 2 32.7 6 1074.1"/>
<circle r="243" stroke-dasharray="0 438.4 3.1 96.4 5.6 1152.9"/>
<circle r="252" stroke-dasharray="0 162.4 2.9 117.7 3.5 50.2 2.2 140.8 7 63.3 2.2 1207"/>
<circle r="261" stroke-dasharray="0 440.4 2.4 17.9 4 6.2 2.3 126.3 6.7 60.8 2.3 1153"/>
<circle r="270" stroke-dasharray="0 186.2 7.5 303.7 7.5 7 2.9 22.2 3.7 1344.2"/>
<circle r="279" stroke-dasharray="0 145.7 2.4 40 5.6 1754.1"/>
<circle r="288" stroke-dasharray="0 171.2 3.1 19.4 7.3 30.6 8 293.8 2.5 1474.8"/>
<circle r="297" stroke-dasharray="0 515.9 2.6 91.3 6.5 78.7 4.7 1373.8"/>
<circle r="306" stroke-dasharray="0 222.9 6.3 154.9 2.7 394.2 8.5 1346.6"/>
<circle r="315" stroke-dasharray="0 273.1 2.8 23.6 3.3 196.2 2.7 171.3 5.3 1520.8"/>
<circle r="324" stroke-dasharray="0 372.3 3.1 1886.5"/>
<circle r="333" stroke-dasharray="0 219.3 4.5 368.6 5.9 1726.4"/>
<circle r="342" stroke-dasharray="0 585.3 3 23.4 3 1772.9"/>
<circle r="351" stroke-dasharray="0 177.7 4 214.4 3.1 237.6 3.1 1810.7"/>
<circle r="360" stroke-dasharray="0 612.3 10.1 123.2 3.1 137.1 7 1620.5"/>
<circle r="369" stroke-dasharray="0 408.8 3.2 131.4 3.2 70.3 3.2 349.4 2.9 1603.6"/>
<circle r="378" stroke-dasharray="0 318.5 4.1 110 4.5 73.3 10.6 49.1 3.3 212.7 10.6 102.4 6 58 3.3 1672.7"/>
<circle r="387" stroke-dasharray="0 581.7 9.9 72.1 3.4 283.6 8.3 1742.9"/>
<circle r="396" stroke-dasharray="0 498.8 11.1 302.7 11.1 17.7 11.1 1912.3"/>
<circle r="405" stroke-dasharray="0 639.5 11.3 200.5 11.3 5 3.5 62.5 11.3 1882.4"/>
<circle r="414" stroke-dasharray="0 346.4 11.6 329 4.6 2198.7"/>
<circle r="423" stroke-dasharray="0 214.1 2 668.4 3.7 2065"/>
<circle r="432" stroke-dasharray="0 478.9 3.8 478.8 3.8 2050.7"/>
<circle r="441" stroke-dasharray="0 370.3 3.8 240.5 12.3 88.9 3.8 2359.1"/>
<circle r="450" stroke-dasharray="0 402.9 3.9 752.4 7.5 1974.9"/>
<circle r="459" stroke-dasharray="0 390.5 4 62.5 4 70.6 4 78.7 5.5 467.8 10.8 108 3.2 1994.8"/>
</g>
<g fill="none" stroke="#000" stroke-opacity="0.42" stroke-width="3">
<circle r="22" stroke-dasharray="0 15.7 2.5 7.5 1.2 3.6 4.5 4.8 4.3 109.5"/>
<circle r="26.6" stroke-dasharray="0 18.2 .9 13.8 7.9 22.1 .9 4.3 .2 117.3"/>
<circle r="31.2" stroke-dasharray="0 18.1 2.9 21.3 3.5 4.4 .5 7.9 9.8 1.9 4.4 143"/>
<circle r="35.8" stroke-dasharray="0 18.1 1.1 7 2 8 .4 14.9 3.4 9.3 1.6 20.4 6.7 157"/>
<circle r="40.4" stroke-dasharray="0 20.4 3.3 9.6 .9 29.5 3.8 19.2 6.5 188.8"/>
<circle r="45" stroke-dasharray="0 22.8 7.3 8 6.5 2.4 2.1 3.9 1.9 14.8 .6 5 7.2 4.4 .5 226.8"/>
<circle r="49.6" stroke-dasharray="0 25.1 3 1.9 .7 16.4 4.1 6.8 2.8 10 2.4 1.3 5.6 18 2.1 6.3 3.6 7.8 2.1 226.4"/>
<circle r="54.2" stroke-dasharray="0 44.5 12.1 16 1.4 .7 6.7 32.5 5.5 16.3 7.1 235.5"/>
<circle r="58.8" stroke-dasharray="0 48.4 4.6 19.4 .5 4.4 3.4 .8 1.5 11.3 10.6 15.5 1.9 6.4 2.8 16.5 6.8 255.5"/>
<circle r="63.4" stroke-dasharray="0 32.1 2.3 7 .6 22.7 6.9 3.7 6.8 18.3 2.9 1.1 4.7 25.4 8.4 299.8"/>
<circle r="68" stroke-dasharray="0 40.3 2.9 29 5.7 23.9 4.3 7.4 .6 12.7 10.5 2.6 21.5 .6 1.9 310.6"/>
<circle r="72.6" stroke-dasharray="0 45.5 .6 1.7 4.8 7.2 .6 6.7 9.9 8.8 1.2 1.8 2.7 3.4 1.2 .8 3.6 19.3 2.7 11.6 1.3 371.4"/>
<circle r="77.2" stroke-dasharray="0 39.1 7 10.3 .9 2.2 17.2 61.2 1 6.5 6.8 24.7 .7 9.6 1.1 1.1 4.5 8.1 .9 336.1"/>
<circle r="81.8" stroke-dasharray="0 41.4 6.9 4.9 10.3 14.2 3 27.5 1.8 .7 4.1 .8 10.1 44.4 1.9 1.2 12.1 3.7 13.1 7.9 5.7 355.5"/>
<circle r="86.4" stroke-dasharray="0 43.7 9.7 2.9 1 2.5 .8 20.5 .9 10.9 .8 20.4 5.9 34.9 .8 13.5 5 5.1 4.5 4.8 3.4 23.4 6.7 4.9 1 375.5"/>
<circle r="91" stroke-dasharray="0 46.1 2.9 1.5 2.4 13.6 7.2 8.2 1 4.1 .8 1.9 1.4 5.9 11.1 17.2 9.8 8.3 .8 10.3 4.6 62.6 1 412.3"/>
<circle r="95.6" stroke-dasharray="0 48.4 2.2 .8 5.8 17.2 6.8 22.8 .8 25.5 4.7 36.1 8.9 8 7.5 2.7 13.4 13.7 6.4 9.6 3.3 3.4 3.8 415.5"/>
<circle r="100.2" stroke-dasharray="0 50.7 4.4 6.7 4.4 9.6 1.7 5.3 3.4 2.5 .9 4.6 4.8 2.5 5.6 4.8 11.2 1.4 7.3 21.2 6.8 12.1 1.4 38.4 1 14.8 2 .9 2.1 4.7 6 2.8 6.7 .9 .9 445"/>
<circle r="104.8" stroke-dasharray="0 73.7 4.3 .9 .9 6 2.9 10.2 7 11.6 12.3 6.4 1.6 13.2 8.9 6.9 .9 5.8 .9 27.7 1.5 7.4 3.7 .9 .9 8.9 1.1 .9 5.2 16.2 3.7 1.7 6.5 470.9"/>
<circle r="109.4" stroke-dasharray="0 90.1 2.3 9.5 8.4 6.1 1.3 1 1 11.6 8.3 54.7 1.2 13.5 1.5 10 1 32.4 5.8 17.3 3.9 5.9 1.5 475.4"/>
<circle r="114" stroke-dasharray="0 69.8 1.5 1 1.4 6.7 1 1.8 4.8 7.6 2.7 15.4 1 8.9 16.4 4 4.6 2.4 1.8 7.3 1 3.3 1.5 7.8 1.9 8.3 1.1 9.6 5.6 7.8 1.7 21.1 3.8 8.4 1.4 38.3 1 512.2"/>
<circle r="118.6" stroke-dasharray="0 60.8 2.5 11.6 1 5.8 1.7 10 4.9 36.7 1.3 1 1 30.2 3.1 13.4 22.1 19.3 3.4 18.3 1 21 1 26.1 7.3 523.3"/>
<circle r="123.2" stroke-dasharray="0 62.4 .6 2.9 1.8 2 1.1 19.2 5.9 11 3.7 20.7 3.5 12.3 1.1 1.1 4.5 9.5 1.3 20.2 2.4 10.6 12.2 7.2 8.5 8.4 4.2 16.7 2.7 9.3 7.6 17.6 3.6 15.2 1.2 9.9 2.7 535.4"/>
<circle r="127.8" stroke-dasharray="0 68 11.6 28 1.2 1.1 1.6 21.6 6.9 11.9 10.7 17.9 1.1 2.3 6.8 17.7 7.8 10.9 9.5 1.1 1.8 1.1 15.6 24.7 4.1 9.7 2.8 10.7 1.3 1.4 7.2 574"/>
<circle r="132.4" stroke-dasharray="0 79.6 1.6 13.7 1.2 31 4.2 5.8 2.7 14.2 3.1 1.7 1.2 1.3 3.8 89.3 1.2 24 5.6 3.6 2.4 1.2 6.5 7.7 6.9 6.7 2.2 9.6 6 586.2"/>
<circle r="137" stroke-dasharray="0 69.3 2.8 1.2 6.4 9.4 1.7 7.4 2 15.6 5.1 31.4 2.5 12.4 1.2 14.6 1.2 22.9 9.7 7.2 1.2 2.4 3.6 1.2 1.4 1.2 1.2 1.3 10.2 17.8 2.4 14.6 1.2 15.5 1.2 14.8 1.8 23.9 1.2 1.2 8.1 605.1"/>
<circle r="141.6" stroke-dasharray="0 71.7 .9 8.6 2 21.8 1.2 6 3.9 8.5 2.1 11.5 1.2 8.6 1.2 3.8 1.2 4.1 1.2 64.1 10.9 1.2 1.2 31.9 11.6 32.8 18.9 9 19.1 627.9"/>
<circle r="146.2" stroke-dasharray="0 109 3.8 4.9 5.9 5.1 3.6 4.5 2.2 9 1.3 13.9 7.2 1.3 1.3 11.9 1.6 1.3 1.3 2.8 12 18.2 1.3 7.6 7.9 6 1.3 3.3 1.9 20.9 15.9 47.3 8.1 1.3 4.1 13 1.3 1.3 2.5 4.5 8 641.1"/>
<circle r="150.8" stroke-dasharray="0 79.6 3.2 13.9 11.7 8.5 1.3 30.3 6.9 24.2 2.9 1.3 5.5 1.3 2.4 2.8 5 7.2 10.1 28.9 1.4 3.8 4.9 27.2 10.7 8.7 1.3 3 5.7 4.8 6.8 41.4 4.5 9.4 11.9 660.4"/>
<circle r="155.4" stroke-dasharray="0 90 1.4 6.9 1.8 18.7 4.4 25.4 3.5 8.7 1.4 4.2 2 9.2 2.4 2.5 1.4 22.9 3.7 2.7 1.4 4.8 1.4 13.8 2.7 6.8 5.9 12.8 4.2 24 4.4 1.4 7.7 41.8 6.6 1.4 7.5 14.6 2.1 14.4 2.8 689.4"/>
<circle r="160" stroke-dasharray="0 81.4 1.4 10.4 2.6 11.7 5.7 14 1.4 3.9 1.4 27.4 1.4 1.4 13.5 12.5 4.9 91.3 1.4 9.8 1.7 21.1 1.4 1.9 4.6 34.8 5.5 4.2 2.2 5.1 2.5 6.7 5.1 22.4 2 698.5"/>
<circle r="164.6" stroke-dasharray="0 83.3 4.2 2.1 1.5 19 2.4 7.1 3 2.1 2.4 4.8 1.4 10.7 4.4 1.4 1.4 2 1.4 3.3 3.6 6 1.4 9.8 5.5 15.7 6.7 12 2.3 11.8 1.4 23.1 1.4 17.3 1.4 20.1 6.5 40 4.5 7 1.8 4 9.7 5.6 2.5 7.1 1.4 12.7 10 11.4 2.2 1.4 5.2 718.5"/>
<circle r="169.2" stroke-dasharray="0 136.6 1.5 26.8 1.5 1.9 2.8 1.5 1.5 20.8 7.4 3.1 2.1 8.5 1.5 1.7 1.5 16.5 1.5 1.5 2.2 14.3 4.5 5.7 2.2 3.8 5.2 13 1.5 2.2 1.5 11.9 1.5 6.2 2.9 4.3 1.5 5.7 1.5 8.5 1.5 8.5 1.5 4.2 1.6 6.2 3.8 29.4 3.2 9.1 4.4 1.9 2.7 16.2 2.3 5.1 3.3 736.2"/>
<circle r="173.8" stroke-dasharray="0 126.7 2.3 7.4 2.7 1.5 1.5 9 1.5 14.9 15.4 10.3 7.9 17.4 3 1.5 2.5 20.7 2 32.1 3.8 3.8 1.6 4.4 5.8 8.8 1.5 10.5 9 3.5 1.5 3.8 6.2 15.2 1.5 7.6 2.3 11.4 1.5 16.3 1.5 5.4 1.5 3.5 5 9 1.5 22.7 4 758.7"/>
<circle r="178.4" stroke-dasharray="0 106.3 1.6 2.8 1.8 3.5 1.6 6.4 3.4 5.4 4.7 6.4 1.6 36.2 4.9 4.5 1.6 18.6 4.8 4.4 1.6 35.7 11.7 14.3 4.6 12.5 6.3 44.9 2.6 24.1 1.6 12.2 4.1 1.6 1.6 34.4 4.6 22.6 2.7 2.1 2.8 776.8"/>
<circle r="183" stroke-dasharray="0 109.7 2.8 4.5 3.2 11.4 2.6 16.4 3.4 36.6 2.7 5.1 1.7 36 10.3 24 3.6 57.1 1.8 10.9 1.9 1.6 10.1 12.7 1.6 2.1 2 15.4 3 4.4 2.9 5 7.1 12.8 2 13.8 1.6 11.5 1.6 4.1 2.5 16.6 1.6 795.8"/>
<circle r="187.6" stroke-dasharray="0 115.1 1.6 8.7 1.6 11.7 2 42.6 1.6 1.6 1.7 1.6 1.6 48 1.6 20.1 7 2.8 1.6 4.4 3.4 12.1 1.6 10.7 1.6 8.7 1.6 19.4 5 16.7 1.7 55.7 2.8 9 13 6.2 1.6 21.1 3.8 836.7"/>
<circle r="192.2" stroke-dasharray="0 108.6 2.7 1.7 2.1 8.3 6.1 1.7 13.3 17.5 2.5 1.8 3.3 2.9 1.7 4 3 9.2 1.7 5.4 1.7 2.8 1.7 9.5 10.1 1.8 1.7 6 1.7 1.7 3.4 15.9 1.7 11 1.7 7.1 2.2 4 2 2.8 7.6 13.6 3.4 15.3 1.7 7.7 1.7 5.5 17.3 5.3 4.9 3.1 8.4 15.7 2.6 7.5 4.1 23.2 6.7 7.1 2.1 12.6 2.4 5.5 2.8 11.8 1.7 15.4 2.4 835.3"/>
<circle r="196.8" stroke-dasharray="0 114.3 1.7 16.8 9.2 3 11.5 1.7 12.8 1.7 2.6 8.9 12.6 13.7 10.1 1.7 3.6 10.6 1.7 7.3 1.7 7 5.9 15.2 4.7 1.9 1.8 22.8 1.7 2.9 1.7 15.2 2.7 3.9 1.7 1.9 1.7 5.3 2.6 29.1 3.2 4.7 8.7 5.2 1.7 1.7 1.7 5.5 1.7 1.7 1.7 13.3 10.5 4.3 3.8 11.7 1.7 33 1.7 1.7 1.9 13.1 5.9 856.5"/>
<circle r="201.4" stroke-dasharray="0 126.8 5.6 8.8 9.4 10.9 3.7 5.4 1.8 6.6 7.9 29.6 1.8 8.5 1.8 40.6 1.8 9.9 10.7 11.5 12.9 1.8 13.5 71.9 1.8 13.1 16.2 31.2 1.8 35.8 3.7 4.8 1.8 893.2"/>
<circle r="206" stroke-dasharray="0 122.4 1.8 19.7 3.8 33.5 2.7 6 1.8 6.1 4.8 39.8 19.6 3 15.5 1.8 6.7 2.8 3.1 17.2 9.1 11.1 1.8 1.8 2.5 14.5 8.1 23 1.8 2.4 3.9 15.6 1.8 11.6 1.8 2.9 2.6 8.4 1.8 4.6 12.5 13.4 2.7 9.1 3.4 3.9 1.8 21.7 11.4 915.1"/>
<circle r="210.6" stroke-dasharray="0 115.8 8.7 8 1.8 1.8 4.4 14.2 5.5 6.5 1.8 31.6 2.6 2.8 1.8 2.6 2.6 9.5 1.8 20.8 1.8 5.3 1.8 43.8 1.8 15.5 3.2 2.7 3.1 6.9 10.2 22.7 1.8 4.4 2.3 11.1 9.7 1.8 10.4 9.5 2.3 1.8 2.3 25.2 4.1 21.3 2 15.4 1.8 33.1 1.8 7.1 3.4 3.3 1.8 928.2"/>
<circle r="215.2" stroke-dasharray="0 108.9 2.4 5.6 5 10.5 2 4.8 7.8 1.9 1.9 1.9 25.8 1.9 1.9 1.9 1.9 13.1 1.9 5.5 1.9 12.8 1.9 12.8 1.9 15.2 6.2 6.7 3.6 6.4 7.5 3.4 2.2 17.7 1.9 1.9 6.4 1.9 4 17.9 3.8 20 3.4 1.9 1.9 44.6 5.4 4 3.3 6 3.7 9.2 3.5 11.5 4.1 15.6 5.4 49.8 6 6.1 17.6 935.2"/>
<circle r="219.8" stroke-dasharray="0 112.5 2.2 28.7 1.9 18.6 1.9 6.6 1.9 129.7 1.9 1.9 2.1 46.8 1.9 6.5 2.6 4 1.9 4.1 5.2 4.5 1.9 11.2 1.9 33 1.9 22.4 1.9 2.8 2.4 4.5 3.9 1.9 4.9 5.6 1.9 59.3 2.8 2.2 7.3 12.6 1.9 958.7"/>
<circle r="224.4" stroke-dasharray="0 113.7 9.9 2 2 13.1 2.2 9.6 2.5 2.1 2 2.5 3 11.3 2 2 2.9 7.3 6.1 18.3 2 9.1 2.2 10.9 2.5 4 5.3 16.3 3.5 16.3 2 2 2 13.3 3.4 22.5 5.3 24.4 7.5 2 9.8 2 7.9 2 2 50.4 5.1 8.8 5.2 40.9 5.3 9.1 4.1 19.9 2 8.3 4.3 3.9 2 6.2 4.5 992.4"/>
<circle r="229" stroke-dasharray="0 115.9 2.5 2 3.7 7 2.3 8.5 3.8 19.8 2.6 15.4 2 8.5 3.2 30 7.2 11.8 2 88.8 2 2.8 3.2 4.2 2.3 7.1 2 2 2 3.3 2 16.6 6.3 15 2 2 2.8 16 6.1 10 5.8 6.6 3.3 7.2 2.3 11.7 4.3 7.6 2 2.3 2 5.6 3 2 2 11.1 3.5 7.5 5.2 20.5 2.9 21.4 2 1010.2"/>
</g>
</g>
<g transform="translate(1023.5 48) scale(0.7234 1)" filter="url(#nb2)">
<g fill="none" stroke="#000" stroke-opacity="0.11" stroke-width="2.6">
<circle r="469.2" stroke-dasharray="0 237.5 4.5 4.1 33 24.8 27.8 6.3 7.9 26.5 9.2 2894"/>
<circle r="474.2" stroke-dasharray="0 240 39 24.9 26.8 60.3 16.6 2903"/>
<circle r="479.2" stroke-dasharray="0 278.3 132.9 2934.3"/>
<circle r="484.2" stroke-dasharray="0 296.4 14.4 4.2 24.4 58.8 21.8 2960.3"/>
<circle r="489.2" stroke-dasharray="0 258 65 10.2 4.7 4.9 4.3 15.1 32.7 3020.4"/>
<circle r="494.2" stroke-dasharray="0 250.1 56.9 37.8 11.6 5.4 59.4 3028.9"/>
<circle r="499.2" stroke-dasharray="0 252.7 10.2 120.3 35.2 3066.7"/>
<circle r="504.2" stroke-dasharray="0 284.5 46 3189.4"/>
<circle r="509.2" stroke-dasharray="0 421.4 20.3 3113.2"/>
<circle r="514.2" stroke-dasharray="0 260.3 4.7 10.8 109.5 3204.5"/>
<circle r="519.2" stroke-dasharray="0 262.8 21.3 9.3 32 83.5 11.9 27.3 2.3 3174.3"/>
<circle r="524.2" stroke-dasharray="0 366.4 47.9 26.8 13.6 3204.9"/>
<circle r="529.2" stroke-dasharray="0 287.1 61.4 41.4 33.2 3271.4"/>
<circle r="534.2" stroke-dasharray="0 270.5 75.7 14.6 102.5 3266"/>
<circle r="539.2" stroke-dasharray="0 275.9 26.9 30.9 53.7 4.7 20.1 3352.2"/>
<circle r="544.2" stroke-dasharray="0 301.8 23.5 4.7 51.4 34.2 49.9 3333.7"/>
<circle r="549.2" stroke-dasharray="0 363.5 4.8 3465.8"/>
<circle r="554.2" stroke-dasharray="0 280.5 17.2 59.5 40.4 18.3 16.8 22.9 15.7 3397.8"/>
<circle r="559.2" stroke-dasharray="0 360.1 28.5 43.3 13 17.5 4.9 13.1 4.6 3418.9"/>
<circle r="564.2" stroke-dasharray="0 285.6 16.7 7 37 31.6 86.6 16.3 8.8 3449.5"/>
<circle r="569.2" stroke-dasharray="0 320 14.4 24.6 7.1 99.3 5 3503.5"/>
<circle r="574.2" stroke-dasharray="0 290.6 63.8 58.6 8.4 3587.2"/>
<circle r="579.2" stroke-dasharray="0 332.2 6.8 73.2 28.8 3602.5"/>
<circle r="584.2" stroke-dasharray="0 348 41.1 22.2 6.6 5.4 83.4 3571.7"/>
<circle r="589.2" stroke-dasharray="0 298.2 12.2 43.1 90.7 32.4 20.8 3616.1"/>
<circle r="594.2" stroke-dasharray="0 346.3 169.1 3632.9"/>
<circle r="599.2" stroke-dasharray="0 303.3 30.2 102.3 5.2 28.9 49.8 3663.4"/>
<circle r="604.2" stroke-dasharray="0 313.7 18 32.3 82.2 51.6 25.4 3694.9"/>
<circle r="609.2" stroke-dasharray="0 308.3 50.5 50.1 119.5 3724.6"/>
<circle r="614.2" stroke-dasharray="0 458.3 74.5 3755.2"/>
<circle r="619.2" stroke-dasharray="0 313.4 82.4 29.5 23.4 5.4 5.4 29.4 48.1 3785.7"/>
<circle r="624.2" stroke-dasharray="0 320.5 43.5 43.3 38.3 7.8 5.4 38.4 7.7 3852.8"/>
<circle r="629.2" stroke-dasharray="0 375.2 37.5 13.3 21.1 3945.6"/>
<circle r="634.2" stroke-dasharray="0 371.5 77.9 21.3 79.5 3877.4"/>
<circle r="639.2" stroke-dasharray="0 323.5 52.6 10.2 58.7 4017.4"/>
<circle r="644.2" stroke-dasharray="0 326.1 115.7 4055.6"/>
<circle r="649.2" stroke-dasharray="0 406.4 156.7 3969.1"/>
<circle r="654.2" stroke-dasharray="0 331.1 12.6 4223.4"/>
<circle r="659.2" stroke-dasharray="0 333.7 62.8 5.8 88.8 12.3 12.7 5.8 50.1 4030.3"/>
<circle r="664.2" stroke-dasharray="0 336.2 86.5 90.8 43.9 4079.6"/>
<circle r="669.2" stroke-dasharray="0 374.7 23 56.3 37.8 4180.2"/>
<circle r="674.2" stroke-dasharray="0 392.3 94.6 15.1 82.9 4122"/>
<circle r="679.2" stroke-dasharray="0 343.8 30.1 4367.8"/>
<circle r="684.2" stroke-dasharray="0 442.1 39.7 50.5 48.3 4195.9"/>
<circle r="689.2" stroke-dasharray="0 348.8 70.2 83.8 95 4213.7"/>
<circle r="694.2" stroke-dasharray="0 351.4 15.7 4479.3"/>
<circle r="699.2" stroke-dasharray="0 353.9 3.5 31 118.8 41.3 9.5 4323.2"/>
<circle r="704.2" stroke-dasharray="0 356.4 45 4514.9"/>
<circle r="709.2" stroke-dasharray="0 359 30.7 96.9 33 6.2 89.5 4336"/>
<circle r="714.2" stroke-dasharray="0 361.5 26.9 28.3 6.2 38.3 36.7 107.8 13.9 4366.5"/>
<circle r="719.2" stroke-dasharray="0 429.3 163.2 6.3 25.1 4397.1"/>
<circle r="724.2" stroke-dasharray="0 366.6 61.7 102.7 56 4469"/>
<circle r="729.2" stroke-dasharray="0 369.1 67.7 10.9 20.3 52.8 42.4 4527.6"/>
<circle r="734.2" stroke-dasharray="0 553.1 29.5 4543"/>
<circle r="739.2" stroke-dasharray="0 393.6 20.7 6.5 38.6 30.7 151.2 4519.4"/>
<circle r="744.2" stroke-dasharray="0 376.7 236.7 4582.1"/>
<circle r="749.2" stroke-dasharray="0 424.5 69.5 21.3 134.6 4580.5"/>
<circle r="754.2" stroke-dasharray="0 381.7 112.8 11.6 77.6 4681.6"/>
<circle r="759.2" stroke-dasharray="0 450.6 113.1 6.6 28 27.6 32.6 4641.7"/>
<circle r="764.2" stroke-dasharray="0 420.7 120.5 32.2 6.7 4755.1"/>
<circle r="769.2" stroke-dasharray="0 389.3 18.6 71.4 115.3 4775.4"/>
<circle r="774.2" stroke-dasharray="0 391.9 61.5 114.1 79.7 4757.8"/>
<circle r="779.2" stroke-dasharray="0 394.4 35.6 97 148.9 4763.9"/>
<circle r="784.2" stroke-dasharray="0 396.9 102.1 80.6 13.1 6.8 80.7 4794.5"/>
<circle r="789.2" stroke-dasharray="0 425.6 101.8 22.4 45.8 14.3 58.8 4841"/>
<circle r="794.2" stroke-dasharray="0 437.6 6.9 39.8 204.6 4855.7"/>
<circle r="799.2" stroke-dasharray="0 415.9 14.1 7 12.2 16.4 152.5 7 48.8 4905.6"/>
<circle r="804.2" stroke-dasharray="0 427.4 62.6 7 126.9 24.3 49.3 4916.8"/>
<circle r="809.2" stroke-dasharray="0 411.4 9.6 7.1 121.4 58.4 43.6 4997.9"/>
<circle r="814.2" stroke-dasharray="0 498.4 7.1 55.1 62.7 5060.9"/>
<circle r="819.2" stroke-dasharray="0 449.6 7.1 110.3 143.6 5008.5"/>
<circle r="824.2" stroke-dasharray="0 552.6 43.2 7.3 102.4 5048.5"/>
<circle r="829.2" stroke-dasharray="0 419.7 194.6 77.6 24.4 5072.6"/>
<circle r="834.2" stroke-dasharray="0 422.2 119.3 7.3 133.6 5141.4"/>
<circle r="839.2" stroke-dasharray="0 457.7 16.7 44.5 7.7 7.6 55.2 7.3 20.4 39.6 7.3 5194.6"/>
<circle r="844.2" stroke-dasharray="0 427.3 104.3 15.7 86.7 7.4 90.7 5161.6"/>
<circle r="849.2" stroke-dasharray="0 593.3 101 13.9 28.4 5191.9"/>
<circle r="854.2" stroke-dasharray="0 432.3 49.7 21.8 16.5 36.3 41.3 5365.5"/>
<circle r="859.2" stroke-dasharray="0 454.4 109.7 118.7 62.5 5253.1"/>
<circle r="864.2" stroke-dasharray="0 437.4 30.3 85.6 196.3 5283.6"/>
<circle r="869.2" stroke-dasharray="0 439.9 17.6 271.3 25.1 5314.2"/>
<circle r="874.2" stroke-dasharray="0 442.5 55.1 51.4 147.2 5406.9"/>
<circle r="879.2" stroke-dasharray="0 545 105.6 39.4 17.5 5430.4"/>
<circle r="884.2" stroke-dasharray="0 447.5 62.2 24.3 28 70.4 134.6 5405.9"/>
<circle r="889.2" stroke-dasharray="0 491.3 119.9 17.1 88.6 48.3 6.2 5436.5"/>
<circle r="894.2" stroke-dasharray="0 452.6 39.2 44.1 107.7 77.7 36.8 5484.5"/>
<circle r="899.2" stroke-dasharray="0 455.1 7.1 101 7.8 114.8 7.8 30.5 55.8 5497.6"/>
<circle r="904.2" stroke-dasharray="0 457.7 147.3 73.1 106.3 5528.2"/>
<circle r="909.2" stroke-dasharray="0 554.2 11.6 47.8 27.4 23 8.8 5674.7"/>
<circle r="914.2" stroke-dasharray="0 521.3 70.5 8 193.2 5589.3"/>
<circle r="919.2" stroke-dasharray="0 478.7 8 89.7 64.6 39.7 99.6 5637"/>
<circle r="924.2" stroke-dasharray="0 637.5 48.9 5765.8"/>
<circle r="929.2" stroke-dasharray="0 699.9 8.1 47.5 50.4 5681"/>
<circle r="934.2" stroke-dasharray="0 557.3 22.7 102.2 78.3 5761.5"/>
<circle r="939.2" stroke-dasharray="0 475.4 26.5 19.7 70.9 35.5 186.7 5742.2"/>
<circle r="944.2" stroke-dasharray="0 517.7 42.9 112.7 52.6 15.9 77.2 5772.7"/>
<circle r="949.2" stroke-dasharray="0 480.4 76.5 96.8 80.8 63.4 25.5 5803.3"/>
<circle r="954.2" stroke-dasharray="0 483 8.3 43.5 45.7 20.6 19.9 54.3 25.7 27.7 50.7 5882.4"/>
<circle r="959.2" stroke-dasharray="0 485.5 42.5 206.8 75.3 5886.4"/>
<circle r="964.2" stroke-dasharray="0 488 17.9 170.9 8.4 20.1 118.5 5907.5"/>
<circle r="969.2" stroke-dasharray="0 490.6 199.5 90.2 40.3 5945.7"/>
<circle r="974.2" stroke-dasharray="0 573.8 12.1 33.4 8.5 8.5 27 8.5 48.5 39.8 8.5 6032.6"/>
<circle r="979.2" stroke-dasharray="0 698.6 150.8 5986.7"/>
<circle r="984.2" stroke-dasharray="0 498.1 18.4 30.4 46.7 8.6 20.2 6248.5"/>
<circle r="989.2" stroke-dasharray="0 500.7 357.4 6047.9"/>
<circle r="994.2" stroke-dasharray="0 503.2 119.4 57.4 160.4 6100.4"/>
<circle r="999.2" stroke-dasharray="0 542.3 184.4 6249"/>
<circle r="1004.2" stroke-dasharray="0 745.3 8.8 6256.5"/>
<circle r="1009.2" stroke-dasharray="0 510.8 12.4 60.1 12.3 6449.9"/>
<circle r="1014.2" stroke-dasharray="0 561.6 78.4 61.8 70 6308.6"/>
<circle r="1019.2" stroke-dasharray="0 724.3 35.3 6355.8"/>
<circle r="1024.2" stroke-dasharray="0 565.6 25.6 31.7 232.9 6294.5"/>
<circle r="1029.2" stroke-dasharray="0 528.9 123.5 65.1 13.2 37.6 124.5 6292.4"/>
<circle r="1034.2" stroke-dasharray="0 565.4 107.8 76.2 35.9 6434.8"/>
<circle r="1039.2" stroke-dasharray="0 526 130.1 10.1 26.8 60.2 19.4 6482.4"/>
<circle r="1044.2" stroke-dasharray="0 528.5 12.1 191.4 9.1 6548.8"/>
<circle r="1049.2" stroke-dasharray="0 531 19.8 6773.9"/>
<circle r="1054.2" stroke-dasharray="0 533.6 17.9 57.9 92.9 6657.4"/>
<circle r="1059.2" stroke-dasharray="0 643.1 19.3 89.1 59.2 6583.9"/>
<circle r="1064.2" stroke-dasharray="0 637.4 9.3 28.4 137.9 6616.5"/>
<circle r="1069.2" stroke-dasharray="0 651.3 81.5 6731.6"/>
<circle r="1074.2" stroke-dasharray="0 543.7 17.5 79.9 17.9 9.4 9.4 24.7 14.3 6782.6"/>
<circle r="1079.2" stroke-dasharray="0 618.8 123 16.6 31.5 6744.4"/>
<circle r="1084.2" stroke-dasharray="0 721.6 13.5 6834.1"/>
<circle r="1089.2" stroke-dasharray="0 553.1 52.5 9.5 87.6 32.1 49.8 6819.4"/>
<circle r="1094.2" stroke-dasharray="0 553.8 79.9 132.4 10.5 6862.4"/>
<circle r="1099.2" stroke-dasharray="0 564.6 92.9 29 23.9 6963.4"/>
<circle r="1104.2" stroke-dasharray="0 660.4 13.9 7034.5"/>
<circle r="1109.2" stroke-dasharray="0 561.4 13.1 91 9.7 7068.5"/>
<circle r="1114.2" stroke-dasharray="0 614.5 147.7 7016.4"/>
<circle r="1119.2" stroke-dasharray="0 761.5 25.8 7026.2"/>
<circle r="1124.2" stroke-dasharray="0 569 225 7054.4"/>
<circle r="1129.2" stroke-dasharray="0 720.7 14.2 7148.4"/>
<circle r="1134.2" stroke-dasharray="0 574.1 93.9 7250.2"/>
<circle r="1139.2" stroke-dasharray="0 632.5 9.9 9.9 239.9 7060.9"/>
<circle r="1144.2" stroke-dasharray="0 579.1 78.7 33.3 10 7286.9"/>
<circle r="1149.2" stroke-dasharray="0 581.7 262.4 7178.9"/>
<circle r="1154.2" stroke-dasharray="0 584.2 222.6 7251"/>
<circle r="1159.2" stroke-dasharray="0 586.7 125.6 7380.4"/>
<circle r="1164.2" stroke-dasharray="0 589.3 108.7 7429.6"/>
<circle r="1169.2" stroke-dasharray="0 591.8 16.8 7554"/>
<circle r="1174.2" stroke-dasharray="0 594.3 60 15.2 20.2 27.8 12.9 17.7 64.3 7385.1"/>
<circle r="1179.2" stroke-dasharray="0 596.8 163.9 7471.6"/>
<circle r="1184.2" stroke-dasharray="0 672 340 7255.2"/>
<circle r="1189.2" stroke-dasharray="0 601.9 133.4 7566.8"/>
<circle r="1194.2" stroke-dasharray="0 604.4 47.7 7684.9"/>
<circle r="1199.2" stroke-dasharray="0 607 24.1 7741"/>
<circle r="1209.2" stroke-dasharray="0 612 153.1 7676.6"/>
<circle r="1214.2" stroke-dasharray="0 614.6 15.5 7846.6"/>
<circle r="1219.2" stroke-dasharray="0 703.4 23.5 7784.8"/>
<circle r="1224.2" stroke-dasharray="0 748.3 55 7743.2"/>
<circle r="1229.2" stroke-dasharray="0 622.2 110.3 7849"/>
<circle r="1234.2" stroke-dasharray="0 624.7 166.1 7825.5"/>
<circle r="1239.2" stroke-dasharray="0 627.2 63.6 44.6 34.8 7881.1"/>
<circle r="1249.2" stroke-dasharray="0 632.3 82.4 36.4 91.2 7878.8"/>
<circle r="1254.2" stroke-dasharray="0 634.8 28.8 8092.4"/>
<circle r="1259.2" stroke-dasharray="0 637.3 228 7925.5"/>
<circle r="1264.2" stroke-dasharray="0 645.1 87.7 8092.9"/>
<circle r="1269.2" stroke-dasharray="0 642.4 22.4 8195.9"/>
<circle r="1279.2" stroke-dasharray="0 647.5 222.9 8060.1"/>
<circle r="1284.2" stroke-dasharray="0 652.3 148.5 8164.6"/>
<circle r="1294.2" stroke-dasharray="0 655.1 52.1 8328"/>
<circle r="1304.2" stroke-dasharray="0 660.1 69.3 8375.6"/>
<circle r="1309.2" stroke-dasharray="0 662.6 105.4 8371.9"/>
</g>
<g fill="none" stroke="#000" stroke-opacity="0.22" stroke-width="2.4">
<circle r="476.8" stroke-dasharray="0 303.3 4.2 3021.2"/>
<circle r="481.8" stroke-dasharray="0 364.6 53.3 2945.7"/>
<circle r="491.8" stroke-dasharray="0 264.1 20.1 47.1 57.7 3044.4"/>
<circle r="496.8" stroke-dasharray="0 345.5 44.5 3078.4"/>
<circle r="506.8" stroke-dasharray="0 346.9 92.7 3098.5"/>
<circle r="511.8" stroke-dasharray="0 359.9 8.1 3205"/>
<circle r="516.8" stroke-dasharray="0 307.4 17.1 3283.4"/>
<circle r="521.8" stroke-dasharray="0 324.4 56.6 31.3 12.7 6.5 16.4 3195"/>
<circle r="531.8" stroke-dasharray="0 273.4 14.7 56.2 6.9 40.2 9.7 45.6 14.5 3251.4"/>
<circle r="536.8" stroke-dasharray="0 271.7 6.1 88.1 33.1 61.1 5.5 3281.9"/>
<circle r="541.8" stroke-dasharray="0 304.1 36.2 57.4 4.7 3380"/>
<circle r="546.8" stroke-dasharray="0 304.2 65.7 27.4 16.9 22.1 4.8 3376.3"/>
<circle r="551.8" stroke-dasharray="0 307.2 4.8 3540.3"/>
<circle r="556.8" stroke-dasharray="0 290.3 20.4 9.6 46.7 80 35.5 3404.7"/>
<circle r="561.8" stroke-dasharray="0 310.6 134.7 3476.7"/>
<circle r="571.8" stroke-dasharray="0 335.3 41.2 112.3 7.2 3495.9"/>
<circle r="581.8" stroke-dasharray="0 408.5 35.6 20.6 5.1 23.2 11.7 3557.1"/>
<circle r="586.8" stroke-dasharray="0 412.1 42.4 33.5 12.3 3596.5"/>
<circle r="591.8" stroke-dasharray="0 335.5 31 104.3 42.6 3618.2"/>
<circle r="596.8" stroke-dasharray="0 358.5 12.6 11.1 18.4 3765.8"/>
<circle r="601.8" stroke-dasharray="0 391.8 107.8 3701.8"/>
<circle r="606.8" stroke-dasharray="0 350.4 14.2 27.7 38.6 3805.3"/>
<circle r="611.8" stroke-dasharray="0 518.1 12.6 3740.5"/>
<circle r="616.8" stroke-dasharray="0 312.2 5.2 3988.7"/>
<circle r="621.8" stroke-dasharray="0 314.7 62.7 10.3 21.5 5.4 23.2 86.6 14.9 3801.6"/>
<circle r="626.8" stroke-dasharray="0 317.3 2.9 133.2 5.5 3917"/>
<circle r="641.8" stroke-dasharray="0 345.1 21.3 180.7 9.6 3923.9"/>
<circle r="646.8" stroke-dasharray="0 453.7 27.6 4034.2"/>
<circle r="651.8" stroke-dasharray="0 515.7 49.6 3985"/>
<circle r="661.8" stroke-dasharray="0 370.6 7.2 4242.4"/>
<circle r="676.8" stroke-dasharray="0 433 45 104.5 4.6 4137.9"/>
<circle r="686.8" stroke-dasharray="0 347.6 26.8 211.1 10.2 4199"/>
<circle r="691.8" stroke-dasharray="0 350.2 50.8 4428.7"/>
<circle r="696.8" stroke-dasharray="0 352.7 28.7 4483.2"/>
<circle r="706.8" stroke-dasharray="0 383.9 6.2 52.2 165.2 4326.9"/>
<circle r="711.8" stroke-dasharray="0 360.3 87.6 4521.5"/>
<circle r="716.8" stroke-dasharray="0 397.3 34 4573"/>
<circle r="721.8" stroke-dasharray="0 366.2 6.3 66.4 27.3 4572.9"/>
<circle r="726.8" stroke-dasharray="0 367.9 7 4699.2"/>
<circle r="731.8" stroke-dasharray="0 370.4 22.3 4716.3"/>
<circle r="736.8" stroke-dasharray="0 603.6 33.2 4507"/>
<circle r="741.8" stroke-dasharray="0 375.5 75.1 4728.1"/>
<circle r="746.8" stroke-dasharray="0 378 110.8 4724.8"/>
<circle r="751.8" stroke-dasharray="0 436.1 44.3 16 84.2 4667.9"/>
<circle r="756.8" stroke-dasharray="0 550.8 101.2 4631.5"/>
<circle r="761.8" stroke-dasharray="0 413.8 127.4 4777.2"/>
<circle r="766.8" stroke-dasharray="0 554.7 15.7 21.9 72.8 4688.1"/>
<circle r="771.8" stroke-dasharray="0 390.6 159.9 69.9 25.8 4741.9"/>
<circle r="776.8" stroke-dasharray="0 472.1 22.9 4928"/>
<circle r="781.8" stroke-dasharray="0 421.6 20 81.7 76 4858.7"/>
<circle r="786.8" stroke-dasharray="0 675.7 6.8 4810.4"/>
<circle r="791.8" stroke-dasharray="0 416.3 38.9 5072.6"/>
<circle r="801.8" stroke-dasharray="0 405.8 27.9 56 7.2 109.2 7 4984.6"/>
<circle r="811.8" stroke-dasharray="0 410.9 7.1 224.5 50.2 4974.7"/>
<circle r="816.8" stroke-dasharray="0 413.4 23.6 7.1 39.4 7.1 66.1 5145.6"/>
<circle r="821.8" stroke-dasharray="0 423.1 42.5 11.5 7.2 5253"/>
<circle r="826.8" stroke-dasharray="0 496.6 79.6 5195.9"/>
<circle r="831.8" stroke-dasharray="0 430.1 39.1 5337.8"/>
<circle r="846.8" stroke-dasharray="0 428.6 23.1 194.5 22.7 5242.9"/>
<circle r="851.8" stroke-dasharray="0 502.5 22.7 76.9 13.3 5331.4"/>
<circle r="856.8" stroke-dasharray="0 492.5 40.5 126.2 46.7 5275.7"/>
<circle r="861.8" stroke-dasharray="0 436.2 33.4 140 18.5 5388.4"/>
<circle r="866.8" stroke-dasharray="0 438.7 18.5 88.1 48 17.3 30.1 5410.6"/>
<circle r="871.8" stroke-dasharray="0 484.3 15.7 5586.3"/>
<circle r="876.8" stroke-dasharray="0 548 8.4 174 30.1 5360.7"/>
<circle r="881.8" stroke-dasharray="0 492.2 43.4 5620.6"/>
<circle r="886.8" stroke-dasharray="0 645.5 53.3 5492.2"/>
<circle r="896.8" stroke-dasharray="0 453.9 7 56.2 59.3 67 9 5608.5"/>
<circle r="901.8" stroke-dasharray="0 764.2 18.1 5513.5"/>
<circle r="906.8" stroke-dasharray="0 583.3 41 154.4 7.9 5544.1"/>
<circle r="911.8" stroke-dasharray="0 485.7 8 171.1 126.2 5574.6"/>
<circle r="916.8" stroke-dasharray="0 464 82.8 234 14.4 5605.2"/>
<circle r="921.8" stroke-dasharray="0 531.7 20.7 5883"/>
<circle r="926.8" stroke-dasharray="0 469.1 27.2 5973.9"/>
<circle r="931.8" stroke-dasharray="0 600.4 8.1 48.5 107.7 5740.5"/>
<circle r="936.8" stroke-dasharray="0 659 21.5 5859.5"/>
<circle r="941.8" stroke-dasharray="0 476.7 85.2 195.5 8.2 5809.4"/>
<circle r="946.8" stroke-dasharray="0 551.4 8.3 135 47.4 5867.9"/>
<circle r="951.8" stroke-dasharray="0 534.8 24.5 6085.4"/>
<circle r="956.8" stroke-dasharray="0 577.3 92.7 6009.7"/>
<circle r="961.8" stroke-dasharray="0 516.3 15.1 26.9 10.7 24.5 10.3 76.8 61.2 5972.9"/>
<circle r="966.8" stroke-dasharray="0 625.3 31 6093.3"/>
<circle r="971.8" stroke-dasharray="0 553.2 43.6 141.4 17.8 6028.5"/>
<circle r="976.8" stroke-dasharray="0 681 10.3 6128.1"/>
<circle r="981.8" stroke-dasharray="0 624.2 15.3 6214.8"/>
<circle r="986.8" stroke-dasharray="0 609.6 14.1 136.4 23.7 6105.4"/>
<circle r="991.8" stroke-dasharray="0 707.2 26.6 6190.2"/>
<circle r="1001.8" stroke-dasharray="0 507.1 51.8 6435.1"/>
<circle r="1006.8" stroke-dasharray="0 509.6 56.2 6463"/>
<circle r="1011.8" stroke-dasharray="0 512.1 79.7 65 13 6394"/>
<circle r="1016.8" stroke-dasharray="0 526.8 68.5 6503.3"/>
<circle r="1026.8" stroke-dasharray="0 588.6 125.8 6454"/>
<circle r="1031.8" stroke-dasharray="0 722.5 23.9 6456.9"/>
<circle r="1041.8" stroke-dasharray="0 527.3 20.2 137.7 21.9 6566"/>
<circle r="1046.8" stroke-dasharray="0 529.8 23.5 6754.7"/>
<circle r="1051.8" stroke-dasharray="0 532.4 45.2 6765.4"/>
<circle r="1061.8" stroke-dasharray="0 537.4 11 6864.4"/>
<circle r="1066.8" stroke-dasharray="0 569.3 29.9 132.3 58.2 6658"/>
<circle r="1071.8" stroke-dasharray="0 542.5 172.3 9.4 19.4 6739"/>
<circle r="1076.8" stroke-dasharray="0 545 86.4 9.4 9.4 6867.2"/>
<circle r="1081.8" stroke-dasharray="0 571.4 62.1 6918.8"/>
<circle r="1086.8" stroke-dasharray="0 723 14 6850.3"/>
<circle r="1101.8" stroke-dasharray="0 652.4 27.8 7011.8"/>
<circle r="1106.8" stroke-dasharray="0 670.3 33.1 7023.5"/>
<circle r="1126.8" stroke-dasharray="0 625.9 37.1 7203.6"/>
<circle r="1136.8" stroke-dasharray="0 575.4 76.7 7284.3"/>
<circle r="1141.8" stroke-dasharray="0 606.1 74.6 77.3 10 7203.3"/>
<circle r="1146.8" stroke-dasharray="0 610.5 33.6 7362"/>
<circle r="1156.8" stroke-dasharray="0 735.3 71.3 7269.4"/>
<circle r="1161.8" stroke-dasharray="0 716 10.1 7384.7"/>
<circle r="1171.8" stroke-dasharray="0 593.1 123 7464.6"/>
<circle r="1176.8" stroke-dasharray="0 654.3 78.3 7483"/>
<circle r="1181.8" stroke-dasharray="0 598.2 53.1 39 50.9 7509.4"/>
<circle r="1186.8" stroke-dasharray="0 611 55.1 7619.3"/>
<circle r="1191.8" stroke-dasharray="0 603.2 115.6 7601.5"/>
<circle r="1201.8" stroke-dasharray="0 609.7 56.7 7723.8"/>
<circle r="1206.8" stroke-dasharray="0 610.8 71.2 36.7 62.5 7643.7"/>
<circle r="1216.8" stroke-dasharray="0 714.4 10.6 7769.9"/>
<circle r="1221.8" stroke-dasharray="0 694 167.6 7668.2"/>
<circle r="1231.8" stroke-dasharray="0 623.5 157.6 7818.6"/>
<circle r="1236.8" stroke-dasharray="0 739.5 18.4 7876.6"/>
<circle r="1241.8" stroke-dasharray="0 686.3 24 7959.2"/>
<circle r="1271.8" stroke-dasharray="0 650.9 75.9 8152"/>
<circle r="1276.8" stroke-dasharray="0 646.2 20.8 8246.7"/>
<circle r="1301.8" stroke-dasharray="0 710.8 407.5 7969.9"/>
</g>
<g fill="none" stroke="#000" stroke-opacity="0.143" stroke-width="2.6">
<circle r="469.2" stroke-dasharray="0 407 8.4 5.1 65.6 4.1 21.8 18.2 54.2 7.8 11.7 18.3 8 4.1 16.2 4.1 25.8 4.1 10.7 26.8 66.8 4.4 4.3 70.3 4.1 109 24.1 13.9 47.9 2208.6"/>
<circle r="474.2" stroke-dasharray="0 411.3 11.4 75.4 10.8 23.1 42 32.7 33.1 46.3 31.5 100.5 19.1 50.3 13.4 4.1 40.2 9.1 49.2 2306.9"/>
<circle r="479.2" stroke-dasharray="0 437.6 4.2 28.1 24.6 18.8 6.1 4.2 28.7 4.2 12.6 12 22 59.2 69.4 46.8 139 153 19.3 2255.7"/>
<circle r="484.2" stroke-dasharray="0 420 127.6 27.3 40.7 4.2 4.2 10 8.7 20.2 9.3 26.5 16 5.3 4.2 20.4 4.2 26.4 4.2 35.7 4.2 55.1 15.1 196.3 8.9 2285.5"/>
<circle r="489.2" stroke-dasharray="0 459.2 103.3 101.1 16.1 59.4 33.6 21.9 7.9 4.3 62.4 4.3 21.6 36.2 4.7 50.1 73.1 2356.1"/>
<circle r="494.2" stroke-dasharray="0 428.7 100.3 34.5 29.7 76.9 14.6 4.3 4.4 52.4 12.8 97.2 40.2 186.6 33 2334.6"/>
<circle r="499.2" stroke-dasharray="0 433 20 98.3 21.8 7.1 20.9 37.8 13.9 107.3 12.5 15.2 21.3 10.9 11.7 24.3 84 4.4 6.6 10.7 161.4 2361.9"/>
<circle r="504.2" stroke-dasharray="0 465.7 80.7 80.1 23.3 74.6 20.2 63.5 45.7 14.4 54.5 41.8 20.3 24.4 7.7 33.7 4.4 48.8 43 2373.3"/>
<circle r="509.2" stroke-dasharray="0 445.3 4.4 96.7 13.8 54 16.8 21.7 45.3 20.5 43.1 83.9 6.1 184.9 4.4 26.2 21.4 2466.3"/>
<circle r="514.2" stroke-dasharray="0 541.1 4.5 15.2 53.2 19.2 89.7 4.5 15.3 5.6 26.5 162.9 12.2 51.4 9.6 28.6 26.3 14.1 36.4 34.3 18.9 2420.4"/>
<circle r="519.2" stroke-dasharray="0 493.9 41.5 32.3 4.5 313.2 4.8 101.9 69.7 12.4 62.6 31 12.9 2444"/>
<circle r="524.2" stroke-dasharray="0 454.7 3.8 200.3 12.2 24.6 36.9 4.6 9.3 9.3 17 27.8 29.6 34.6 5.7 4.6 23.6 72.6 82.8 92.1 11.4 2502.2"/>
<circle r="529.2" stroke-dasharray="0 470 25.2 16.6 6.9 143.7 4.6 142.4 16.7 79.6 4.6 42.9 45.9 29.1 14.1 34.5 6.9 12.1 8.8 4.6 77 4.6 12.6 2491"/>
<circle r="534.2" stroke-dasharray="0 567.9 42.3 108.4 18.5 17.7 6.6 6.1 35.9 88.4 7.7 4.7 14.5 8.5 8.2 12.9 35 29.2 26.5 25.4 132.8 2532.2"/>
<circle r="539.2" stroke-dasharray="0 467.7 31.1 126.2 4.7 31.9 64.6 41.5 4.7 38.1 11.1 12.4 89.9 5.8 57.7 72.4 29.3 20.3 4.7 57.2 55.1 2538.1"/>
<circle r="544.2" stroke-dasharray="0 472.1 22.2 4.7 51.1 4.7 4.7 8.3 20.1 144.4 35.6 4.7 5.4 32.3 4.7 57.7 14.6 163.3 56.3 88.7 8.8 29.5 3.5 2561.6"/>
<circle r="549.2" stroke-dasharray="0 546.8 55.9 4.8 4.8 136.4 11.3 7 52.2 81 30.8 76.9 65.1 101.1 10.1 28.8 35.9 2585.2"/>
<circle r="554.2" stroke-dasharray="0 526.6 14.4 62.3 4.8 23 47.6 55.3 4.8 67.6 31.5 31.3 4.8 48.3 45.8 11.8 33.7 4.8 7.7 23.6 50.4 17.7 74 2677"/>
<circle r="559.2" stroke-dasharray="0 485.1 41.7 77.6 78.1 59.9 51.2 24.4 4.9 3081.1"/>
<circle r="564.2" stroke-dasharray="0 489.4 52.2 4.9 4.9 15.9 4.9 28.6 33.1 39.7 27.5 6.9 26.1 200.1 13.6 87 34.6 77.8 36.6 31.4 9.1 5.3 4.9 5.8 42.7 2655.8"/>
<circle r="569.2" stroke-dasharray="0 493.7 56.8 7.8 5 12.9 85.1 90.1 5 102.6 6.6 16.9 6.3 117.7 60.5 5 5 85.6 17.2 45.9 35 2713.2"/>
<circle r="574.2" stroke-dasharray="0 498.1 3.7 84.5 14.3 5 5.4 18.5 112.7 30.7 23.9 30.3 69.8 88.9 5.8 60.5 27.7 125.6 5 47.6 7.3 2743.5"/>
<circle r="579.2" stroke-dasharray="0 515.1 101.4 110.3 5.1 5.1 26.8 20.7 5.1 62.5 5.9 57.4 5.1 69.6 63.6 88.7 75.1 53.1 14.2 11.2 21.3 2726.4"/>
<circle r="584.2" stroke-dasharray="0 511.6 57.3 8.2 43.2 49.1 16 30.6 10.8 29.7 7.2 42.2 38.2 44.7 167.6 145.3 78 2798.7"/>
<circle r="589.2" stroke-dasharray="0 511.1 32.4 51.9 21.5 60.2 35.1 99.5 23.2 26.3 58.7 35.4 37.2 18.9 27.5 46.8 31.4 87.2 14.7 10.5 16.7 49.9 24 2793.2"/>
<circle r="594.2" stroke-dasharray="0 565.2 5.2 48.6 132.9 40.3 44.8 82.2 24 42.5 9.5 56.3 26.7 23.3 99.7 57 19.3 2870.7"/>
<circle r="599.2" stroke-dasharray="0 566.2 66.5 67.5 45 8.9 98 8.7 59.6 10.5 41.9 78.5 7.1 47 10.4 175.6 7.3 2884.4"/>
<circle r="604.2" stroke-dasharray="0 524.1 5.7 25 41.2 59 9.3 32.3 68.9 37.1 14 58.9 73 69.3 143.3 34 5.3 5.3 130.3 26.4 11.7 2844.1"/>
<circle r="609.2" stroke-dasharray="0 571.1 63.6 69.5 40.3 5.3 5.3 34.8 62.2 105.9 20.6 106.4 15.8 61.2 5.3 180.7 16.2 2888.7"/>
<circle r="614.2" stroke-dasharray="0 566.6 139.6 5.4 24.7 32.2 45.2 5.4 7.7 25.3 14.8 31.6 24.9 29.7 16.5 164.2 5.4 17.5 43.7 27.1 7.8 118.3 20.4 2914.1"/>
<circle r="619.2" stroke-dasharray="0 537.1 80.5 174.3 18.6 106.5 49.2 27.3 5.4 55.3 5.4 34.9 25.9 5.4 8.6 20.1 45.4 9.8 34.7 26.6 28.6 3023.2"/>
<circle r="624.2" stroke-dasharray="0 628.2 8.3 39.4 15.1 59 23.5 144.3 21.6 146.7 5.4 30 23.7 6.2 77.4 111.4 18.2 49.7 11.4 2938.2"/>
<circle r="629.2" stroke-dasharray="0 572.1 35.7 56.5 57.1 11.6 27.9 144.1 20.5 80.6 5.5 29.4 5.5 37.9 38.1 8.8 7 72.6 5.5 201.9 12.7 2961.7"/>
<circle r="634.2" stroke-dasharray="0 636.8 13.5 54 5.5 122.9 101.6 88.9 36.2 5.5 6.6 24.7 42 10.7 5.5 17 16.4 5.5 93.5 34.8 5.5 49.5 5.5 3045.4"/>
<circle r="639.2" stroke-dasharray="0 587.9 7.2 88.8 33.7 82.2 121.6 58.6 14.4 34.7 35.5 150.8 6 15.9 52.6 95.9 27.2 3049.3"/>
<circle r="644.2" stroke-dasharray="0 669.2 5.6 22.3 7.6 5.6 49.4 61 43 16.3 39.5 16.3 37.7 155.9 207.3 5.6 12.2 51 12 3079.9"/>
<circle r="649.2" stroke-dasharray="0 597.1 148.2 5.7 24.5 43.8 22.5 23.1 56.1 63.2 6 25.3 22.8 86 24.7 22.4 46.8 40.7 16.9 118.7 10.3 27.7 43.8 3055.9"/>
<circle r="654.2" stroke-dasharray="0 642.3 18.5 37.6 19.4 12.3 7.8 70.6 9.2 37.9 6.1 94.5 31.4 83.8 22.1 29.8 11.8 53.4 71.4 3307.1"/>
<circle r="659.2" stroke-dasharray="0 571.8 100.6 260.7 10.2 57.6 6.7 57.8 23.4 79 15.4 78.6 42.1 26 161 3111.1"/>
<circle r="664.2" stroke-dasharray="0 637.1 7 48.2 7.6 20.6 20.6 41 19.3 34.7 145.9 75.5 15.8 9.3 10.6 93.4 319.1 3131.3"/>
<circle r="669.2" stroke-dasharray="0 580.5 96.6 20.9 58.7 50.4 26.5 5.8 11.1 40.1 22.6 7 27.6 154.3 39.2 62.5 62.2 241.8 5.8 3158.4"/>
<circle r="674.2" stroke-dasharray="0 629.9 14 174.4 16 32.2 40.3 14.3 39.6 113.4 5.9 73.3 86.9 63.7 14.5 127.6 13.8 50.1 20.2 3176.6"/>
<circle r="679.2" stroke-dasharray="0 734.7 5.9 37.6 5.9 90.7 19 92.5 34.1 68.1 20.3 84.3 56.8 69.5 7.7 14.2 60 127.9 14.8 3197.5"/>
<circle r="684.2" stroke-dasharray="0 593.5 74.5 57.5 60 19.3 40.7 30.3 36.3 11.3 28.4 6 6 67.1 55.7 72.1 20.7 44.6 9.8 26.2 9.7 17 85.1 8.9 11.8 9.7 36.1 31.7 57.1 3249.7"/>
<circle r="689.2" stroke-dasharray="0 611.6 95.3 206.5 45.9 18.8 82.7 27.6 9.5 32.9 34.4 158.7 32.1 24.6 62 3368.8"/>
<circle r="694.2" stroke-dasharray="0 664.9 36.7 6.1 59.7 67.9 63 271.9 52.7 6.1 6.1 181.5 6.1 6.1 52.8 6.7 17.2 14.1 12.4 14 11.9 6.1 6.1 3276.8"/>
<circle r="699.2" stroke-dasharray="0 805.1 57.2 58.4 46.9 18.2 23.2 41.5 45.6 29 86.2 139.9 6.5 40.3 32.2 115.5 6.4 16.9 7.6 3304.8"/>
<circle r="704.2" stroke-dasharray="0 610.8 4.2 31.5 19.2 142.5 11.6 168.2 6.1 6.1 57.1 22.2 62.9 79.5 44.8 49.1 12 128.7 104.5 3355"/>
<circle r="709.2" stroke-dasharray="0 676.7 6.2 7.8 98.8 33.7 31.7 81.8 54.1 6.2 34.2 74.1 140.1 88.6 7.1 209 62.7 3338.3"/>
<circle r="714.2" stroke-dasharray="0 738.6 6.2 191.2 25.6 287.2 69.6 42.6 6.2 42.8 6.4 3569.5"/>
<circle r="719.2" stroke-dasharray="0 628.2 58.6 160.5 93.6 330 16.4 6.8 90.5 19.7 21.8 83 16.1 53.1 57.3 3385.4"/>
<circle r="724.2" stroke-dasharray="0 659.8 56.6 7.9 50.3 10.4 95 10.4 48.7 43 137.7 263.7 6.3 65.9 79.8 3520.5"/>
<circle r="729.2" stroke-dasharray="0 632.5 15.1 24.5 12.5 267.6 36.9 350.1 15.3 77.6 10.7 6.4 10.8 79.6 31.6 80.8 6.3 3432.5"/>
<circle r="734.2" stroke-dasharray="0 820.4 74.7 328.7 137 6.4 99.8 3658.6"/>
<circle r="739.2" stroke-dasharray="0 641.2 60.2 32.1 82.4 10.9 190.6 345.7 38.1 15.3 27.5 13.1 74.9 11.3 7 3610.2"/>
<circle r="744.2" stroke-dasharray="0 668.3 6.5 6.7 28.1 46.6 77.2 839.3 13.4 3509.3"/>
<circle r="749.2" stroke-dasharray="0 699.2 34.7 13.7 105.8 627.6 54.8 152.6 15.4 3526.6"/>
<circle r="754.2" stroke-dasharray="0 654.2 7.6 239.7 23.9 436.3 141.4 43.8 10.5 34.8 38.2 66.9 17.8 3550.1"/>
<circle r="759.2" stroke-dasharray="0 658.6 43.2 74.8 76 55.2 62.4 581.9 48.1 3700.2"/>
<circle r="764.2" stroke-dasharray="0 662.9 89.3 778.7 115 81.8 10.2 3597.2"/>
<circle r="769.2" stroke-dasharray="0 696.8 125.5 18.5 50.5 682.5 133.3 3662.9"/>
<circle r="774.2" stroke-dasharray="0 671.6 152.2 691.9 38.2 167.1 11.3 3672.6"/>
<circle r="779.2" stroke-dasharray="0 678.2 45.3 6.8 19.4 54.8 6.8 49 106 512.9 177.7 22 33.8 30.5 28.7 3667.8"/>
<circle r="784.2" stroke-dasharray="0 721.1 40.2 775.5 107.8 60.9 36 25.9 16 3691.3"/>
<circle r="789.2" stroke-dasharray="0 730.9 7.4 84.8 21.4 6.9 75.4 572.2 150.1 14.5 114.8 3731.1"/>
<circle r="794.2" stroke-dasharray="0 712.4 6.9 905.9 26.9 20.6 35.1 3836.8"/>
<circle r="799.2" stroke-dasharray="0 693.2 40.5 58.9 7 754.1 95.8 7 16.9 7 30.5 59.5 29.7 3779.3"/>
<circle r="804.2" stroke-dasharray="0 697.6 13.3 20.6 44.4 42.6 33.9 788.8 29.1 25.6 70.4 35.9 26.8 3785.5"/>
<circle r="809.2" stroke-dasharray="0 702.3 18.5 17.6 7.1 18.5 39.3 774.1 128.4 83.5 7.1 3853.1"/>
<circle r="814.2" stroke-dasharray="0 706.3 162.8 887.6 15.6 3912"/>
<circle r="819.2" stroke-dasharray="0 787.7 81.7 876.3 36.1 7.1 27.3 7.1 39.6 3856.1"/>
<circle r="824.2" stroke-dasharray="0 714.9 22.7 29.3 198.6 765.9 67.4 3955.2"/>
<circle r="829.2" stroke-dasharray="0 719.3 61 7.2 51.6 7.2 7.2 993.8 32.3 3909.1"/>
<circle r="834.2" stroke-dasharray="0 723.6 28.5 86.8 70.9 839.4 32.7 73.2 38.3 3930.5"/>
<circle r="839.2" stroke-dasharray="0 727.9 20 10.9 26.7 7.3 9.7 958.7 38.7 36.3 20.7 4001.9"/>
<circle r="844.2" stroke-dasharray="0 1827.4 80.6 3985.6"/>
<circle r="849.2" stroke-dasharray="0 745.7 7.4 78.2 103.3 904.2 7.4 7.4 77.5 3997.3"/>
<circle r="854.2" stroke-dasharray="0 741 94.5 975.7 47.5 4104.8"/>
<circle r="859.2" stroke-dasharray="0 809.1 147.5 5041.8"/>
<circle r="864.2" stroke-dasharray="0 749.6 20 1049 78.9 4135.7"/>
<circle r="869.2" stroke-dasharray="0 1893.5 12.7 4162"/>
<circle r="874.2" stroke-dasharray="0 1885.9 77.9 17.1 7.1 4115"/>
<circle r="879.2" stroke-dasharray="0 782.4 111.4 5244.2"/>
<circle r="884.2" stroke-dasharray="0 1906.1 53.2 39.9 11.6 4162.1"/>
<circle r="889.2" stroke-dasharray="0 783.4 200.1 5224.4"/>
<circle r="894.2" stroke-dasharray="0 775.7 16.6 5450.4"/>
<circle r="899.2" stroke-dasharray="0 2037.4 7.5 4232.7"/>
<circle r="904.2" stroke-dasharray="0 784.3 77.1 1188.6 6.2 4256.2"/>
<circle r="909.2" stroke-dasharray="0 788.7 40.6 1223.3 15.1 4279.7"/>
<circle r="919.2" stroke-dasharray="0 799.4 229.8 1010.6 50.6 4326.8"/>
<circle r="924.2" stroke-dasharray="0 2057.6 44.1 4350.4"/>
</g>
<g fill="none" stroke="#000" stroke-opacity="0.286" stroke-width="2.4">
<circle r="471.8" stroke-dasharray="0 617.2 10.2 117.7 4.1 13.7 65.4 128.5 4.1 48.8 10.5 19.8 4.1 2249.5"/>
<circle r="476.8" stroke-dasharray="0 413.6 19.9 33.9 6.7 39.1 4.2 177 13.8 83.4 85.8 9.1 16.1 50.1 28.1 71.7 11.3 10.9 9.7 2244.4"/>
<circle r="481.8" stroke-dasharray="0 513 11.5 40.2 25.9 166.2 28.5 207.1 4.2 58.8 4.2 2304"/>
<circle r="486.8" stroke-dasharray="0 443.8 12.5 50.2 17 80.3 25.5 49.8 10.1 13.6 4.2 29.4 60.3 50.1 4.2 50.4 26 138.5 9 2323.8"/>
<circle r="491.8" stroke-dasharray="0 501.1 43.6 17.8 67.6 20.2 4.3 4.3 4.3 100.3 16.7 195.5 4.6 14.7 38.4 51.7 12.6 2335.8"/>
<circle r="496.8" stroke-dasharray="0 465.2 4.3 60.9 10.9 35.8 5.9 45.9 28.7 248.1 77.7 4.3 19.8 107.5 14.6 2338.5"/>
<circle r="501.8" stroke-dasharray="0 435.3 15.1 11.7 14.4 37.3 8 6.7 12.2 71.1 32.7 257.4 7.6 27.4 4.4 59.6 30.9 86.4 12 2373.2"/>
<circle r="506.8" stroke-dasharray="0 453.9 4.4 81 6.2 59.1 116.4 28.4 6.3 91.1 4.4 26 34.5 10.3 30.2 44.5 11.2 2530.1"/>
<circle r="511.8" stroke-dasharray="0 443.9 11.2 45.7 32.9 61.8 30.8 108.2 21.8 146.5 22.7 8.4 4.5 7.7 14.5 2612.4"/>
<circle r="516.8" stroke-dasharray="0 521.9 42.1 168.5 4.5 13.9 13.1 47.2 46.5 40.8 39 184.8 45.1 4.5 3.3 2432.7"/>
<circle r="521.8" stroke-dasharray="0 457.5 4.6 30.5 4.6 46.2 9.6 40.1 20.4 38.1 4.6 53.7 36 126.6 20.5 130.5 82.5 20.7 18.2 2498"/>
<circle r="526.8" stroke-dasharray="0 657.7 12.2 4.6 10.3 84.3 24 398.1 6.9 2479.7"/>
<circle r="531.8" stroke-dasharray="0 489.1 19.1 75.6 12.2 100.8 30.4 86.3 4.6 31 14.9 115.4 6.5 77.9 4.6 96.3 36.3 2511.6"/>
<circle r="536.8" stroke-dasharray="0 465.6 50.7 82.3 20.9 252.6 18.3 95.5 43.9 74.7 28.1 10.3 44 2560.8"/>
<circle r="541.8" stroke-dasharray="0 470 18.7 29.7 14.9 55 4.7 26.4 50.2 53.4 16.7 236.3 4.7 45.9 11.6 122.4 13.4 2608.5"/>
<circle r="546.8" stroke-dasharray="0 528.7 4.8 51.9 19.2 206.2 4.8 9.3 22.1 4.8 4.8 4.8 63 79.4 13.9 26.1 6.4 81.9 18.9 41.6 4.8 2620"/>
<circle r="551.8" stroke-dasharray="0 478.6 4.2 69.9 4.8 57.1 9 164.3 6.1 196.9 46.6 22.8 57.8 54.8 81.9 2597.4"/>
<circle r="556.8" stroke-dasharray="0 483 10.5 123.1 7.8 11.7 48.5 68.1 4.9 46.9 43.8 66.2 4.9 78.8 25.3 37.4 23.7 4.9 41.2 116.2 19.5 2620.9"/>
<circle r="561.8" stroke-dasharray="0 508.4 32.6 34.8 4.9 4.9 22.5 47.4 4.9 43.8 10.1 89 45.4 23.6 25.6 63.8 18.5 33 62.8 2846"/>
<circle r="566.8" stroke-dasharray="0 626.8 9.5 118.9 32.5 69.3 13.1 19.4 33.5 129.3 16.4 41.7 21 11.9 5.9 20 11.5 2776.4"/>
<circle r="571.8" stroke-dasharray="0 736.1 5 133.1 8 10.7 5 88.5 50.8 32 8.2 181.5 8.8 2724.3"/>
<circle r="576.8" stroke-dasharray="0 500.3 13.2 62.4 18 65.6 9.7 45.1 5 272.8 11.8 14.2 5 23.1 5 88.5 50.3 5 5 62.5 45.9 2718.3"/>
<circle r="581.8" stroke-dasharray="0 509.7 37.1 5.1 15.8 34 9.3 203.8 5.1 32.4 19.1 9.8 7.5 5.1 6.2 115.6 48.4 2997.7"/>
<circle r="586.8" stroke-dasharray="0 530.2 24.6 76 72.1 92.7 8.9 67.3 28.6 151.8 5.1 165.2 5.1 2869"/>
<circle r="591.8" stroke-dasharray="0 513.3 36.1 61.8 20.6 126.6 48.9 32.8 55.2 268.4 9.7 52.2 25.5 27.9 63.9 2788.5"/>
<circle r="596.8" stroke-dasharray="0 517.7 36.3 34.2 21.4 41.4 14.2 101.2 5.2 238 6.7 11.1 44.4 50.7 16.4 19.6 5.2 125 15.3 37 5.2 2820.3"/>
<circle r="601.8" stroke-dasharray="0 569.8 76.7 93.6 19.7 39 43 117.9 25.8 17.7 30.2 31.9 5.3 60.2 5.9 14 43.8 90.8 11.5 13.4 23.5 2867.6"/>
<circle r="606.8" stroke-dasharray="0 580.7 5.3 73.7 149.2 38.4 5.3 76 15.4 7.9 19.9 182.9 22.1 133.8 16.6 28.8 5.3 2874.9"/>
<circle r="611.8" stroke-dasharray="0 530.7 36.6 105 5.9 30.8 5.3 8.4 8.5 15.3 10.1 42.4 5.3 137.6 16.9 18.2 13.6 61.2 38.1 25.7 8.9 79.8 5.8 30.8 5.3 5.3 16.8 68.9 54.1 2879.8"/>
<circle r="616.8" stroke-dasharray="0 551.4 5.7 94 10.5 54.1 5.4 383.4 26.3 30.3 19.7 13.4 5.4 93.7 31.5 31 8.7 2941.5"/>
<circle r="621.8" stroke-dasharray="0 693.5 71 80.4 110.9 48.7 42.7 230 44.7 28.4 16.7 5.4 7.7 2960.9"/>
<circle r="626.8" stroke-dasharray="0 545.7 5.5 11.7 39.2 160.8 25.6 156.1 5.5 130.3 18 86.4 26.8 13.2 20 5.5 11.3 3114.3"/>
<circle r="631.8" stroke-dasharray="0 600.5 11.8 12 26.5 8.3 36.4 69.9 6 13.6 66.1 5.5 14.7 5.5 5.5 551.4 3.1 2974"/>
<circle r="636.8" stroke-dasharray="0 588.3 5.6 17 5.6 43.4 14 91.8 17.9 215.6 25.3 37.5 7.4 366 11.8 2998.5"/>
<circle r="641.8" stroke-dasharray="0 556.7 14.8 233.5 33.3 67.8 8.7 39.9 36.8 14.2 53.6 14.1 5.6 144.3 117.4 3140.1"/>
<circle r="646.8" stroke-dasharray="0 593.7 27.7 43.4 22 129.6 40.8 203.3 11.3 3443.7"/>
<circle r="651.8" stroke-dasharray="0 565.4 29 135.8 13.6 258.3 8.6 55.5 34.8 116.7 5.7 176.9 62 15.3 4.7 3068.1"/>
<circle r="656.8" stroke-dasharray="0 753.9 30.9 223.6 7.8 338 35.7 3195.4"/>
<circle r="661.8" stroke-dasharray="0 710.1 66.2 56.5 23 211.6 39.9 21.8 5.8 32.8 27.7 5.8 15.9 150.3 57.1 3195.6"/>
<circle r="666.8" stroke-dasharray="0 796.6 18.4 68.3 13.3 5.8 29.3 6.1 13.4 47.5 20.8 16.1 5.8 6.5 31 197.6 23.1 15.2 81.2 3259"/>
<circle r="671.8" stroke-dasharray="0 853.3 5.9 308.1 90.4 79.9 5.9 20.9 5.9 5.9 5.9 3308"/>
<circle r="676.8" stroke-dasharray="0 662.2 23 25.8 22.5 61.5 43 75 12.6 84.4 9.9 49.6 61.1 88.7 24.8 92.2 5.9 50.8 5.9 8.9 5.9 30.1 22.3 37.7 5.9 3215.2"/>
<circle r="681.8" stroke-dasharray="0 638.4 5.9 118.8 5.9 169.8 110.4 5.9 55.9 25.6 5.9 154.9 127.1 3335"/>
<circle r="686.8" stroke-dasharray="0 595.7 6 402.6 44.3 45.2 147.4 76.1 149 3328.4"/>
<circle r="691.8" stroke-dasharray="0 600.1 23.6 87.7 32.9 61.9 6 34.2 13.3 67.3 6 151 6 97.9 36.8 77.9 44.3 78 51 3353.6"/>
<circle r="696.8" stroke-dasharray="0 630.9 6.1 80.9 6.1 11.1 40.2 130 6.1 65.2 26.3 157.8 12.9 83.2 27.7 293.4 6.8 3279.9"/>
<circle r="701.8" stroke-dasharray="0 608.8 23.8 64.5 34.1 14.8 31.3 29.4 31.3 49.7 20.2 42 30.7 18.1 6.1 144.5 6.1 237.8 31.4 16.8 6.1 139.4 9.1 3303.5"/>
<circle r="706.8" stroke-dasharray="0 846.7 73.6 90.3 19 100.8 8.8 141.3 25.7 85.1 7.4 3535.7"/>
<circle r="711.8" stroke-dasharray="0 617.4 86.9 43.7 45.7 44.3 17.1 102.7 18.8 318.1 6.2 31.9 6.2 3630.3"/>
<circle r="716.8" stroke-dasharray="0 641.6 136.4 170.1 6.3 9.8 7.5 270.4 11 51.6 102.1 8.5 12.4 12.6 9.7 106.3 72.6 3375.5"/>
<circle r="721.8" stroke-dasharray="0 700.3 24.4 38 51.9 128.3 113.3 212.7 25.5 8.2 6.3 30.8 36.3 6.3 37.7 82.7 22.6 107.5 8.8 3397.6"/>
<circle r="726.8" stroke-dasharray="0 630.4 34.5 154.1 6.3 536.7 38.9 26.1 44.6 3602.4"/>
<circle r="731.8" stroke-dasharray="0 634.8 7.6 705 30.3 93.8 20.5 72.4 6.4 81.9 11.5 3444.7"/>
<circle r="736.8" stroke-dasharray="0 639.1 12.9 33.2 16.4 84 24.1 101.1 70.9 562 6.4 3593.6"/>
<circle r="741.8" stroke-dasharray="0 681.5 17.7 823.6 44.9 3611"/>
<circle r="746.8" stroke-dasharray="0 775.7 12.5 21.8 24.3 57.9 26.6 4295"/>
<circle r="751.8" stroke-dasharray="0 1227 239 92.1 6.6 138.5 6.6 3538.8"/>
<circle r="756.8" stroke-dasharray="0 663.9 82.4 19.7 17.9 6.6 49.5 4443.4"/>
<circle r="761.8" stroke-dasharray="0 660.8 41.9 65.8 8.2 4541.7"/>
<circle r="766.8" stroke-dasharray="0 805.5 6.7 53.3 6.7 744.4 6.7 101.4 19.2 3609.4"/>
<circle r="771.8" stroke-dasharray="0 742.2 21.2 109.8 11.5 856.3 6.7 3640.4"/>
<circle r="776.8" stroke-dasharray="0 722.1 7.2 38.3 6.8 4648.8"/>
<circle r="781.8" stroke-dasharray="0 678.2 9.7 110.7 28.7 4630.7"/>
<circle r="786.8" stroke-dasharray="0 1733.2 56.1 3703.6"/>
<circle r="791.8" stroke-dasharray="0 1659.7 24.4 33.6 6.9 3803.2"/>
<circle r="796.8" stroke-dasharray="0 853.4 36.6 4672.8"/>
<circle r="801.8" stroke-dasharray="0 780.8 31.4 816 59.9 67.7 27.4 3814.4"/>
<circle r="806.8" stroke-dasharray="0 751.2 34.7 51.8 39.8 4755"/>
<circle r="811.8" stroke-dasharray="0 727.6 9.4 39.8 11 7.1 44.9 864.3 7.1 7.9 24.5 37.7 30.6 3855.6"/>
<circle r="816.8" stroke-dasharray="0 1756.3 10.8 27 49.2 7.1 7.2 3844.8"/>
<circle r="826.8" stroke-dasharray="0 832.7 7.2 4932.3"/>
<circle r="831.8" stroke-dasharray="0 721.5 24.8 1044.6 32.5 47.9 18.1 3917.6"/>
<circle r="836.8" stroke-dasharray="0 821.2 27.1 972.8 24.4 3996.4"/>
<circle r="841.8" stroke-dasharray="0 730.2 56.3 1120 8 3962.5"/>
<circle r="846.8" stroke-dasharray="0 1834.4 28.4 25.3 7.8 4015.9"/>
<circle r="851.8" stroke-dasharray="0 738.9 95.2 5112.6"/>
<circle r="856.8" stroke-dasharray="0 743.2 39.7 1080.5 9.3 56.3 10.7 4041.8"/>
<circle r="866.8" stroke-dasharray="0 751.9 18.6 1184.1 8.5 4088.2"/>
<circle r="886.8" stroke-dasharray="0 785.7 34.6 1116.2 36 33 7.7 4177.7"/>
<circle r="891.8" stroke-dasharray="0 773.6 14.9 1045.7 163.6 4228.1"/>
<circle r="896.8" stroke-dasharray="0 777.9 30 5452.9"/>
<circle r="906.8" stroke-dasharray="0 786.6 8.1 1253.3 14.3 4268.4"/>
<circle r="921.8" stroke-dasharray="0 2061.4 34.9 4339.1"/>
</g>
<g fill="none" stroke="#000" stroke-opacity="0.11" stroke-width="2.6">
<circle r="469.2" stroke-dasharray="0 1083.6 25.7 50.5 55.1 2060.7"/>
<circle r="474.2" stroke-dasharray="0 1203.9 40.1 2066.5"/>
<circle r="479.2" stroke-dasharray="0 1100.3 4.2 52 50.4 2138.5"/>
<circle r="484.2" stroke-dasharray="0 1134.4 12.3 9.7 62.8 5.9 51.1 2104.3"/>
<circle r="489.2" stroke-dasharray="0 1184.4 18.2 57.4 29.2 2126"/>
<circle r="494.2" stroke-dasharray="0 1123.9 28.6 32.8 33 2231.9"/>
<circle r="499.2" stroke-dasharray="0 1168.1 95.8 27.6 24 2169.5"/>
<circle r="504.2" stroke-dasharray="0 1156.7 8.2 69.2 11.6 4.4 30.6 7.8 4.4 2227"/>
<circle r="509.2" stroke-dasharray="0 1192 88.2 36 25.7 2212.9"/>
<circle r="514.2" stroke-dasharray="0 1169.4 34.2 100.2 30.1 2255.9"/>
<circle r="519.2" stroke-dasharray="0 1180.7 17 111.5 59.1 2256.4"/>
<circle r="524.2" stroke-dasharray="0 1297.6 28.9 31.6 23.4 2278.1"/>
<circle r="529.2" stroke-dasharray="0 1203.5 30.7 6.4 29.4 95.2 6.7 2322.6"/>
<circle r="534.2" stroke-dasharray="0 1214.9 48.6 38.1 27.8 2400.1"/>
<circle r="539.2" stroke-dasharray="0 1226.2 18 58 65 4.7 4.7 2387.7"/>
<circle r="544.2" stroke-dasharray="0 1237.6 11.8 14.6 14.9 20.4 4.7 96.3 33.8 2365"/>
<circle r="549.2" stroke-dasharray="0 1290.8 45 34.2 44.6 8.7 24.1 2386.8"/>
<circle r="554.2" stroke-dasharray="0 1260.3 160.3 4.8 35.1 2408.5"/>
<circle r="559.2" stroke-dasharray="0 1271.7 2.8 4.9 43.9 5.3 145.2 2430.2"/>
<circle r="564.2" stroke-dasharray="0 1283.1 39 28.9 4.9 38 30.6 2514.4"/>
<circle r="569.2" stroke-dasharray="0 1402.1 45 2526.7"/>
<circle r="574.2" stroke-dasharray="0 1305.8 69.6 48.2 89.6 2495.4"/>
<circle r="579.2" stroke-dasharray="0 1317.2 13.8 28.2 30.5 35.7 101.1 2517.1"/>
<circle r="584.2" stroke-dasharray="0 1328.6 56 134.2 20.8 2538.9"/>
<circle r="589.2" stroke-dasharray="0 1339.9 46.7 133.3 32.9 2560.6"/>
<circle r="594.2" stroke-dasharray="0 1408.5 126.8 8.6 10.7 2593.7"/>
<circle r="599.2" stroke-dasharray="0 1362.7 28.8 17.3 89.5 2684.9"/>
<circle r="604.2" stroke-dasharray="0 1379.3 7.4 43 21 48.4 35 15.4 33.4 2635.2"/>
<circle r="609.2" stroke-dasharray="0 1395 13.5 74.6 41.8 33.1 9.9 2685.1"/>
<circle r="614.2" stroke-dasharray="0 1396.8 40.5 5.4 6.1 104.9 41.6 2692.6"/>
<circle r="619.2" stroke-dasharray="0 1506.8 14.5 2801.6"/>
<circle r="624.2" stroke-dasharray="0 1419.5 84.6 8.8 132.1 2712.7"/>
<circle r="629.2" stroke-dasharray="0 1478.8 48.7 89.2 41.6 2734.4"/>
<circle r="634.2" stroke-dasharray="0 1536.5 134.9 2756.2"/>
<circle r="639.2" stroke-dasharray="0 1487.2 62 2913.3"/>
<circle r="644.2" stroke-dasharray="0 1465 20.1 10.1 5.6 12.5 5.6 5.6 173.1 2799.6"/>
<circle r="649.2" stroke-dasharray="0 1476.4 234.5 2821.3"/>
<circle r="654.2" stroke-dasharray="0 1500.6 22.8 10.5 68.1 41.3 40 2883.9"/>
<circle r="659.2" stroke-dasharray="0 1521.6 57.9 24 6.4 9.2 15.8 51.2 51.3 2864.8"/>
<circle r="664.2" stroke-dasharray="0 1524.7 5.8 30.4 75.4 44.5 5.8 8.4 6.7 24.4 24.4 2886.5"/>
<circle r="669.2" stroke-dasharray="0 1521.9 37.8 102.1 16.4 21.7 56.1 2915.9"/>
<circle r="674.2" stroke-dasharray="0 1533.2 87.6 68.5 18.8 9.6 59.1 2930"/>
<circle r="679.2" stroke-dasharray="0 1544.6 127.7 63.7 28.7 2977"/>
<circle r="684.2" stroke-dasharray="0 1556 32.1 46.5 128.3 3013.8"/>
<circle r="689.2" stroke-dasharray="0 1567.4 126.7 3117.4"/>
<circle r="694.2" stroke-dasharray="0 1578.7 20.8 6.1 107.9 3133"/>
<circle r="699.2" stroke-dasharray="0 1590.1 57.7 49.8 25.4 39.4 80.3 3038.6"/>
<circle r="704.2" stroke-dasharray="0 1653.6 6.4 8 29 3219.3"/>
<circle r="709.2" stroke-dasharray="0 1646.3 6.2 50.8 53.7 37.7 58.5 3098"/>
<circle r="714.2" stroke-dasharray="0 1624.2 24.6 24.2 14.3 103.5 91.4 3103.8"/>
<circle r="719.2" stroke-dasharray="0 1635.6 60.8 143.4 55.6 3125.5"/>
<circle r="724.2" stroke-dasharray="0 1750.2 7.4 3298.3"/>
<circle r="729.2" stroke-dasharray="0 1695.7 39.5 27.1 121.1 3207.3"/>
<circle r="734.2" stroke-dasharray="0 1710.2 69.1 86.7 69.1 3190.7"/>
<circle r="739.2" stroke-dasharray="0 1681.1 9.9 22 6.5 12.5 31.7 55.4 27.6 3314"/>
<circle r="744.2" stroke-dasharray="0 1711.5 15.8 121.9 6.5 3339.7"/>
<circle r="749.2" stroke-dasharray="0 1822.8 91.1 42.7 17.9 3255.9"/>
<circle r="754.2" stroke-dasharray="0 1715.2 6 51.4 34.5 16.1 164.5 3277.7"/>
<circle r="759.2" stroke-dasharray="0 1726.9 46.8 165.6 30.2 27.8 3.6 3299.4"/>
<circle r="764.2" stroke-dasharray="0 1737.9 99.1 117.3 59.8 3321.1"/>
<circle r="769.2" stroke-dasharray="0 1749.3 11.3 80.3 64.7 86 11.5 11.4 12.7 3342.8"/>
<circle r="774.2" stroke-dasharray="0 1760.7 7.8 6.8 6.8 20.8 58.8 111.4 6.8 3425.2"/>
<circle r="779.2" stroke-dasharray="0 1834.9 82.9 130.8 5 3386.3"/>
<circle r="784.2" stroke-dasharray="0 1804.5 88.1 79.6 61.2 3441.4"/>
<circle r="789.2" stroke-dasharray="0 1794.8 57.9 51.7 6.9 29.4 139.2 3429.8"/>
<circle r="794.2" stroke-dasharray="0 1818.2 25.5 70.8 39.4 8.6 38.2 40.9 51.5 3451.5"/>
<circle r="799.2" stroke-dasharray="0 1942.6 62.8 78.8 22.1 3473.2"/>
<circle r="804.2" stroke-dasharray="0 1855.9 13.3 102.4 147.8 3494.9"/>
<circle r="809.2" stroke-dasharray="0 1840.3 55.9 172.6 28.4 3552.1"/>
<circle r="814.2" stroke-dasharray="0 1851.6 68 33 16.6 80 12 47 37.5 3538.4"/>
<circle r="819.2" stroke-dasharray="0 1914.3 17.2 7.1 29.9 3750.5"/>
<circle r="824.2" stroke-dasharray="0 1973.7 10.2 12.1 7.2 16.7 30.9 26.5 31.9 20.3 8.3 3616.2"/>
<circle r="829.2" stroke-dasharray="0 1885.7 165.9 89.5 7.2 3640.5"/>
<circle r="834.2" stroke-dasharray="0 2062.7 83.8 43.9 8.1 3625.3"/>
<circle r="839.2" stroke-dasharray="0 1911.2 72 42.1 186.4 3647.1"/>
<circle r="844.2" stroke-dasharray="0 1934.6 41.2 68.7 23.2 3825.9"/>
<circle r="849.2" stroke-dasharray="0 1931.2 33.9 19 109.3 26 118.5 3690.5"/>
<circle r="854.2" stroke-dasharray="0 2000.7 160.3 3802.4"/>
<circle r="859.2" stroke-dasharray="0 1954 25.3 277.7 7.4 3734"/>
<circle r="864.2" stroke-dasharray="0 1965.3 146.2 3921.7"/>
<circle r="869.2" stroke-dasharray="0 2093.6 7.6 3966.9"/>
<circle r="874.2" stroke-dasharray="0 1988.1 38.8 84.1 15.1 55.9 15.4 3905.7"/>
<circle r="879.2" stroke-dasharray="0 1999.4 60.3 57.6 103.5 35.5 60.8 3820.9"/>
<circle r="884.2" stroke-dasharray="0 2010.8 48.8 217.8 7.7 3887.8"/>
<circle r="889.2" stroke-dasharray="0 2022.2 22.1 7.8 104.2 54.2 14.9 43.8 7.8 3930.8"/>
<circle r="894.2" stroke-dasharray="0 2033.6 132.3 12.3 114.5 45.4 18.5 3886.1"/>
<circle r="899.2" stroke-dasharray="0 2044.9 75.3 81.6 29.6 31.7 39.4 38.9 28.3 3907.8"/>
<circle r="909.2" stroke-dasharray="0 2094.6 115.3 4137.5"/>
<circle r="914.2" stroke-dasharray="0 2271.2 138.1 3973"/>
<circle r="919.2" stroke-dasharray="0 2090.4 46.6 18.3 27.4 24.3 128 4082.1"/>
<circle r="924.2" stroke-dasharray="0 2157 39 8.1 9.5 109.9 24 32.7 15 4056.9"/>
<circle r="929.2" stroke-dasharray="0 2113.2 15.6 8.1 8.1 8.7 50.4 40.3 143.7 4098.8"/>
<circle r="934.2" stroke-dasharray="0 2164.8 119.9 36.3 74.8 4126.2"/>
<circle r="939.2" stroke-dasharray="0 2135.9 17.4 8.2 31.3 8.2 11.1 8.2 254.9 4081.6"/>
<circle r="944.2" stroke-dasharray="0 2147.3 49.9 73.4 30.2 114.2 48.1 4128.7"/>
<circle r="949.2" stroke-dasharray="0 2158.6 34.3 8.3 88.5 94.5 21.6 4220.8"/>
<circle r="954.2" stroke-dasharray="0 2240.6 162 4259"/>
<circle r="959.2" stroke-dasharray="0 2181.4 133.7 23.5 100.6 35.5 19.7 4202"/>
<circle r="964.2" stroke-dasharray="0 2343.6 90.5 4297.2"/>
<circle r="969.2" stroke-dasharray="0 2303 153.3 4310"/>
<circle r="974.2" stroke-dasharray="0 2242.3 319.3 4239.6"/>
<circle r="979.2" stroke-dasharray="0 2226.9 67.1 8.5 55.5 44.1 33.4 4400.6"/>
<circle r="984.2" stroke-dasharray="0 2238.2 102 44.5 84 95.5 29.5 4277.2"/>
<circle r="989.2" stroke-dasharray="0 2267.8 118.1 4520.1"/>
<circle r="994.2" stroke-dasharray="0 2261 183.7 9.5 55.5 10.9 97.3 4323"/>
<circle r="999.2" stroke-dasharray="0 2290.1 89.4 39.6 22.3 72.2 119.7 4342.4"/>
<circle r="1004.2" stroke-dasharray="0 2283.7 134.4 149.2 79.2 4364.1"/>
<circle r="1009.2" stroke-dasharray="0 2295.1 158.6 156.7 24.1 11.6 8.8 4390.7"/>
<circle r="1014.2" stroke-dasharray="0 2411.8 27 119 115.2 4407.6"/>
<circle r="1019.2" stroke-dasharray="0 2336 132.1 44.2 59.4 8.9 21.5 4513.2"/>
<circle r="1024.2" stroke-dasharray="0 2329.2 186.3 90.8 9.6 4534.4"/>
<circle r="1029.2" stroke-dasharray="0 2435.6 84.9 26.7 165.2 4472.8"/>
<circle r="1034.2" stroke-dasharray="0 2351.9 166.1 76.4 53.8 65.3 12 4494.5"/>
<circle r="1039.2" stroke-dasharray="0 2428.5 222.7 4603.8"/>
<circle r="1049.2" stroke-dasharray="0 2509.9 160.3 9.2 85.8 4559.7"/>
<circle r="1054.2" stroke-dasharray="0 2498.5 221.6 4639.6"/>
<circle r="1064.2" stroke-dasharray="0 2511.1 153.2 73.1 67.2 4624.9"/>
<circle r="1069.2" stroke-dasharray="0 2578.9 16.9 4868.7"/>
<circle r="1074.2" stroke-dasharray="0 2610.1 128.4 20 72.5 4668.3"/>
<circle r="1079.2" stroke-dasharray="0 2668.9 107.2 14.6 53.6 4690.1"/>
<circle r="1084.2" stroke-dasharray="0 2700 136.1 4733.1"/>
<circle r="1089.2" stroke-dasharray="0 2477 192.8 14.9 128.8 4790.6"/>
<circle r="1094.2" stroke-dasharray="0 2488.4 262.6 4888"/>
<circle r="1099.2" stroke-dasharray="0 2714 39.4 9.6 134 4777"/>
<circle r="1104.2" stroke-dasharray="0 2693.9 175.2 4839.7"/>
<circle r="1109.2" stroke-dasharray="0 2522.5 341.2 18.4 9.7 4851.9"/>
<circle r="1114.2" stroke-dasharray="0 2730.4 126.6 4921.5"/>
<circle r="1119.2" stroke-dasharray="0 2664.9 280.2 4868.3"/>
<circle r="1129.2" stroke-dasharray="0 2782.6 9.9 5090.9"/>
<circle r="1134.2" stroke-dasharray="0 2928.8 60.4 4929.1"/>
<circle r="1139.2" stroke-dasharray="0 2914 46.4 9.9 32 4950.8"/>
<circle r="1144.2" stroke-dasharray="0 2809.6 205.8 4972.5"/>
<circle r="1149.2" stroke-dasharray="0 2963.4 21.7 5037.8"/>
<circle r="1154.2" stroke-dasharray="0 2849.5 192.4 5016"/>
<circle r="1159.2" stroke-dasharray="0 2972.2 82.8 5037.7"/>
<circle r="1164.2" stroke-dasharray="0 2844.5 162.2 5120.9"/>
<circle r="1169.2" stroke-dasharray="0 2827.7 131.2 5203.7"/>
<circle r="1174.2" stroke-dasharray="0 2847.2 173.5 10.2 40.9 5125.6"/>
<circle r="1184.2" stroke-dasharray="0 2693.1 422.9 5151.3"/>
<circle r="1189.2" stroke-dasharray="0 3078.8 10.4 24.1 10.4 5178.5"/>
<circle r="1194.2" stroke-dasharray="0 2861.1 243.1 24.4 18.6 5189.8"/>
<circle r="1199.2" stroke-dasharray="0 3090.9 10.5 5270.6"/>
<circle r="1204.2" stroke-dasharray="0 2918.8 112.6 5375.5"/>
<circle r="1209.2" stroke-dasharray="0 3130.1 27.1 5284.6"/>
<circle r="1219.2" stroke-dasharray="0 3001.3 122.7 5387.6"/>
<circle r="1224.2" stroke-dasharray="0 3045.8 71.1 97.8 11.6 5320.2"/>
<circle r="1229.2" stroke-dasharray="0 3085 38.1 5458.3"/>
<circle r="1234.2" stroke-dasharray="0 3090.5 160.4 5365.5"/>
<circle r="1239.2" stroke-dasharray="0 3132.8 10.8 5507.6"/>
<circle r="1244.2" stroke-dasharray="0 2968.8 234.3 5483.1"/>
<circle r="1249.2" stroke-dasharray="0 3014.9 277.3 5428.9"/>
<circle r="1254.2" stroke-dasharray="0 3135.1 68.7 5552.2"/>
<circle r="1259.2" stroke-dasharray="0 3203.7 114.8 5472.3"/>
<circle r="1264.2" stroke-dasharray="0 3221.9 109.9 5494"/>
<circle r="1274.2" stroke-dasharray="0 3203.4 111.7 5580.5"/>
<circle r="1279.2" stroke-dasharray="0 3147 224.3 5559.2"/>
<circle r="1284.2" stroke-dasharray="0 3309.3 75.2 5581"/>
<circle r="1289.2" stroke-dasharray="0 3207.1 119.7 5673.5"/>
<circle r="1294.2" stroke-dasharray="0 3383.2 27.6 5624.4"/>
<circle r="1299.2" stroke-dasharray="0 3150.1 206.9 11.3 55.7 5646.2"/>
<circle r="1309.2" stroke-dasharray="0 3342.9 107.4 5689.6"/>
</g>
<g fill="none" stroke="#000" stroke-opacity="0.22" stroke-width="2.4">
<circle r="471.8" stroke-dasharray="0 1129.3 6.4 54.9 52.8 2050.4"/>
<circle r="476.8" stroke-dasharray="0 1084.3 32.8 54.1 10.9 54.5 7.2 2085"/>
<circle r="486.8" stroke-dasharray="0 1178.7 4.2 2215.6"/>
<circle r="491.8" stroke-dasharray="0 1118.4 6.3 9.3 63.6 59.9 22 2153.9"/>
<circle r="496.8" stroke-dasharray="0 1129.8 51.5 124.7 3.2 2159"/>
<circle r="501.8" stroke-dasharray="0 1217 80.1 2206.1"/>
<circle r="506.8" stroke-dasharray="0 1295.4 4.4 2238.3"/>
<circle r="516.8" stroke-dasharray="0 1175.3 22.9 11.5 27.2 2371.1"/>
<circle r="526.8" stroke-dasharray="0 1202.2 21.1 7.7 6.6 5.3 11.6 30 103.8 2289.4"/>
<circle r="531.8" stroke-dasharray="0 1209.4 83.5 2419.8"/>
<circle r="536.8" stroke-dasharray="0 1222.1 4.7 2520.8"/>
<circle r="546.8" stroke-dasharray="0 1261.1 4.8 158.4 4.8 2388.4"/>
<circle r="551.8" stroke-dasharray="0 1254.9 2.7 101.8 45.8 2447.1"/>
<circle r="556.8" stroke-dasharray="0 1413.5 23.1 2450.6"/>
<circle r="561.8" stroke-dasharray="0 1277.6 29.8 2614.6"/>
<circle r="566.8" stroke-dasharray="0 1411.2 15.1 2530.8"/>
<circle r="571.8" stroke-dasharray="0 1313.8 5 143 22.9 2507.2"/>
<circle r="576.8" stroke-dasharray="0 1477.9 7.6 5 29.6 2506.7"/>
<circle r="581.8" stroke-dasharray="0 1456.7 13.3 2591.7"/>
<circle r="586.8" stroke-dasharray="0 1392.3 28.2 12.3 5.1 94.3 14.2 2550.2"/>
<circle r="601.8" stroke-dasharray="0 1414.5 20.4 39.1 17.4 2710"/>
<circle r="606.8" stroke-dasharray="0 1380 23.8 117.2 22.6 2692.7"/>
<circle r="611.8" stroke-dasharray="0 1444 9.8 130.5 5.3 5.3 5.3 5.3 6.7 2658.8"/>
<circle r="621.8" stroke-dasharray="0 1584.9 8.8 2747.3"/>
<circle r="626.8" stroke-dasharray="0 1518.2 11.3 86.3 5.5 2754.5"/>
<circle r="631.8" stroke-dasharray="0 1436.8 2.8 71.1 20.1 30.8 5.5 2843.6"/>
<circle r="636.8" stroke-dasharray="0 1532.6 12.5 37 31.5 2832.2"/>
<circle r="641.8" stroke-dasharray="0 1513.6 18.6 118.4 5.6 2824.5"/>
<circle r="646.8" stroke-dasharray="0 1527 68 44.4 8.8 2867.3"/>
<circle r="651.8" stroke-dasharray="0 1576.4 15 72.5 6.2 2880.3"/>
<circle r="656.8" stroke-dasharray="0 1493.7 23.7 74.6 112.6 2880.7"/>
<circle r="661.8" stroke-dasharray="0 1664.2 41.6 15 23.3 2876.1"/>
<circle r="671.8" stroke-dasharray="0 1537.6 20.1 66.8 24.2 87.1 15.7 2938.5"/>
<circle r="681.8" stroke-dasharray="0 1564.2 26 60 65.9 39.4 20.1 2984.3"/>
<circle r="686.8" stroke-dasharray="0 1562 186.7 3046.1"/>
<circle r="691.8" stroke-dasharray="0 1710.9 6 3112.8"/>
<circle r="696.8" stroke-dasharray="0 1584.6 24.4 113.3 11.2 83.2 19.6 3028.2"/>
<circle r="706.8" stroke-dasharray="0 1607.4 118.1 60.3 77 3071.7"/>
<circle r="711.8" stroke-dasharray="0 1618.7 4.8 52.4 68.2 3225.1"/>
<circle r="716.8" stroke-dasharray="0 1757.9 15.2 43.4 10.2 3177.6"/>
<circle r="721.8" stroke-dasharray="0 1664.1 37.8 105.3 6.3 42.2 33.4 3150"/>
<circle r="726.8" stroke-dasharray="0 1652.9 74 3347.1"/>
<circle r="731.8" stroke-dasharray="0 1664.2 12.1 128.1 84.5 3220.1"/>
<circle r="736.8" stroke-dasharray="0 1698.7 29.8 3415.4"/>
<circle r="741.8" stroke-dasharray="0 1687 67.6 66.8 6.5 79.3 23.9 6.5 6.5 3234.6"/>
<circle r="746.8" stroke-dasharray="0 1821.5 52.3 3339.8"/>
<circle r="751.8" stroke-dasharray="0 1856 18.4 3374.2"/>
<circle r="756.8" stroke-dasharray="0 1743.2 37.9 22.5 85.2 3394.7"/>
<circle r="761.8" stroke-dasharray="0 1832.1 32.6 3453.6"/>
<circle r="771.8" stroke-dasharray="0 1984.5 13.7 23.6 9.3 3357.1"/>
<circle r="776.8" stroke-dasharray="0 2042.8 4.4 3375.9"/>
<circle r="781.8" stroke-dasharray="0 1777.9 73.5 3606.5"/>
<circle r="786.8" stroke-dasharray="0 1908.5 15.1 3569.3"/>
<circle r="791.8" stroke-dasharray="0 1800.7 10.3 85 6.9 3625"/>
<circle r="796.8" stroke-dasharray="0 1828.5 20.4 23.4 36.4 33 7 119.8 31.5 3462.8"/>
<circle r="801.8" stroke-dasharray="0 1896.8 21.3 11.7 99.7 32.6 11.6 3523.8"/>
<circle r="806.8" stroke-dasharray="0 2027.8 7 3597.7"/>
<circle r="811.8" stroke-dasharray="0 1864 32.6 71.8 31.4 3667.5"/>
<circle r="816.8" stroke-dasharray="0 1857.5 84.3 173.7 23.7 3563.1"/>
<circle r="821.8" stroke-dasharray="0 1939.5 54.9 98.7 72.6 3571.4"/>
<circle r="826.8" stroke-dasharray="0 1880.3 18.2 7.2 7.2 3859.2"/>
<circle r="831.8" stroke-dasharray="0 2108.5 37.2 42.8 3.7 3614.9"/>
<circle r="836.8" stroke-dasharray="0 1948.8 74.6 3818.6"/>
<circle r="841.8" stroke-dasharray="0 1928.2 8.7 33.7 14.7 23.7 42.3 3825.5"/>
<circle r="846.8" stroke-dasharray="0 1925.8 24.1 146.5 48.1 29.9 57.3 3680.1"/>
<circle r="851.8" stroke-dasharray="0 1944.2 7.4 221.8 38.4 3734.9"/>
<circle r="856.8" stroke-dasharray="0 1948.5 24.6 61.3 64.3 72.9 86.5 3723.5"/>
<circle r="861.8" stroke-dasharray="0 1959.9 11.5 196.7 7.5 3841"/>
<circle r="871.8" stroke-dasharray="0 1982.6 9.8 56.3 76.2 72.5 91.5 3797.4"/>
<circle r="876.8" stroke-dasharray="0 2020 7.7 8.6 8.4 209.8 8.5 3858.2"/>
<circle r="881.8" stroke-dasharray="0 2005.4 71.5 65.8 58.3 28.2 7.7 32.6 7.7 3879"/>
<circle r="886.8" stroke-dasharray="0 2207.8 62.3 3920.9"/>
<circle r="891.8" stroke-dasharray="0 2028.1 20 105.5 7.8 135.9 53.1 3875.6"/>
<circle r="896.8" stroke-dasharray="0 2171.9 47.2 68.3 20.9 3952.6"/>
<circle r="901.8" stroke-dasharray="0 2195.3 7.9 110.4 53.6 3928.6"/>
<circle r="906.8" stroke-dasharray="0 2077.5 60.2 99.3 7.9 7.9 7.9 102.1 27 3940.8"/>
<circle r="911.8" stroke-dasharray="0 2122.4 30.9 88.2 8 4116.1"/>
<circle r="916.8" stroke-dasharray="0 2085 118.5 151.6 50.9 3994.6"/>
<circle r="921.8" stroke-dasharray="0 2137.5 167.5 54 44.2 4032.1"/>
<circle r="926.8" stroke-dasharray="0 2203.7 8.1 11.5 54.6 12.8 26.2 4153.3"/>
<circle r="931.8" stroke-dasharray="0 2296.4 19.3 16.7 8.1 4164.7"/>
<circle r="936.8" stroke-dasharray="0 2133.2 113.2 4293.7"/>
<circle r="941.8" stroke-dasharray="0 2155.3 10.3 273.5 42.9 4092.9"/>
<circle r="946.8" stroke-dasharray="0 2222.6 27 4360.4"/>
<circle r="951.8" stroke-dasharray="0 2173.4 32.1 4439.4"/>
<circle r="956.8" stroke-dasharray="0 2308.6 64.6 113.9 14.4 4178.2"/>
<circle r="971.8" stroke-dasharray="0 2285.4 33.9 4465.1"/>
<circle r="986.8" stroke-dasharray="0 2545.7 54.9 4288.5"/>
<circle r="996.8" stroke-dasharray="0 2435.7 33 4490.4"/>
<circle r="1001.8" stroke-dasharray="0 2476.9 8.7 72.7 8.7 4426.9"/>
<circle r="1006.8" stroke-dasharray="0 2370.2 53.5 4605.2"/>
<circle r="1016.8" stroke-dasharray="0 2475.5 45.7 4577.5"/>
<circle r="1021.8" stroke-dasharray="0 2377.6 98.8 8.9 33.9 4614.4"/>
<circle r="1026.8" stroke-dasharray="0 2449.7 78.2 4640.5"/>
<circle r="1036.8" stroke-dasharray="0 2666.1 66.3 4505.8"/>
<circle r="1041.8" stroke-dasharray="0 2600.6 16.5 4656"/>
<circle r="1046.8" stroke-dasharray="0 2639.4 9.1 53.3 11.9 4594.4"/>
<circle r="1051.8" stroke-dasharray="0 2592.5 9.2 4741.3"/>
<circle r="1061.8" stroke-dasharray="0 2642.6 16 4754.1"/>
<circle r="1066.8" stroke-dasharray="0 2561.9 85.8 26.6 37.5 4735.8"/>
<circle r="1071.8" stroke-dasharray="0 2550.1 108.8 79.4 13.8 4730.5"/>
<circle r="1076.8" stroke-dasharray="0 2794.5 28.8 4694.1"/>
<circle r="1081.8" stroke-dasharray="0 2808.6 22.4 4721.4"/>
<circle r="1086.8" stroke-dasharray="0 2826.5 35.3 4725.5"/>
<circle r="1091.8" stroke-dasharray="0 2749.3 91.6 4781.3"/>
<circle r="1096.8" stroke-dasharray="0 2822.7 67.8 4766.6"/>
<circle r="1106.8" stroke-dasharray="0 2677.7 67.1 4982.1"/>
<circle r="1116.8" stroke-dasharray="0 2873.5 9.7 4913.5"/>
<circle r="1126.8" stroke-dasharray="0 2737.5 232.1 4896.9"/>
<circle r="1131.8" stroke-dasharray="0 2812.7 36.8 70.8 48.3 4932.9"/>
<circle r="1146.8" stroke-dasharray="0 2920.8 101.5 4983.8"/>
<circle r="1151.8" stroke-dasharray="0 2939.7 41 5060.4"/>
<circle r="1176.8" stroke-dasharray="0 2917.7 20.2 56.6 106.9 5114.2"/>
<circle r="1181.8" stroke-dasharray="0 3037.9 47.2 5165.4"/>
<circle r="1186.8" stroke-dasharray="0 3053.1 11.4 5220.9"/>
<circle r="1196.8" stroke-dasharray="0 2968.8 158.8 5227.7"/>
<circle r="1206.8" stroke-dasharray="0 3058.9 15.2 85.4 20.8 5244.6"/>
<circle r="1211.8" stroke-dasharray="0 3167.8 10.6 5281.6"/>
<circle r="1221.8" stroke-dasharray="0 3033 122.1 5374.6"/>
<circle r="1226.8" stroke-dasharray="0 2974.4 138.3 72.9 47.6 5331.5"/>
<circle r="1241.8" stroke-dasharray="0 3164.1 12.6 62.9 33.2 5396.7"/>
<circle r="1251.8" stroke-dasharray="0 3284.8 14.2 5440.2"/>
<circle r="1291.8" stroke-dasharray="0 3221.6 124.1 5672.8"/>
<circle r="1296.8" stroke-dasharray="0 3408.7 8.9 5635.7"/>
</g>
<g fill="none" stroke="#000" stroke-opacity="0.5" stroke-width="2.8">
<circle r="474" stroke-dasharray="0 367 4.1 2938"/>
<circle r="482" stroke-dasharray="0 432.3 4.2 371 16.5 229.6 14.6 2296.8"/>
<circle r="490" stroke-dasharray="0 397.7 4.3 3018.8"/>
<circle r="498" stroke-dasharray="0 403.8 4.3 58 5.9 24.1 7.9 238.9 4.3 2729.4"/>
<circle r="506" stroke-dasharray="0 296.9 5.4 275.2 5.6 228.7 6.8 221.2 4.4 2488.3"/>
<circle r="514" stroke-dasharray="0 822.8 9.8 208.3 6.4 84.5 9.5 147.1 4.5 47.5 4.5 2243.5"/>
<circle r="522" stroke-dasharray="0 533 9.7 269.4 6 125.4 6.8 211.7 11.5 2470.8"/>
<circle r="530" stroke-dasharray="0 411.5 5.5 575.3 12.5 293.5 9.6 2392.1"/>
<circle r="538" stroke-dasharray="0 381.1 4.7 261.5 4.7 715.2 4.7 2384"/>
<circle r="554" stroke-dasharray="0 344.2 4.8 330.9 12.6 89.8 8.5 3076.7"/>
<circle r="562" stroke-dasharray="0 1131.1 4.9 67.7 17.3 114.4 13.7 2574.5"/>
<circle r="570" stroke-dasharray="0 734.9 5 121 19.9 122.3 6.3 274.3 5 127.8 14.9 2548.2"/>
<circle r="578" stroke-dasharray="0 366.2 5 267.3 5 144.4 20.2 575.5 5 27.9 5 38.9 5 2569.6"/>
<circle r="586" stroke-dasharray="0 696.4 13.9 3380.7"/>
<circle r="594" stroke-dasharray="0 898.8 5.2 3242.9"/>
<circle r="602" stroke-dasharray="0 956.2 5.3 491 16.5 2733.8"/>
<circle r="610" stroke-dasharray="0 441.3 11.4 126.4 21.3 455.8 5.7 184.8 5.3 3006.5"/>
<circle r="618" stroke-dasharray="0 534.9 5.4 243.6 11.3 3519.4"/>
<circle r="626" stroke-dasharray="0 316.8 5.4 270.2 6.7 3771.2"/>
<circle r="634" stroke-dasharray="0 1026.9 5.5 231.3 5.5 280.4 14.7 2861.8"/>
<circle r="642" stroke-dasharray="0 1053.8 7.3 24.2 22.4 180 8 20.5 5.6 51.2 9.7 128.9 19.4 67.1 13.1 9.2 5.6 2856"/>
<circle r="650" stroke-dasharray="0 1083 8.5 124 10.3 134.1 22.7 238.7 5.7 2911"/>
<circle r="658" stroke-dasharray="0 339.9 13 431.2 23 3786.6"/>
<circle r="666" stroke-dasharray="0 354.8 5.8 399.3 23.2 309.2 23.2 135.7 6 243.1 23.2 203.8 18.3 2903.9"/>
<circle r="674" stroke-dasharray="0 1135.1 7.5 146.2 23.5 249 23.5 3120.5"/>
<circle r="682" stroke-dasharray="0 1426.6 6 3328.7"/>
<circle r="690" stroke-dasharray="0 462.7 6 159.2 6 1029.9 6 3147.3"/>
<circle r="698" stroke-dasharray="0 674.8 17.3 201.9 24.4 757.6 6.1 3190.9"/>
<circle r="706" stroke-dasharray="0 604.9 17 238.9 6.2 430.7 24.6 3606.5"/>
<circle r="714" stroke-dasharray="0 473.3 17 18.1 24.9 4451.3"/>
<circle r="722" stroke-dasharray="0 507.3 25.2 379.6 11.7 4116.7"/>
<circle r="730" stroke-dasharray="0 472.7 8.9 223.9 6.4 165 6.4 4213"/>
<circle r="746" stroke-dasharray="0 538.8 6.5 240.4 6.5 4415.9"/>
<circle r="754" stroke-dasharray="0 718.4 26.3 4519.2"/>
<circle r="762" stroke-dasharray="0 431 6.6 348.6 26.6 4506.9"/>
<circle r="770" stroke-dasharray="0 1614.3 6.7 3754.6"/>
<circle r="786" stroke-dasharray="0 407.1 27.4 12.8 6.9 175.7 15.5 4841.9"/>
<circle r="794" stroke-dasharray="0 1758.2 6.9 201.7 27.7 3548.6"/>
<circle r="802" stroke-dasharray="0 839.8 28 1142.2 22.7 3566.3"/>
<circle r="810" stroke-dasharray="0 417.4 23.4 5214.1"/>
<circle r="818" stroke-dasharray="0 753.5 12.6 1382.2 7.1 3555.2"/>
<circle r="826" stroke-dasharray="0 721.6 7.2 5037.8"/>
<circle r="834" stroke-dasharray="0 802.1 28 1021.7 13.2 105.7 7.3 3844.3"/>
<circle r="858" stroke-dasharray="0 477.3 29.9 310.3 18.5 1019.9 7.5 224 7.5 3895.2"/>
<circle r="874" stroke-dasharray="0 689.5 23.8 1337.5 14.5 42.1 7.6 3986.7"/>
<circle r="882" stroke-dasharray="0 821.7 7.7 5328.1"/>
<circle r="890" stroke-dasharray="0 607.3 17 135.1 12.5 5441.4"/>
<circle r="898" stroke-dasharray="0 1994.8 31.3 4243"/>
<circle r="922" stroke-dasharray="0 2252.7 32.2 100.5 12.6 4038.7"/>
<circle r="938" stroke-dasharray="0 583.2 23.8 5941.5"/>
<circle r="946" stroke-dasharray="0 684.5 17.5 5902.3"/>
<circle r="954" stroke-dasharray="0 2208.6 8.3 4443.3"/>
<circle r="962" stroke-dasharray="0 671.6 8.4 6036"/>
<circle r="970" stroke-dasharray="0 547.6 15.5 51.6 8.5 1750.4 33.9 135.8 8.5 4220.1"/>
<circle r="986" stroke-dasharray="0 499.1 15.7 141.5 8.6 1675.5 8.6 4534.6"/>
<circle r="994" stroke-dasharray="0 2601.2 10.1 4328.1"/>
<circle r="1018" stroke-dasharray="0 618.9 8.9 6479.2"/>
<circle r="1026" stroke-dasharray="0 2455.5 9 4698.4"/>
<circle r="1034" stroke-dasharray="0 721.9 9 6487.8"/>
<circle r="1058" stroke-dasharray="0 2654.3 10.4 4721.6"/>
<circle r="1066" stroke-dasharray="0 735.9 11.3 9.3 27.3 1861.3 10.3 4786.6"/>
<circle r="1098" stroke-dasharray="0 2838.3 11 4816.2"/>
<circle r="1114" stroke-dasharray="0 2724 28.3 5024.9"/>
<circle r="1146" stroke-dasharray="0 2839.6 10 5150.9"/>
<circle r="1162" stroke-dasharray="0 601.6 28.3 7482.4"/>
<circle r="1186" stroke-dasharray="0 620.2 41.4 7618.3"/>
<circle r="1194" stroke-dasharray="0 3005.4 15.1 60.3 10.4 5244.4"/>
<circle r="1202" stroke-dasharray="0 646 42 7703.6"/>
<circle r="1226" stroke-dasharray="0 687.4 10.7 7861"/>
<circle r="1234" stroke-dasharray="0 3179.2 10.8 5425"/>
<circle r="1258" stroke-dasharray="0 3223.7 43.9 11 11 5492.9"/>
<circle r="1274" stroke-dasharray="0 644.8 19.8 8229.6"/>
<circle r="1298" stroke-dasharray="0 712.9 11.3 2658.4 11.3 5667.8"/>
<circle r="1306" stroke-dasharray="0 3328.8 45.6 5743.2"/>
</g>
</g>
<g fill="none" stroke-linecap="round">
<g filter="url(#b2)"><path d="M800 504.5 L1023 518 L1305 536" stroke="#a2a2a2" stroke-width="7" opacity=".8"/></g>
<g filter="url(#b2)"><path d="M925 511 L1023 518 L1112 524.5" stroke="#bdbdbd" stroke-width="4" stroke-linecap="butt" stroke-dasharray="37 3 25 6 44 2 21 5 33 4"/><path d="M940 513 L1023 519 L1100 524.5" stroke="#c7c7c7" stroke-width="4" stroke-linecap="butt" stroke-dasharray="12 9 30 14 8 11 26 7"/></g>
</g>
</g></g>
<path d="M1034.5 85.5 L1239.8 308.4" stroke="#000" stroke-width="10" fill="none"/>
<path d="M1269.5 340 L1253.2 285.2 L1216 320.4Z" fill="#000"/>
<path d="M563.4 440 L752.1 518.2" stroke="#000" stroke-width="9.4" fill="none"/>
<path d="M792.1 534.3 L755.1 492.1 L735.1 538.6Z" fill="#000"/>
<text x="0" y="0" font-size="63.5" fill="#000" textLength="286" lengthAdjust="spacingAndGlyphs" transform="translate(85.3 540.5) rotate(-90)">Depth (m)</text>
<text x="787.5" y="850.6" font-size="63.5" fill="#000" textLength="477" lengthAdjust="spacingAndGlyphs">Swath Width (m)</text>
<text x="103.8" y="338" font-size="56" fill="#000" textLength="57" lengthAdjust="spacingAndGlyphs">50</text>
<text x="86" y="595" font-size="56" fill="#000" textLength="79.5" lengthAdjust="spacingAndGlyphs">100</text>
<text x="319" y="797.5" font-size="56" fill="#000" textLength="100.5" lengthAdjust="spacingAndGlyphs">-200</text>
<text x="640.2" y="797.5" font-size="56" fill="#000" textLength="100.5" lengthAdjust="spacingAndGlyphs">-100</text>
<text x="987" y="795" font-size="56" fill="#000" textLength="27.5" lengthAdjust="spacingAndGlyphs">0</text>
<text x="1262.5" y="795" font-size="56" fill="#000" textLength="83" lengthAdjust="spacingAndGlyphs">100</text>
<text x="1564.2" y="795" font-size="56" fill="#000" textLength="83.5" lengthAdjust="spacingAndGlyphs">200</text>
<text x="1181" y="177" font-size="64.5" fill="#fff" textLength="136" lengthAdjust="spacingAndGlyphs">MSR</text>
<text x="386" y="404" font-size="64.5" fill="#fff" textLength="226" lengthAdjust="spacingAndGlyphs">Seafloor</text>
<text x="783.6" y="323.2" font-size="65" fill="#000" font-weight="bold" textLength="30.5" lengthAdjust="spacingAndGlyphs">a</text>
<text x="1227" y="447" font-size="65" fill="#000" font-weight="bold" textLength="37" lengthAdjust="spacingAndGlyphs">b</text>
<text x="988.3" y="492.2" font-size="65" fill="#000" font-weight="bold" textLength="27.5" lengthAdjust="spacingAndGlyphs">c</text>
<text x="472.3" y="590.3" font-size="63" fill="#000" font-weight="bold" textLength="59.5" lengthAdjust="spacingAndGlyphs">s1</text>
<text x="946.5" y="657" font-size="63" fill="#000" font-weight="bold" textLength="60" lengthAdjust="spacingAndGlyphs">s2</text>
<text x="1393.3" y="589.4" font-size="63" fill="#000" font-weight="bold" textLength="59" lengthAdjust="spacingAndGlyphs">s3</text>
</svg></body></html>
